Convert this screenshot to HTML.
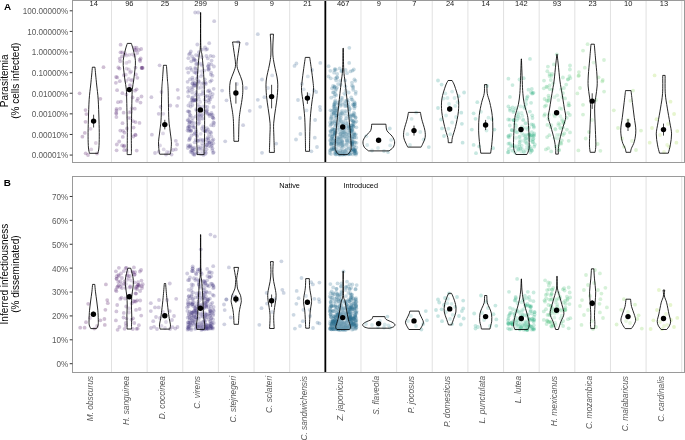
<!DOCTYPE html><html><head><meta charset="utf-8"><style>html,body{margin:0;padding:0;background:#fff;width:685px;height:440px;overflow:hidden}svg{display:block}text{font-family:"Liberation Sans",sans-serif}</style></head><body>
<svg width="685" height="440" viewBox="0 0 685 440">
<rect width="685" height="440" fill="#fff"/>
<line x1="111.50" y1="0.50" x2="111.50" y2="162.50" stroke="#dedede" stroke-width="0.9"/>
<line x1="147.14" y1="0.50" x2="147.14" y2="162.50" stroke="#dedede" stroke-width="0.9"/>
<line x1="182.78" y1="0.50" x2="182.78" y2="162.50" stroke="#dedede" stroke-width="0.9"/>
<line x1="218.42" y1="0.50" x2="218.42" y2="162.50" stroke="#dedede" stroke-width="0.9"/>
<line x1="254.06" y1="0.50" x2="254.06" y2="162.50" stroke="#dedede" stroke-width="0.9"/>
<line x1="289.70" y1="0.50" x2="289.70" y2="162.50" stroke="#dedede" stroke-width="0.9"/>
<line x1="360.98" y1="0.50" x2="360.98" y2="162.50" stroke="#dedede" stroke-width="0.9"/>
<line x1="396.62" y1="0.50" x2="396.62" y2="162.50" stroke="#dedede" stroke-width="0.9"/>
<line x1="432.26" y1="0.50" x2="432.26" y2="162.50" stroke="#dedede" stroke-width="0.9"/>
<line x1="467.90" y1="0.50" x2="467.90" y2="162.50" stroke="#dedede" stroke-width="0.9"/>
<line x1="503.54" y1="0.50" x2="503.54" y2="162.50" stroke="#dedede" stroke-width="0.9"/>
<line x1="539.18" y1="0.50" x2="539.18" y2="162.50" stroke="#dedede" stroke-width="0.9"/>
<line x1="574.82" y1="0.50" x2="574.82" y2="162.50" stroke="#dedede" stroke-width="0.9"/>
<line x1="610.46" y1="0.50" x2="610.46" y2="162.50" stroke="#dedede" stroke-width="0.9"/>
<line x1="646.10" y1="0.50" x2="646.10" y2="162.50" stroke="#dedede" stroke-width="0.9"/>
<line x1="681.74" y1="0.50" x2="681.74" y2="162.50" stroke="#dedede" stroke-width="0.9"/>
<circle cx="103.5" cy="67.2" r="1.9" fill="#440154" fill-opacity="0.25"/>
<circle cx="79.6" cy="93.3" r="1.9" fill="#440154" fill-opacity="0.25"/>
<circle cx="100.4" cy="98.8" r="1.9" fill="#440154" fill-opacity="0.25"/>
<circle cx="85.5" cy="110.1" r="1.9" fill="#440154" fill-opacity="0.25"/>
<circle cx="86.4" cy="114.1" r="1.9" fill="#440154" fill-opacity="0.25"/>
<circle cx="85.5" cy="121.8" r="1.9" fill="#440154" fill-opacity="0.25"/>
<circle cx="90.6" cy="128.8" r="1.9" fill="#440154" fill-opacity="0.25"/>
<circle cx="84.8" cy="132.9" r="1.9" fill="#440154" fill-opacity="0.25"/>
<circle cx="82.4" cy="136.7" r="1.9" fill="#440154" fill-opacity="0.25"/>
<circle cx="95.8" cy="143.0" r="1.9" fill="#440154" fill-opacity="0.25"/>
<circle cx="91.2" cy="149.4" r="1.9" fill="#440154" fill-opacity="0.25"/>
<circle cx="85.7" cy="153.3" r="1.9" fill="#440154" fill-opacity="0.25"/>
<circle cx="97.0" cy="153.5" r="1.9" fill="#440154" fill-opacity="0.25"/>
<circle cx="88.0" cy="155.0" r="1.9" fill="#440154" fill-opacity="0.25"/>
<circle cx="123.9" cy="75.2" r="1.9" fill="#481467" fill-opacity="0.25"/>
<circle cx="120.2" cy="61.3" r="1.9" fill="#481467" fill-opacity="0.25"/>
<circle cx="120.5" cy="52.3" r="1.9" fill="#481467" fill-opacity="0.25"/>
<circle cx="119.8" cy="81.2" r="1.9" fill="#481467" fill-opacity="0.25"/>
<circle cx="116.5" cy="110.4" r="1.9" fill="#481467" fill-opacity="0.25"/>
<circle cx="135.9" cy="74.4" r="1.9" fill="#481467" fill-opacity="0.25"/>
<circle cx="136.6" cy="47.7" r="1.9" fill="#481467" fill-opacity="0.25"/>
<circle cx="139.7" cy="59.7" r="1.9" fill="#481467" fill-opacity="0.25"/>
<circle cx="130.0" cy="86.0" r="1.9" fill="#481467" fill-opacity="0.25"/>
<circle cx="122.1" cy="145.4" r="1.9" fill="#481467" fill-opacity="0.25"/>
<circle cx="130.8" cy="111.9" r="1.9" fill="#481467" fill-opacity="0.25"/>
<circle cx="141.7" cy="68.0" r="1.9" fill="#481467" fill-opacity="0.25"/>
<circle cx="122.0" cy="56.3" r="1.9" fill="#481467" fill-opacity="0.25"/>
<circle cx="117.2" cy="77.4" r="1.9" fill="#481467" fill-opacity="0.25"/>
<circle cx="136.7" cy="150.6" r="1.9" fill="#481467" fill-opacity="0.25"/>
<circle cx="128.8" cy="69.5" r="1.9" fill="#481467" fill-opacity="0.25"/>
<circle cx="132.3" cy="54.3" r="1.9" fill="#481467" fill-opacity="0.25"/>
<circle cx="136.6" cy="89.3" r="1.9" fill="#481467" fill-opacity="0.25"/>
<circle cx="120.3" cy="130.6" r="1.9" fill="#481467" fill-opacity="0.25"/>
<circle cx="123.6" cy="112.7" r="1.9" fill="#481467" fill-opacity="0.25"/>
<circle cx="115.9" cy="82.8" r="1.9" fill="#481467" fill-opacity="0.25"/>
<circle cx="137.4" cy="77.8" r="1.9" fill="#481467" fill-opacity="0.25"/>
<circle cx="137.2" cy="53.1" r="1.9" fill="#481467" fill-opacity="0.25"/>
<circle cx="139.5" cy="122.9" r="1.9" fill="#481467" fill-opacity="0.25"/>
<circle cx="120.6" cy="44.7" r="1.9" fill="#481467" fill-opacity="0.25"/>
<circle cx="127.0" cy="128.5" r="1.9" fill="#481467" fill-opacity="0.25"/>
<circle cx="128.3" cy="117.9" r="1.9" fill="#481467" fill-opacity="0.25"/>
<circle cx="119.5" cy="68.6" r="1.9" fill="#481467" fill-opacity="0.25"/>
<circle cx="130.4" cy="118.2" r="1.9" fill="#481467" fill-opacity="0.25"/>
<circle cx="122.8" cy="136.9" r="1.9" fill="#481467" fill-opacity="0.25"/>
<circle cx="131.3" cy="80.5" r="1.9" fill="#481467" fill-opacity="0.25"/>
<circle cx="135.0" cy="90.7" r="1.9" fill="#481467" fill-opacity="0.25"/>
<circle cx="126.7" cy="55.5" r="1.9" fill="#481467" fill-opacity="0.25"/>
<circle cx="128.8" cy="79.0" r="1.9" fill="#481467" fill-opacity="0.25"/>
<circle cx="140.7" cy="58.5" r="1.9" fill="#481467" fill-opacity="0.25"/>
<circle cx="120.9" cy="101.7" r="1.9" fill="#481467" fill-opacity="0.25"/>
<circle cx="140.2" cy="61.1" r="1.9" fill="#481467" fill-opacity="0.25"/>
<circle cx="123.9" cy="146.5" r="1.9" fill="#481467" fill-opacity="0.25"/>
<circle cx="118.0" cy="102.2" r="1.9" fill="#481467" fill-opacity="0.25"/>
<circle cx="116.2" cy="112.8" r="1.9" fill="#481467" fill-opacity="0.25"/>
<circle cx="125.0" cy="53.1" r="1.9" fill="#481467" fill-opacity="0.25"/>
<circle cx="119.8" cy="58.7" r="1.9" fill="#481467" fill-opacity="0.25"/>
<circle cx="142.2" cy="67.7" r="1.9" fill="#481467" fill-opacity="0.25"/>
<circle cx="130.1" cy="72.6" r="1.9" fill="#481467" fill-opacity="0.25"/>
<circle cx="130.0" cy="84.9" r="1.9" fill="#481467" fill-opacity="0.25"/>
<circle cx="131.7" cy="108.3" r="1.9" fill="#481467" fill-opacity="0.25"/>
<circle cx="116.5" cy="109.0" r="1.9" fill="#481467" fill-opacity="0.25"/>
<circle cx="137.9" cy="98.7" r="1.9" fill="#481467" fill-opacity="0.25"/>
<circle cx="117.1" cy="90.2" r="1.9" fill="#481467" fill-opacity="0.25"/>
<circle cx="131.1" cy="71.6" r="1.9" fill="#481467" fill-opacity="0.25"/>
<circle cx="141.2" cy="49.0" r="1.9" fill="#481467" fill-opacity="0.25"/>
<circle cx="129.3" cy="61.7" r="1.9" fill="#481467" fill-opacity="0.25"/>
<circle cx="135.9" cy="50.2" r="1.9" fill="#481467" fill-opacity="0.25"/>
<circle cx="142.7" cy="68.0" r="1.9" fill="#481467" fill-opacity="0.25"/>
<circle cx="135.6" cy="135.2" r="1.9" fill="#481467" fill-opacity="0.25"/>
<circle cx="137.0" cy="100.8" r="1.9" fill="#481467" fill-opacity="0.25"/>
<circle cx="123.0" cy="130.8" r="1.9" fill="#481467" fill-opacity="0.25"/>
<circle cx="125.8" cy="74.7" r="1.9" fill="#481467" fill-opacity="0.25"/>
<circle cx="133.4" cy="136.5" r="1.9" fill="#481467" fill-opacity="0.25"/>
<circle cx="116.6" cy="150.3" r="1.9" fill="#481467" fill-opacity="0.25"/>
<circle cx="126.6" cy="150.1" r="1.9" fill="#481467" fill-opacity="0.25"/>
<circle cx="122.5" cy="123.2" r="1.9" fill="#481467" fill-opacity="0.25"/>
<circle cx="135.5" cy="67.6" r="1.9" fill="#481467" fill-opacity="0.25"/>
<circle cx="133.0" cy="121.2" r="1.9" fill="#481467" fill-opacity="0.25"/>
<circle cx="135.3" cy="134.6" r="1.9" fill="#481467" fill-opacity="0.25"/>
<circle cx="134.6" cy="47.7" r="1.9" fill="#481467" fill-opacity="0.25"/>
<circle cx="126.6" cy="68.6" r="1.9" fill="#481467" fill-opacity="0.25"/>
<circle cx="118.3" cy="67.5" r="1.9" fill="#481467" fill-opacity="0.25"/>
<circle cx="116.3" cy="113.8" r="1.9" fill="#481467" fill-opacity="0.25"/>
<circle cx="132.3" cy="79.9" r="1.9" fill="#481467" fill-opacity="0.25"/>
<circle cx="126.4" cy="62.9" r="1.9" fill="#481467" fill-opacity="0.25"/>
<circle cx="135.5" cy="122.1" r="1.9" fill="#481467" fill-opacity="0.25"/>
<circle cx="133.6" cy="127.6" r="1.9" fill="#481467" fill-opacity="0.25"/>
<circle cx="134.8" cy="108.7" r="1.9" fill="#481467" fill-opacity="0.25"/>
<circle cx="124.3" cy="145.7" r="1.9" fill="#481467" fill-opacity="0.25"/>
<circle cx="126.3" cy="80.9" r="1.9" fill="#481467" fill-opacity="0.25"/>
<circle cx="132.6" cy="97.4" r="1.9" fill="#481467" fill-opacity="0.25"/>
<circle cx="120.1" cy="108.6" r="1.9" fill="#481467" fill-opacity="0.25"/>
<circle cx="124.2" cy="150.2" r="1.9" fill="#481467" fill-opacity="0.25"/>
<circle cx="122.4" cy="93.2" r="1.9" fill="#481467" fill-opacity="0.25"/>
<circle cx="126.4" cy="94.6" r="1.9" fill="#481467" fill-opacity="0.25"/>
<circle cx="134.4" cy="55.7" r="1.9" fill="#481467" fill-opacity="0.25"/>
<circle cx="116.1" cy="77.0" r="1.9" fill="#481467" fill-opacity="0.25"/>
<circle cx="129.1" cy="112.4" r="1.9" fill="#481467" fill-opacity="0.25"/>
<circle cx="124.5" cy="132.7" r="1.9" fill="#481467" fill-opacity="0.25"/>
<circle cx="134.9" cy="49.9" r="1.9" fill="#481467" fill-opacity="0.25"/>
<circle cx="119.2" cy="141.5" r="1.9" fill="#481467" fill-opacity="0.25"/>
<circle cx="124.9" cy="54.6" r="1.9" fill="#481467" fill-opacity="0.25"/>
<circle cx="141.5" cy="96.5" r="1.9" fill="#481467" fill-opacity="0.25"/>
<circle cx="116.4" cy="117.1" r="1.9" fill="#481467" fill-opacity="0.25"/>
<circle cx="122.2" cy="52.4" r="1.9" fill="#481467" fill-opacity="0.25"/>
<circle cx="129.3" cy="54.8" r="1.9" fill="#481467" fill-opacity="0.25"/>
<circle cx="138.8" cy="50.0" r="1.9" fill="#481467" fill-opacity="0.25"/>
<circle cx="140.5" cy="102.6" r="1.9" fill="#481467" fill-opacity="0.25"/>
<circle cx="116.8" cy="144.5" r="1.9" fill="#481467" fill-opacity="0.25"/>
<circle cx="141.6" cy="67.9" r="1.9" fill="#481467" fill-opacity="0.25"/>
<circle cx="159.6" cy="65.3" r="1.9" fill="#482677" fill-opacity="0.25"/>
<circle cx="151.4" cy="97.2" r="1.9" fill="#482677" fill-opacity="0.25"/>
<circle cx="161.5" cy="92.0" r="1.9" fill="#482677" fill-opacity="0.25"/>
<circle cx="177.7" cy="89.8" r="1.9" fill="#482677" fill-opacity="0.25"/>
<circle cx="178.4" cy="97.9" r="1.9" fill="#482677" fill-opacity="0.25"/>
<circle cx="177.1" cy="105.8" r="1.9" fill="#482677" fill-opacity="0.25"/>
<circle cx="170.3" cy="105.5" r="1.9" fill="#482677" fill-opacity="0.25"/>
<circle cx="160.6" cy="106.8" r="1.9" fill="#482677" fill-opacity="0.25"/>
<circle cx="158.7" cy="113.8" r="1.9" fill="#482677" fill-opacity="0.25"/>
<circle cx="163.3" cy="113.8" r="1.9" fill="#482677" fill-opacity="0.25"/>
<circle cx="151.9" cy="134.7" r="1.9" fill="#482677" fill-opacity="0.25"/>
<circle cx="163.0" cy="133.4" r="1.9" fill="#482677" fill-opacity="0.25"/>
<circle cx="175.8" cy="140.8" r="1.9" fill="#482677" fill-opacity="0.25"/>
<circle cx="177.1" cy="144.5" r="1.9" fill="#482677" fill-opacity="0.25"/>
<circle cx="160.0" cy="145.4" r="1.9" fill="#482677" fill-opacity="0.25"/>
<circle cx="163.7" cy="149.4" r="1.9" fill="#482677" fill-opacity="0.25"/>
<circle cx="167.0" cy="151.8" r="1.9" fill="#482677" fill-opacity="0.25"/>
<circle cx="171.6" cy="154.6" r="1.9" fill="#482677" fill-opacity="0.25"/>
<circle cx="175.8" cy="149.4" r="1.9" fill="#482677" fill-opacity="0.25"/>
<circle cx="158.7" cy="151.8" r="1.9" fill="#482677" fill-opacity="0.25"/>
<circle cx="166.0" cy="154.5" r="1.9" fill="#482677" fill-opacity="0.25"/>
<circle cx="155.0" cy="153.0" r="1.9" fill="#482677" fill-opacity="0.25"/>
<circle cx="169.0" cy="152.5" r="1.9" fill="#482677" fill-opacity="0.25"/>
<circle cx="173.0" cy="150.0" r="1.9" fill="#482677" fill-opacity="0.25"/>
<circle cx="195.2" cy="12.5" r="1.9" fill="#453781" fill-opacity="0.25"/>
<circle cx="198.2" cy="12.5" r="1.9" fill="#453781" fill-opacity="0.25"/>
<circle cx="214.2" cy="21.2" r="1.9" fill="#453781" fill-opacity="0.25"/>
<circle cx="197.3" cy="44.5" r="1.9" fill="#453781" fill-opacity="0.25"/>
<circle cx="209.2" cy="43.2" r="1.9" fill="#453781" fill-opacity="0.25"/>
<circle cx="205.0" cy="47.5" r="1.9" fill="#453781" fill-opacity="0.25"/>
<circle cx="205.9" cy="49.7" r="1.9" fill="#453781" fill-opacity="0.25"/>
<circle cx="190.8" cy="51.5" r="1.9" fill="#453781" fill-opacity="0.25"/>
<circle cx="189.0" cy="54.3" r="1.9" fill="#453781" fill-opacity="0.25"/>
<circle cx="189.9" cy="138.1" r="1.9" fill="#453781" fill-opacity="0.25"/>
<circle cx="208.9" cy="146.0" r="1.9" fill="#453781" fill-opacity="0.25"/>
<circle cx="192.8" cy="118.0" r="1.9" fill="#453781" fill-opacity="0.25"/>
<circle cx="191.5" cy="69.9" r="1.9" fill="#453781" fill-opacity="0.25"/>
<circle cx="190.7" cy="106.6" r="1.9" fill="#453781" fill-opacity="0.25"/>
<circle cx="202.1" cy="49.6" r="1.9" fill="#453781" fill-opacity="0.25"/>
<circle cx="206.1" cy="152.8" r="1.9" fill="#453781" fill-opacity="0.25"/>
<circle cx="192.6" cy="101.1" r="1.9" fill="#453781" fill-opacity="0.25"/>
<circle cx="191.7" cy="87.6" r="1.9" fill="#453781" fill-opacity="0.25"/>
<circle cx="202.9" cy="126.5" r="1.9" fill="#453781" fill-opacity="0.25"/>
<circle cx="190.4" cy="145.2" r="1.9" fill="#453781" fill-opacity="0.25"/>
<circle cx="208.9" cy="64.0" r="1.9" fill="#453781" fill-opacity="0.25"/>
<circle cx="194.6" cy="142.3" r="1.9" fill="#453781" fill-opacity="0.25"/>
<circle cx="202.2" cy="143.5" r="1.9" fill="#453781" fill-opacity="0.25"/>
<circle cx="197.2" cy="140.6" r="1.9" fill="#453781" fill-opacity="0.25"/>
<circle cx="199.3" cy="111.3" r="1.9" fill="#453781" fill-opacity="0.25"/>
<circle cx="203.0" cy="93.2" r="1.9" fill="#453781" fill-opacity="0.25"/>
<circle cx="212.6" cy="117.4" r="1.9" fill="#453781" fill-opacity="0.25"/>
<circle cx="192.7" cy="148.4" r="1.9" fill="#453781" fill-opacity="0.25"/>
<circle cx="189.9" cy="79.3" r="1.9" fill="#453781" fill-opacity="0.25"/>
<circle cx="194.2" cy="59.4" r="1.9" fill="#453781" fill-opacity="0.25"/>
<circle cx="187.5" cy="130.5" r="1.9" fill="#453781" fill-opacity="0.25"/>
<circle cx="187.8" cy="127.9" r="1.9" fill="#453781" fill-opacity="0.25"/>
<circle cx="189.0" cy="123.5" r="1.9" fill="#453781" fill-opacity="0.25"/>
<circle cx="199.8" cy="94.7" r="1.9" fill="#453781" fill-opacity="0.25"/>
<circle cx="210.1" cy="142.2" r="1.9" fill="#453781" fill-opacity="0.25"/>
<circle cx="196.7" cy="94.3" r="1.9" fill="#453781" fill-opacity="0.25"/>
<circle cx="196.4" cy="133.7" r="1.9" fill="#453781" fill-opacity="0.25"/>
<circle cx="197.0" cy="136.7" r="1.9" fill="#453781" fill-opacity="0.25"/>
<circle cx="189.9" cy="122.7" r="1.9" fill="#453781" fill-opacity="0.25"/>
<circle cx="204.6" cy="99.7" r="1.9" fill="#453781" fill-opacity="0.25"/>
<circle cx="190.4" cy="68.0" r="1.9" fill="#453781" fill-opacity="0.25"/>
<circle cx="198.1" cy="117.0" r="1.9" fill="#453781" fill-opacity="0.25"/>
<circle cx="196.0" cy="55.1" r="1.9" fill="#453781" fill-opacity="0.25"/>
<circle cx="192.1" cy="98.2" r="1.9" fill="#453781" fill-opacity="0.25"/>
<circle cx="197.0" cy="152.7" r="1.9" fill="#453781" fill-opacity="0.25"/>
<circle cx="201.8" cy="57.2" r="1.9" fill="#453781" fill-opacity="0.25"/>
<circle cx="198.8" cy="148.4" r="1.9" fill="#453781" fill-opacity="0.25"/>
<circle cx="191.3" cy="61.3" r="1.9" fill="#453781" fill-opacity="0.25"/>
<circle cx="195.7" cy="139.8" r="1.9" fill="#453781" fill-opacity="0.25"/>
<circle cx="201.9" cy="115.0" r="1.9" fill="#453781" fill-opacity="0.25"/>
<circle cx="208.2" cy="69.7" r="1.9" fill="#453781" fill-opacity="0.25"/>
<circle cx="189.5" cy="111.9" r="1.9" fill="#453781" fill-opacity="0.25"/>
<circle cx="201.5" cy="83.9" r="1.9" fill="#453781" fill-opacity="0.25"/>
<circle cx="210.3" cy="131.9" r="1.9" fill="#453781" fill-opacity="0.25"/>
<circle cx="202.6" cy="118.7" r="1.9" fill="#453781" fill-opacity="0.25"/>
<circle cx="196.6" cy="110.6" r="1.9" fill="#453781" fill-opacity="0.25"/>
<circle cx="189.7" cy="114.6" r="1.9" fill="#453781" fill-opacity="0.25"/>
<circle cx="198.9" cy="52.2" r="1.9" fill="#453781" fill-opacity="0.25"/>
<circle cx="205.1" cy="153.9" r="1.9" fill="#453781" fill-opacity="0.25"/>
<circle cx="192.4" cy="77.6" r="1.9" fill="#453781" fill-opacity="0.25"/>
<circle cx="210.6" cy="55.8" r="1.9" fill="#453781" fill-opacity="0.25"/>
<circle cx="208.5" cy="100.2" r="1.9" fill="#453781" fill-opacity="0.25"/>
<circle cx="193.3" cy="151.0" r="1.9" fill="#453781" fill-opacity="0.25"/>
<circle cx="207.0" cy="128.1" r="1.9" fill="#453781" fill-opacity="0.25"/>
<circle cx="213.1" cy="153.0" r="1.9" fill="#453781" fill-opacity="0.25"/>
<circle cx="212.7" cy="94.1" r="1.9" fill="#453781" fill-opacity="0.25"/>
<circle cx="190.7" cy="131.3" r="1.9" fill="#453781" fill-opacity="0.25"/>
<circle cx="198.8" cy="81.3" r="1.9" fill="#453781" fill-opacity="0.25"/>
<circle cx="196.5" cy="131.6" r="1.9" fill="#453781" fill-opacity="0.25"/>
<circle cx="190.3" cy="102.8" r="1.9" fill="#453781" fill-opacity="0.25"/>
<circle cx="213.4" cy="139.5" r="1.9" fill="#453781" fill-opacity="0.25"/>
<circle cx="208.2" cy="129.6" r="1.9" fill="#453781" fill-opacity="0.25"/>
<circle cx="207.4" cy="107.0" r="1.9" fill="#453781" fill-opacity="0.25"/>
<circle cx="210.9" cy="74.6" r="1.9" fill="#453781" fill-opacity="0.25"/>
<circle cx="187.8" cy="148.0" r="1.9" fill="#453781" fill-opacity="0.25"/>
<circle cx="188.8" cy="111.3" r="1.9" fill="#453781" fill-opacity="0.25"/>
<circle cx="188.0" cy="145.5" r="1.9" fill="#453781" fill-opacity="0.25"/>
<circle cx="202.3" cy="151.2" r="1.9" fill="#453781" fill-opacity="0.25"/>
<circle cx="208.8" cy="69.6" r="1.9" fill="#453781" fill-opacity="0.25"/>
<circle cx="202.1" cy="115.0" r="1.9" fill="#453781" fill-opacity="0.25"/>
<circle cx="198.5" cy="80.9" r="1.9" fill="#453781" fill-opacity="0.25"/>
<circle cx="192.3" cy="150.4" r="1.9" fill="#453781" fill-opacity="0.25"/>
<circle cx="211.3" cy="136.4" r="1.9" fill="#453781" fill-opacity="0.25"/>
<circle cx="193.2" cy="154.1" r="1.9" fill="#453781" fill-opacity="0.25"/>
<circle cx="206.8" cy="144.9" r="1.9" fill="#453781" fill-opacity="0.25"/>
<circle cx="212.0" cy="145.6" r="1.9" fill="#453781" fill-opacity="0.25"/>
<circle cx="213.0" cy="117.6" r="1.9" fill="#453781" fill-opacity="0.25"/>
<circle cx="196.3" cy="109.2" r="1.9" fill="#453781" fill-opacity="0.25"/>
<circle cx="194.0" cy="60.4" r="1.9" fill="#453781" fill-opacity="0.25"/>
<circle cx="213.9" cy="66.5" r="1.9" fill="#453781" fill-opacity="0.25"/>
<circle cx="192.1" cy="56.5" r="1.9" fill="#453781" fill-opacity="0.25"/>
<circle cx="189.6" cy="117.5" r="1.9" fill="#453781" fill-opacity="0.25"/>
<circle cx="214.1" cy="123.0" r="1.9" fill="#453781" fill-opacity="0.25"/>
<circle cx="198.5" cy="123.8" r="1.9" fill="#453781" fill-opacity="0.25"/>
<circle cx="212.3" cy="150.1" r="1.9" fill="#453781" fill-opacity="0.25"/>
<circle cx="192.4" cy="125.7" r="1.9" fill="#453781" fill-opacity="0.25"/>
<circle cx="206.8" cy="110.8" r="1.9" fill="#453781" fill-opacity="0.25"/>
<circle cx="197.9" cy="141.0" r="1.9" fill="#453781" fill-opacity="0.25"/>
<circle cx="206.5" cy="149.3" r="1.9" fill="#453781" fill-opacity="0.25"/>
<circle cx="199.4" cy="122.5" r="1.9" fill="#453781" fill-opacity="0.25"/>
<circle cx="209.6" cy="95.9" r="1.9" fill="#453781" fill-opacity="0.25"/>
<circle cx="198.5" cy="88.1" r="1.9" fill="#453781" fill-opacity="0.25"/>
<circle cx="190.2" cy="146.4" r="1.9" fill="#453781" fill-opacity="0.25"/>
<circle cx="197.8" cy="77.0" r="1.9" fill="#453781" fill-opacity="0.25"/>
<circle cx="198.9" cy="63.1" r="1.9" fill="#453781" fill-opacity="0.25"/>
<circle cx="196.0" cy="100.4" r="1.9" fill="#453781" fill-opacity="0.25"/>
<circle cx="187.6" cy="120.1" r="1.9" fill="#453781" fill-opacity="0.25"/>
<circle cx="189.6" cy="126.9" r="1.9" fill="#453781" fill-opacity="0.25"/>
<circle cx="208.4" cy="113.8" r="1.9" fill="#453781" fill-opacity="0.25"/>
<circle cx="188.4" cy="120.3" r="1.9" fill="#453781" fill-opacity="0.25"/>
<circle cx="203.5" cy="154.9" r="1.9" fill="#453781" fill-opacity="0.25"/>
<circle cx="194.4" cy="123.1" r="1.9" fill="#453781" fill-opacity="0.25"/>
<circle cx="200.7" cy="133.8" r="1.9" fill="#453781" fill-opacity="0.25"/>
<circle cx="194.7" cy="149.4" r="1.9" fill="#453781" fill-opacity="0.25"/>
<circle cx="207.2" cy="49.1" r="1.9" fill="#453781" fill-opacity="0.25"/>
<circle cx="205.6" cy="82.7" r="1.9" fill="#453781" fill-opacity="0.25"/>
<circle cx="204.8" cy="79.3" r="1.9" fill="#453781" fill-opacity="0.25"/>
<circle cx="211.6" cy="60.6" r="1.9" fill="#453781" fill-opacity="0.25"/>
<circle cx="209.3" cy="97.9" r="1.9" fill="#453781" fill-opacity="0.25"/>
<circle cx="195.5" cy="72.7" r="1.9" fill="#453781" fill-opacity="0.25"/>
<circle cx="194.0" cy="85.9" r="1.9" fill="#453781" fill-opacity="0.25"/>
<circle cx="213.6" cy="152.2" r="1.9" fill="#453781" fill-opacity="0.25"/>
<circle cx="193.9" cy="85.1" r="1.9" fill="#453781" fill-opacity="0.25"/>
<circle cx="209.0" cy="68.2" r="1.9" fill="#453781" fill-opacity="0.25"/>
<circle cx="194.2" cy="147.6" r="1.9" fill="#453781" fill-opacity="0.25"/>
<circle cx="195.8" cy="60.6" r="1.9" fill="#453781" fill-opacity="0.25"/>
<circle cx="191.7" cy="100.0" r="1.9" fill="#453781" fill-opacity="0.25"/>
<circle cx="196.8" cy="85.5" r="1.9" fill="#453781" fill-opacity="0.25"/>
<circle cx="204.2" cy="83.6" r="1.9" fill="#453781" fill-opacity="0.25"/>
<circle cx="187.8" cy="111.3" r="1.9" fill="#453781" fill-opacity="0.25"/>
<circle cx="191.4" cy="150.5" r="1.9" fill="#453781" fill-opacity="0.25"/>
<circle cx="207.0" cy="95.8" r="1.9" fill="#453781" fill-opacity="0.25"/>
<circle cx="199.0" cy="99.1" r="1.9" fill="#453781" fill-opacity="0.25"/>
<circle cx="189.1" cy="146.5" r="1.9" fill="#453781" fill-opacity="0.25"/>
<circle cx="190.6" cy="151.9" r="1.9" fill="#453781" fill-opacity="0.25"/>
<circle cx="201.0" cy="154.2" r="1.9" fill="#453781" fill-opacity="0.25"/>
<circle cx="195.8" cy="116.4" r="1.9" fill="#453781" fill-opacity="0.25"/>
<circle cx="195.4" cy="68.9" r="1.9" fill="#453781" fill-opacity="0.25"/>
<circle cx="190.6" cy="115.4" r="1.9" fill="#453781" fill-opacity="0.25"/>
<circle cx="211.4" cy="143.6" r="1.9" fill="#453781" fill-opacity="0.25"/>
<circle cx="205.9" cy="101.6" r="1.9" fill="#453781" fill-opacity="0.25"/>
<circle cx="198.2" cy="153.2" r="1.9" fill="#453781" fill-opacity="0.25"/>
<circle cx="209.1" cy="102.5" r="1.9" fill="#453781" fill-opacity="0.25"/>
<circle cx="198.6" cy="55.7" r="1.9" fill="#453781" fill-opacity="0.25"/>
<circle cx="194.3" cy="127.1" r="1.9" fill="#453781" fill-opacity="0.25"/>
<circle cx="189.7" cy="139.0" r="1.9" fill="#453781" fill-opacity="0.25"/>
<circle cx="213.3" cy="143.2" r="1.9" fill="#453781" fill-opacity="0.25"/>
<circle cx="200.6" cy="147.8" r="1.9" fill="#453781" fill-opacity="0.25"/>
<circle cx="213.5" cy="125.4" r="1.9" fill="#453781" fill-opacity="0.25"/>
<circle cx="211.3" cy="64.3" r="1.9" fill="#453781" fill-opacity="0.25"/>
<circle cx="208.5" cy="66.3" r="1.9" fill="#453781" fill-opacity="0.25"/>
<circle cx="209.3" cy="142.8" r="1.9" fill="#453781" fill-opacity="0.25"/>
<circle cx="213.5" cy="106.9" r="1.9" fill="#453781" fill-opacity="0.25"/>
<circle cx="202.1" cy="94.3" r="1.9" fill="#453781" fill-opacity="0.25"/>
<circle cx="188.4" cy="126.7" r="1.9" fill="#453781" fill-opacity="0.25"/>
<circle cx="191.8" cy="120.8" r="1.9" fill="#453781" fill-opacity="0.25"/>
<circle cx="194.2" cy="72.1" r="1.9" fill="#453781" fill-opacity="0.25"/>
<circle cx="188.3" cy="96.3" r="1.9" fill="#453781" fill-opacity="0.25"/>
<circle cx="191.1" cy="147.4" r="1.9" fill="#453781" fill-opacity="0.25"/>
<circle cx="206.9" cy="110.1" r="1.9" fill="#453781" fill-opacity="0.25"/>
<circle cx="203.6" cy="87.1" r="1.9" fill="#453781" fill-opacity="0.25"/>
<circle cx="191.5" cy="135.5" r="1.9" fill="#453781" fill-opacity="0.25"/>
<circle cx="192.2" cy="92.5" r="1.9" fill="#453781" fill-opacity="0.25"/>
<circle cx="194.2" cy="134.2" r="1.9" fill="#453781" fill-opacity="0.25"/>
<circle cx="192.8" cy="79.9" r="1.9" fill="#453781" fill-opacity="0.25"/>
<circle cx="207.8" cy="58.4" r="1.9" fill="#453781" fill-opacity="0.25"/>
<circle cx="212.5" cy="148.3" r="1.9" fill="#453781" fill-opacity="0.25"/>
<circle cx="203.0" cy="139.8" r="1.9" fill="#453781" fill-opacity="0.25"/>
<circle cx="209.2" cy="90.5" r="1.9" fill="#453781" fill-opacity="0.25"/>
<circle cx="192.1" cy="152.6" r="1.9" fill="#453781" fill-opacity="0.25"/>
<circle cx="189.8" cy="121.7" r="1.9" fill="#453781" fill-opacity="0.25"/>
<circle cx="202.3" cy="148.6" r="1.9" fill="#453781" fill-opacity="0.25"/>
<circle cx="197.7" cy="70.9" r="1.9" fill="#453781" fill-opacity="0.25"/>
<circle cx="196.7" cy="79.0" r="1.9" fill="#453781" fill-opacity="0.25"/>
<circle cx="213.5" cy="118.6" r="1.9" fill="#453781" fill-opacity="0.25"/>
<circle cx="210.3" cy="92.5" r="1.9" fill="#453781" fill-opacity="0.25"/>
<circle cx="198.3" cy="96.7" r="1.9" fill="#453781" fill-opacity="0.25"/>
<circle cx="201.8" cy="71.2" r="1.9" fill="#453781" fill-opacity="0.25"/>
<circle cx="198.8" cy="120.6" r="1.9" fill="#453781" fill-opacity="0.25"/>
<circle cx="209.1" cy="134.4" r="1.9" fill="#453781" fill-opacity="0.25"/>
<circle cx="207.1" cy="142.7" r="1.9" fill="#453781" fill-opacity="0.25"/>
<circle cx="202.3" cy="145.7" r="1.9" fill="#453781" fill-opacity="0.25"/>
<circle cx="212.8" cy="115.1" r="1.9" fill="#453781" fill-opacity="0.25"/>
<circle cx="205.5" cy="96.3" r="1.9" fill="#453781" fill-opacity="0.25"/>
<circle cx="201.8" cy="128.4" r="1.9" fill="#453781" fill-opacity="0.25"/>
<circle cx="202.9" cy="106.5" r="1.9" fill="#453781" fill-opacity="0.25"/>
<circle cx="198.5" cy="146.7" r="1.9" fill="#453781" fill-opacity="0.25"/>
<circle cx="207.9" cy="66.1" r="1.9" fill="#453781" fill-opacity="0.25"/>
<circle cx="211.1" cy="72.6" r="1.9" fill="#453781" fill-opacity="0.25"/>
<circle cx="213.4" cy="122.4" r="1.9" fill="#453781" fill-opacity="0.25"/>
<circle cx="193.0" cy="100.7" r="1.9" fill="#453781" fill-opacity="0.25"/>
<circle cx="196.9" cy="135.5" r="1.9" fill="#453781" fill-opacity="0.25"/>
<circle cx="194.3" cy="154.9" r="1.9" fill="#453781" fill-opacity="0.25"/>
<circle cx="192.3" cy="83.5" r="1.9" fill="#453781" fill-opacity="0.25"/>
<circle cx="188.3" cy="72.6" r="1.9" fill="#453781" fill-opacity="0.25"/>
<circle cx="194.7" cy="133.1" r="1.9" fill="#453781" fill-opacity="0.25"/>
<circle cx="200.7" cy="87.5" r="1.9" fill="#453781" fill-opacity="0.25"/>
<circle cx="212.5" cy="75.7" r="1.9" fill="#453781" fill-opacity="0.25"/>
<circle cx="206.8" cy="145.2" r="1.9" fill="#453781" fill-opacity="0.25"/>
<circle cx="197.5" cy="83.7" r="1.9" fill="#453781" fill-opacity="0.25"/>
<circle cx="201.8" cy="65.4" r="1.9" fill="#453781" fill-opacity="0.25"/>
<circle cx="187.2" cy="68.4" r="1.9" fill="#453781" fill-opacity="0.25"/>
<circle cx="198.8" cy="115.2" r="1.9" fill="#453781" fill-opacity="0.25"/>
<circle cx="188.4" cy="105.5" r="1.9" fill="#453781" fill-opacity="0.25"/>
<circle cx="199.3" cy="119.4" r="1.9" fill="#453781" fill-opacity="0.25"/>
<circle cx="203.7" cy="111.5" r="1.9" fill="#453781" fill-opacity="0.25"/>
<circle cx="196.2" cy="92.1" r="1.9" fill="#453781" fill-opacity="0.25"/>
<circle cx="190.0" cy="53.4" r="1.9" fill="#453781" fill-opacity="0.25"/>
<circle cx="206.1" cy="139.4" r="1.9" fill="#453781" fill-opacity="0.25"/>
<circle cx="211.2" cy="132.8" r="1.9" fill="#453781" fill-opacity="0.25"/>
<circle cx="196.8" cy="73.5" r="1.9" fill="#453781" fill-opacity="0.25"/>
<circle cx="198.2" cy="113.6" r="1.9" fill="#453781" fill-opacity="0.25"/>
<circle cx="194.5" cy="83.0" r="1.9" fill="#453781" fill-opacity="0.25"/>
<circle cx="192.7" cy="97.4" r="1.9" fill="#453781" fill-opacity="0.25"/>
<circle cx="195.2" cy="67.9" r="1.9" fill="#453781" fill-opacity="0.25"/>
<circle cx="211.5" cy="112.9" r="1.9" fill="#453781" fill-opacity="0.25"/>
<circle cx="189.4" cy="90.5" r="1.9" fill="#453781" fill-opacity="0.25"/>
<circle cx="213.7" cy="88.8" r="1.9" fill="#453781" fill-opacity="0.25"/>
<circle cx="193.8" cy="100.0" r="1.9" fill="#453781" fill-opacity="0.25"/>
<circle cx="200.0" cy="140.7" r="1.9" fill="#453781" fill-opacity="0.25"/>
<circle cx="205.1" cy="151.5" r="1.9" fill="#453781" fill-opacity="0.25"/>
<circle cx="204.2" cy="70.6" r="1.9" fill="#453781" fill-opacity="0.25"/>
<circle cx="211.6" cy="80.3" r="1.9" fill="#453781" fill-opacity="0.25"/>
<circle cx="199.5" cy="149.0" r="1.9" fill="#453781" fill-opacity="0.25"/>
<circle cx="200.1" cy="101.9" r="1.9" fill="#453781" fill-opacity="0.25"/>
<circle cx="207.9" cy="91.2" r="1.9" fill="#453781" fill-opacity="0.25"/>
<circle cx="193.4" cy="127.3" r="1.9" fill="#453781" fill-opacity="0.25"/>
<circle cx="207.8" cy="137.4" r="1.9" fill="#453781" fill-opacity="0.25"/>
<circle cx="198.6" cy="82.3" r="1.9" fill="#453781" fill-opacity="0.25"/>
<circle cx="192.6" cy="83.7" r="1.9" fill="#453781" fill-opacity="0.25"/>
<circle cx="211.5" cy="114.6" r="1.9" fill="#453781" fill-opacity="0.25"/>
<circle cx="210.2" cy="81.6" r="1.9" fill="#453781" fill-opacity="0.25"/>
<circle cx="205.1" cy="106.5" r="1.9" fill="#453781" fill-opacity="0.25"/>
<circle cx="191.2" cy="130.6" r="1.9" fill="#453781" fill-opacity="0.25"/>
<circle cx="206.4" cy="56.0" r="1.9" fill="#453781" fill-opacity="0.25"/>
<circle cx="201.1" cy="64.0" r="1.9" fill="#453781" fill-opacity="0.25"/>
<circle cx="197.0" cy="63.8" r="1.9" fill="#453781" fill-opacity="0.25"/>
<circle cx="201.1" cy="76.3" r="1.9" fill="#453781" fill-opacity="0.25"/>
<circle cx="202.8" cy="91.2" r="1.9" fill="#453781" fill-opacity="0.25"/>
<circle cx="189.4" cy="126.3" r="1.9" fill="#453781" fill-opacity="0.25"/>
<circle cx="199.6" cy="114.5" r="1.9" fill="#453781" fill-opacity="0.25"/>
<circle cx="189.2" cy="129.4" r="1.9" fill="#453781" fill-opacity="0.25"/>
<circle cx="195.0" cy="83.3" r="1.9" fill="#453781" fill-opacity="0.25"/>
<circle cx="196.0" cy="99.9" r="1.9" fill="#453781" fill-opacity="0.25"/>
<circle cx="202.5" cy="140.1" r="1.9" fill="#453781" fill-opacity="0.25"/>
<circle cx="200.3" cy="139.4" r="1.9" fill="#453781" fill-opacity="0.25"/>
<circle cx="211.9" cy="96.9" r="1.9" fill="#453781" fill-opacity="0.25"/>
<circle cx="194.5" cy="153.9" r="1.9" fill="#453781" fill-opacity="0.25"/>
<circle cx="201.1" cy="115.9" r="1.9" fill="#453781" fill-opacity="0.25"/>
<circle cx="206.4" cy="112.1" r="1.9" fill="#453781" fill-opacity="0.25"/>
<circle cx="203.5" cy="141.1" r="1.9" fill="#453781" fill-opacity="0.25"/>
<circle cx="209.9" cy="114.6" r="1.9" fill="#453781" fill-opacity="0.25"/>
<circle cx="192.4" cy="89.2" r="1.9" fill="#453781" fill-opacity="0.25"/>
<circle cx="190.7" cy="130.1" r="1.9" fill="#453781" fill-opacity="0.25"/>
<circle cx="201.8" cy="118.4" r="1.9" fill="#453781" fill-opacity="0.25"/>
<circle cx="195.3" cy="95.1" r="1.9" fill="#453781" fill-opacity="0.25"/>
<circle cx="188.4" cy="58.2" r="1.9" fill="#453781" fill-opacity="0.25"/>
<circle cx="195.6" cy="99.6" r="1.9" fill="#453781" fill-opacity="0.25"/>
<circle cx="209.2" cy="142.6" r="1.9" fill="#453781" fill-opacity="0.25"/>
<circle cx="204.3" cy="131.0" r="1.9" fill="#453781" fill-opacity="0.25"/>
<circle cx="209.5" cy="116.0" r="1.9" fill="#453781" fill-opacity="0.25"/>
<circle cx="203.7" cy="127.2" r="1.9" fill="#453781" fill-opacity="0.25"/>
<circle cx="197.7" cy="104.6" r="1.9" fill="#453781" fill-opacity="0.25"/>
<circle cx="205.8" cy="84.0" r="1.9" fill="#453781" fill-opacity="0.25"/>
<circle cx="197.9" cy="140.6" r="1.9" fill="#453781" fill-opacity="0.25"/>
<circle cx="211.2" cy="125.2" r="1.9" fill="#453781" fill-opacity="0.25"/>
<circle cx="188.8" cy="130.8" r="1.9" fill="#453781" fill-opacity="0.25"/>
<circle cx="196.0" cy="64.1" r="1.9" fill="#453781" fill-opacity="0.25"/>
<circle cx="191.7" cy="122.6" r="1.9" fill="#453781" fill-opacity="0.25"/>
<circle cx="194.8" cy="100.6" r="1.9" fill="#453781" fill-opacity="0.25"/>
<circle cx="187.6" cy="81.8" r="1.9" fill="#453781" fill-opacity="0.25"/>
<circle cx="198.5" cy="123.7" r="1.9" fill="#453781" fill-opacity="0.25"/>
<circle cx="213.3" cy="56.3" r="1.9" fill="#453781" fill-opacity="0.25"/>
<circle cx="204.9" cy="130.5" r="1.9" fill="#453781" fill-opacity="0.25"/>
<circle cx="203.1" cy="82.8" r="1.9" fill="#453781" fill-opacity="0.25"/>
<circle cx="196.0" cy="129.8" r="1.9" fill="#453781" fill-opacity="0.25"/>
<circle cx="199.7" cy="106.9" r="1.9" fill="#453781" fill-opacity="0.25"/>
<circle cx="211.0" cy="146.4" r="1.9" fill="#453781" fill-opacity="0.25"/>
<circle cx="210.2" cy="99.4" r="1.9" fill="#453781" fill-opacity="0.25"/>
<circle cx="205.4" cy="131.2" r="1.9" fill="#453781" fill-opacity="0.25"/>
<circle cx="199.0" cy="106.2" r="1.9" fill="#453781" fill-opacity="0.25"/>
<circle cx="197.9" cy="118.8" r="1.9" fill="#453781" fill-opacity="0.25"/>
<circle cx="205.5" cy="146.8" r="1.9" fill="#453781" fill-opacity="0.25"/>
<circle cx="212.3" cy="140.3" r="1.9" fill="#453781" fill-opacity="0.25"/>
<circle cx="202.1" cy="74.7" r="1.9" fill="#453781" fill-opacity="0.25"/>
<circle cx="199.7" cy="116.4" r="1.9" fill="#453781" fill-opacity="0.25"/>
<circle cx="201.5" cy="109.5" r="1.9" fill="#453781" fill-opacity="0.25"/>
<circle cx="188.0" cy="91.8" r="1.9" fill="#453781" fill-opacity="0.25"/>
<circle cx="195.1" cy="85.5" r="1.9" fill="#453781" fill-opacity="0.25"/>
<circle cx="193.7" cy="58.6" r="1.9" fill="#453781" fill-opacity="0.25"/>
<circle cx="208.2" cy="140.1" r="1.9" fill="#453781" fill-opacity="0.25"/>
<circle cx="189.0" cy="140.2" r="1.9" fill="#453781" fill-opacity="0.25"/>
<circle cx="199.9" cy="110.6" r="1.9" fill="#453781" fill-opacity="0.25"/>
<circle cx="202.7" cy="130.1" r="1.9" fill="#453781" fill-opacity="0.25"/>
<circle cx="208.5" cy="138.5" r="1.9" fill="#453781" fill-opacity="0.25"/>
<circle cx="192.5" cy="104.9" r="1.9" fill="#453781" fill-opacity="0.25"/>
<circle cx="188.0" cy="87.8" r="1.9" fill="#453781" fill-opacity="0.25"/>
<circle cx="207.2" cy="131.5" r="1.9" fill="#453781" fill-opacity="0.25"/>
<circle cx="207.2" cy="113.6" r="1.9" fill="#453781" fill-opacity="0.25"/>
<circle cx="238.1" cy="42.0" r="1.9" fill="#3f4788" fill-opacity="0.25"/>
<circle cx="246.8" cy="43.8" r="1.9" fill="#3f4788" fill-opacity="0.25"/>
<circle cx="222.1" cy="90.6" r="1.9" fill="#3f4788" fill-opacity="0.25"/>
<circle cx="226.5" cy="100.3" r="1.9" fill="#3f4788" fill-opacity="0.25"/>
<circle cx="246.0" cy="88.0" r="1.9" fill="#3f4788" fill-opacity="0.25"/>
<circle cx="249.7" cy="110.8" r="1.9" fill="#3f4788" fill-opacity="0.25"/>
<circle cx="243.1" cy="125.2" r="1.9" fill="#3f4788" fill-opacity="0.25"/>
<circle cx="225.2" cy="141.3" r="1.9" fill="#3f4788" fill-opacity="0.25"/>
<circle cx="237.0" cy="84.0" r="1.9" fill="#3f4788" fill-opacity="0.25"/>
<circle cx="257.8" cy="34.2" r="1.9" fill="#39568c" fill-opacity="0.25"/>
<circle cx="272.2" cy="75.4" r="1.9" fill="#39568c" fill-opacity="0.25"/>
<circle cx="262.0" cy="79.5" r="1.9" fill="#39568c" fill-opacity="0.25"/>
<circle cx="257.8" cy="99.8" r="1.9" fill="#39568c" fill-opacity="0.25"/>
<circle cx="260.2" cy="106.8" r="1.9" fill="#39568c" fill-opacity="0.25"/>
<circle cx="264.4" cy="97.2" r="1.9" fill="#39568c" fill-opacity="0.25"/>
<circle cx="276.2" cy="143.6" r="1.9" fill="#39568c" fill-opacity="0.25"/>
<circle cx="262.0" cy="152.8" r="1.9" fill="#39568c" fill-opacity="0.25"/>
<circle cx="268.0" cy="88.0" r="1.9" fill="#39568c" fill-opacity="0.25"/>
<circle cx="294.5" cy="65.9" r="1.9" fill="#32648e" fill-opacity="0.25"/>
<circle cx="296.4" cy="63.5" r="1.9" fill="#32648e" fill-opacity="0.25"/>
<circle cx="320.3" cy="62.9" r="1.9" fill="#32648e" fill-opacity="0.25"/>
<circle cx="307.8" cy="76.4" r="1.9" fill="#32648e" fill-opacity="0.25"/>
<circle cx="303.7" cy="89.3" r="1.9" fill="#32648e" fill-opacity="0.25"/>
<circle cx="313.8" cy="90.2" r="1.9" fill="#32648e" fill-opacity="0.25"/>
<circle cx="316.2" cy="92.0" r="1.9" fill="#32648e" fill-opacity="0.25"/>
<circle cx="319.9" cy="106.8" r="1.9" fill="#32648e" fill-opacity="0.25"/>
<circle cx="320.3" cy="110.0" r="1.9" fill="#32648e" fill-opacity="0.25"/>
<circle cx="306.5" cy="110.4" r="1.9" fill="#32648e" fill-opacity="0.25"/>
<circle cx="315.1" cy="120.0" r="1.9" fill="#32648e" fill-opacity="0.25"/>
<circle cx="300.4" cy="134.0" r="1.9" fill="#32648e" fill-opacity="0.25"/>
<circle cx="296.0" cy="139.5" r="1.9" fill="#32648e" fill-opacity="0.25"/>
<circle cx="314.8" cy="137.7" r="1.9" fill="#32648e" fill-opacity="0.25"/>
<circle cx="311.4" cy="151.3" r="1.9" fill="#32648e" fill-opacity="0.25"/>
<circle cx="302.0" cy="84.0" r="1.9" fill="#32648e" fill-opacity="0.25"/>
<circle cx="309.0" cy="95.0" r="1.9" fill="#32648e" fill-opacity="0.25"/>
<circle cx="298.0" cy="100.0" r="1.9" fill="#32648e" fill-opacity="0.25"/>
<circle cx="312.0" cy="70.0" r="1.9" fill="#32648e" fill-opacity="0.25"/>
<circle cx="300.0" cy="118.0" r="1.9" fill="#32648e" fill-opacity="0.25"/>
<circle cx="317.0" cy="147.0" r="1.9" fill="#32648e" fill-opacity="0.25"/>
<circle cx="349.3" cy="47.8" r="1.9" fill="#2c718e" fill-opacity="0.25"/>
<circle cx="349.2" cy="62.9" r="1.9" fill="#2c718e" fill-opacity="0.25"/>
<circle cx="328.6" cy="66.2" r="1.9" fill="#2c718e" fill-opacity="0.25"/>
<circle cx="335.0" cy="69.0" r="1.9" fill="#2c718e" fill-opacity="0.25"/>
<circle cx="339.6" cy="68.4" r="1.9" fill="#2c718e" fill-opacity="0.25"/>
<circle cx="337.2" cy="74.0" r="1.9" fill="#2c718e" fill-opacity="0.25"/>
<circle cx="353.8" cy="69.5" r="1.9" fill="#2c718e" fill-opacity="0.25"/>
<circle cx="347.0" cy="73.2" r="1.9" fill="#2c718e" fill-opacity="0.25"/>
<circle cx="330.4" cy="70.8" r="1.9" fill="#2c718e" fill-opacity="0.25"/>
<circle cx="328.6" cy="76.4" r="1.9" fill="#2c718e" fill-opacity="0.25"/>
<circle cx="337.5" cy="151.3" r="1.9" fill="#2c718e" fill-opacity="0.25"/>
<circle cx="349.0" cy="154.1" r="1.9" fill="#2c718e" fill-opacity="0.25"/>
<circle cx="349.4" cy="109.3" r="1.9" fill="#2c718e" fill-opacity="0.25"/>
<circle cx="352.4" cy="129.7" r="1.9" fill="#2c718e" fill-opacity="0.25"/>
<circle cx="350.2" cy="119.0" r="1.9" fill="#2c718e" fill-opacity="0.25"/>
<circle cx="343.3" cy="134.3" r="1.9" fill="#2c718e" fill-opacity="0.25"/>
<circle cx="346.2" cy="126.0" r="1.9" fill="#2c718e" fill-opacity="0.25"/>
<circle cx="340.2" cy="119.7" r="1.9" fill="#2c718e" fill-opacity="0.25"/>
<circle cx="332.1" cy="122.7" r="1.9" fill="#2c718e" fill-opacity="0.25"/>
<circle cx="337.2" cy="151.8" r="1.9" fill="#2c718e" fill-opacity="0.25"/>
<circle cx="334.8" cy="121.2" r="1.9" fill="#2c718e" fill-opacity="0.25"/>
<circle cx="334.1" cy="143.7" r="1.9" fill="#2c718e" fill-opacity="0.25"/>
<circle cx="334.4" cy="133.5" r="1.9" fill="#2c718e" fill-opacity="0.25"/>
<circle cx="338.6" cy="125.1" r="1.9" fill="#2c718e" fill-opacity="0.25"/>
<circle cx="350.8" cy="142.8" r="1.9" fill="#2c718e" fill-opacity="0.25"/>
<circle cx="341.9" cy="99.9" r="1.9" fill="#2c718e" fill-opacity="0.25"/>
<circle cx="340.4" cy="150.4" r="1.9" fill="#2c718e" fill-opacity="0.25"/>
<circle cx="342.2" cy="154.6" r="1.9" fill="#2c718e" fill-opacity="0.25"/>
<circle cx="348.5" cy="134.5" r="1.9" fill="#2c718e" fill-opacity="0.25"/>
<circle cx="336.2" cy="146.5" r="1.9" fill="#2c718e" fill-opacity="0.25"/>
<circle cx="334.9" cy="133.0" r="1.9" fill="#2c718e" fill-opacity="0.25"/>
<circle cx="345.3" cy="100.8" r="1.9" fill="#2c718e" fill-opacity="0.25"/>
<circle cx="342.4" cy="113.4" r="1.9" fill="#2c718e" fill-opacity="0.25"/>
<circle cx="335.6" cy="110.6" r="1.9" fill="#2c718e" fill-opacity="0.25"/>
<circle cx="335.8" cy="132.7" r="1.9" fill="#2c718e" fill-opacity="0.25"/>
<circle cx="332.9" cy="134.0" r="1.9" fill="#2c718e" fill-opacity="0.25"/>
<circle cx="342.8" cy="145.1" r="1.9" fill="#2c718e" fill-opacity="0.25"/>
<circle cx="348.5" cy="126.3" r="1.9" fill="#2c718e" fill-opacity="0.25"/>
<circle cx="352.6" cy="138.7" r="1.9" fill="#2c718e" fill-opacity="0.25"/>
<circle cx="337.8" cy="139.8" r="1.9" fill="#2c718e" fill-opacity="0.25"/>
<circle cx="353.6" cy="146.3" r="1.9" fill="#2c718e" fill-opacity="0.25"/>
<circle cx="346.4" cy="101.3" r="1.9" fill="#2c718e" fill-opacity="0.25"/>
<circle cx="341.2" cy="143.6" r="1.9" fill="#2c718e" fill-opacity="0.25"/>
<circle cx="345.4" cy="136.5" r="1.9" fill="#2c718e" fill-opacity="0.25"/>
<circle cx="337.8" cy="138.1" r="1.9" fill="#2c718e" fill-opacity="0.25"/>
<circle cx="349.8" cy="133.2" r="1.9" fill="#2c718e" fill-opacity="0.25"/>
<circle cx="353.6" cy="121.2" r="1.9" fill="#2c718e" fill-opacity="0.25"/>
<circle cx="355.9" cy="154.7" r="1.9" fill="#2c718e" fill-opacity="0.25"/>
<circle cx="347.8" cy="153.4" r="1.9" fill="#2c718e" fill-opacity="0.25"/>
<circle cx="331.2" cy="118.0" r="1.9" fill="#2c718e" fill-opacity="0.25"/>
<circle cx="340.8" cy="133.8" r="1.9" fill="#2c718e" fill-opacity="0.25"/>
<circle cx="345.3" cy="94.5" r="1.9" fill="#2c718e" fill-opacity="0.25"/>
<circle cx="336.3" cy="89.1" r="1.9" fill="#2c718e" fill-opacity="0.25"/>
<circle cx="340.3" cy="143.8" r="1.9" fill="#2c718e" fill-opacity="0.25"/>
<circle cx="332.2" cy="129.0" r="1.9" fill="#2c718e" fill-opacity="0.25"/>
<circle cx="340.6" cy="121.0" r="1.9" fill="#2c718e" fill-opacity="0.25"/>
<circle cx="353.5" cy="105.0" r="1.9" fill="#2c718e" fill-opacity="0.25"/>
<circle cx="346.7" cy="144.6" r="1.9" fill="#2c718e" fill-opacity="0.25"/>
<circle cx="333.5" cy="149.4" r="1.9" fill="#2c718e" fill-opacity="0.25"/>
<circle cx="331.1" cy="143.9" r="1.9" fill="#2c718e" fill-opacity="0.25"/>
<circle cx="330.1" cy="125.8" r="1.9" fill="#2c718e" fill-opacity="0.25"/>
<circle cx="330.5" cy="110.3" r="1.9" fill="#2c718e" fill-opacity="0.25"/>
<circle cx="348.6" cy="126.7" r="1.9" fill="#2c718e" fill-opacity="0.25"/>
<circle cx="344.2" cy="93.3" r="1.9" fill="#2c718e" fill-opacity="0.25"/>
<circle cx="344.0" cy="103.1" r="1.9" fill="#2c718e" fill-opacity="0.25"/>
<circle cx="356.3" cy="137.7" r="1.9" fill="#2c718e" fill-opacity="0.25"/>
<circle cx="341.8" cy="113.0" r="1.9" fill="#2c718e" fill-opacity="0.25"/>
<circle cx="330.3" cy="134.8" r="1.9" fill="#2c718e" fill-opacity="0.25"/>
<circle cx="355.2" cy="106.3" r="1.9" fill="#2c718e" fill-opacity="0.25"/>
<circle cx="338.6" cy="104.5" r="1.9" fill="#2c718e" fill-opacity="0.25"/>
<circle cx="350.1" cy="130.5" r="1.9" fill="#2c718e" fill-opacity="0.25"/>
<circle cx="334.4" cy="135.1" r="1.9" fill="#2c718e" fill-opacity="0.25"/>
<circle cx="349.2" cy="153.1" r="1.9" fill="#2c718e" fill-opacity="0.25"/>
<circle cx="340.1" cy="80.8" r="1.9" fill="#2c718e" fill-opacity="0.25"/>
<circle cx="346.9" cy="140.4" r="1.9" fill="#2c718e" fill-opacity="0.25"/>
<circle cx="337.2" cy="77.5" r="1.9" fill="#2c718e" fill-opacity="0.25"/>
<circle cx="340.8" cy="117.7" r="1.9" fill="#2c718e" fill-opacity="0.25"/>
<circle cx="341.8" cy="141.1" r="1.9" fill="#2c718e" fill-opacity="0.25"/>
<circle cx="353.1" cy="125.7" r="1.9" fill="#2c718e" fill-opacity="0.25"/>
<circle cx="334.4" cy="117.9" r="1.9" fill="#2c718e" fill-opacity="0.25"/>
<circle cx="342.4" cy="110.8" r="1.9" fill="#2c718e" fill-opacity="0.25"/>
<circle cx="333.0" cy="86.0" r="1.9" fill="#2c718e" fill-opacity="0.25"/>
<circle cx="330.3" cy="131.1" r="1.9" fill="#2c718e" fill-opacity="0.25"/>
<circle cx="340.6" cy="141.5" r="1.9" fill="#2c718e" fill-opacity="0.25"/>
<circle cx="330.8" cy="141.5" r="1.9" fill="#2c718e" fill-opacity="0.25"/>
<circle cx="334.0" cy="149.2" r="1.9" fill="#2c718e" fill-opacity="0.25"/>
<circle cx="342.3" cy="145.3" r="1.9" fill="#2c718e" fill-opacity="0.25"/>
<circle cx="350.4" cy="116.4" r="1.9" fill="#2c718e" fill-opacity="0.25"/>
<circle cx="349.3" cy="140.9" r="1.9" fill="#2c718e" fill-opacity="0.25"/>
<circle cx="347.1" cy="153.0" r="1.9" fill="#2c718e" fill-opacity="0.25"/>
<circle cx="344.3" cy="128.8" r="1.9" fill="#2c718e" fill-opacity="0.25"/>
<circle cx="353.6" cy="126.9" r="1.9" fill="#2c718e" fill-opacity="0.25"/>
<circle cx="349.6" cy="127.6" r="1.9" fill="#2c718e" fill-opacity="0.25"/>
<circle cx="348.6" cy="116.5" r="1.9" fill="#2c718e" fill-opacity="0.25"/>
<circle cx="353.1" cy="121.3" r="1.9" fill="#2c718e" fill-opacity="0.25"/>
<circle cx="341.9" cy="136.8" r="1.9" fill="#2c718e" fill-opacity="0.25"/>
<circle cx="335.2" cy="154.2" r="1.9" fill="#2c718e" fill-opacity="0.25"/>
<circle cx="340.7" cy="105.1" r="1.9" fill="#2c718e" fill-opacity="0.25"/>
<circle cx="354.1" cy="150.1" r="1.9" fill="#2c718e" fill-opacity="0.25"/>
<circle cx="347.2" cy="140.4" r="1.9" fill="#2c718e" fill-opacity="0.25"/>
<circle cx="343.0" cy="153.6" r="1.9" fill="#2c718e" fill-opacity="0.25"/>
<circle cx="341.1" cy="142.8" r="1.9" fill="#2c718e" fill-opacity="0.25"/>
<circle cx="346.8" cy="100.7" r="1.9" fill="#2c718e" fill-opacity="0.25"/>
<circle cx="337.1" cy="137.1" r="1.9" fill="#2c718e" fill-opacity="0.25"/>
<circle cx="333.3" cy="140.8" r="1.9" fill="#2c718e" fill-opacity="0.25"/>
<circle cx="337.5" cy="141.7" r="1.9" fill="#2c718e" fill-opacity="0.25"/>
<circle cx="335.1" cy="149.5" r="1.9" fill="#2c718e" fill-opacity="0.25"/>
<circle cx="344.6" cy="133.1" r="1.9" fill="#2c718e" fill-opacity="0.25"/>
<circle cx="332.4" cy="136.4" r="1.9" fill="#2c718e" fill-opacity="0.25"/>
<circle cx="333.3" cy="139.5" r="1.9" fill="#2c718e" fill-opacity="0.25"/>
<circle cx="335.1" cy="101.8" r="1.9" fill="#2c718e" fill-opacity="0.25"/>
<circle cx="344.0" cy="153.4" r="1.9" fill="#2c718e" fill-opacity="0.25"/>
<circle cx="344.9" cy="133.3" r="1.9" fill="#2c718e" fill-opacity="0.25"/>
<circle cx="335.5" cy="91.0" r="1.9" fill="#2c718e" fill-opacity="0.25"/>
<circle cx="338.5" cy="119.9" r="1.9" fill="#2c718e" fill-opacity="0.25"/>
<circle cx="345.8" cy="118.5" r="1.9" fill="#2c718e" fill-opacity="0.25"/>
<circle cx="345.2" cy="150.6" r="1.9" fill="#2c718e" fill-opacity="0.25"/>
<circle cx="338.3" cy="152.9" r="1.9" fill="#2c718e" fill-opacity="0.25"/>
<circle cx="334.1" cy="72.7" r="1.9" fill="#2c718e" fill-opacity="0.25"/>
<circle cx="348.9" cy="106.6" r="1.9" fill="#2c718e" fill-opacity="0.25"/>
<circle cx="339.1" cy="144.6" r="1.9" fill="#2c718e" fill-opacity="0.25"/>
<circle cx="350.4" cy="150.5" r="1.9" fill="#2c718e" fill-opacity="0.25"/>
<circle cx="338.9" cy="143.3" r="1.9" fill="#2c718e" fill-opacity="0.25"/>
<circle cx="347.6" cy="99.8" r="1.9" fill="#2c718e" fill-opacity="0.25"/>
<circle cx="355.6" cy="93.8" r="1.9" fill="#2c718e" fill-opacity="0.25"/>
<circle cx="340.6" cy="136.3" r="1.9" fill="#2c718e" fill-opacity="0.25"/>
<circle cx="353.5" cy="126.2" r="1.9" fill="#2c718e" fill-opacity="0.25"/>
<circle cx="336.7" cy="137.8" r="1.9" fill="#2c718e" fill-opacity="0.25"/>
<circle cx="345.4" cy="86.3" r="1.9" fill="#2c718e" fill-opacity="0.25"/>
<circle cx="340.0" cy="113.7" r="1.9" fill="#2c718e" fill-opacity="0.25"/>
<circle cx="335.1" cy="94.2" r="1.9" fill="#2c718e" fill-opacity="0.25"/>
<circle cx="331.2" cy="145.0" r="1.9" fill="#2c718e" fill-opacity="0.25"/>
<circle cx="342.2" cy="132.9" r="1.9" fill="#2c718e" fill-opacity="0.25"/>
<circle cx="347.6" cy="105.9" r="1.9" fill="#2c718e" fill-opacity="0.25"/>
<circle cx="334.1" cy="113.0" r="1.9" fill="#2c718e" fill-opacity="0.25"/>
<circle cx="341.3" cy="121.2" r="1.9" fill="#2c718e" fill-opacity="0.25"/>
<circle cx="339.0" cy="116.1" r="1.9" fill="#2c718e" fill-opacity="0.25"/>
<circle cx="345.2" cy="131.4" r="1.9" fill="#2c718e" fill-opacity="0.25"/>
<circle cx="331.7" cy="143.4" r="1.9" fill="#2c718e" fill-opacity="0.25"/>
<circle cx="336.9" cy="141.7" r="1.9" fill="#2c718e" fill-opacity="0.25"/>
<circle cx="333.2" cy="138.6" r="1.9" fill="#2c718e" fill-opacity="0.25"/>
<circle cx="348.9" cy="125.4" r="1.9" fill="#2c718e" fill-opacity="0.25"/>
<circle cx="331.4" cy="116.8" r="1.9" fill="#2c718e" fill-opacity="0.25"/>
<circle cx="349.0" cy="111.5" r="1.9" fill="#2c718e" fill-opacity="0.25"/>
<circle cx="333.8" cy="112.7" r="1.9" fill="#2c718e" fill-opacity="0.25"/>
<circle cx="342.6" cy="142.6" r="1.9" fill="#2c718e" fill-opacity="0.25"/>
<circle cx="334.6" cy="132.7" r="1.9" fill="#2c718e" fill-opacity="0.25"/>
<circle cx="336.8" cy="129.5" r="1.9" fill="#2c718e" fill-opacity="0.25"/>
<circle cx="339.2" cy="139.6" r="1.9" fill="#2c718e" fill-opacity="0.25"/>
<circle cx="336.5" cy="152.0" r="1.9" fill="#2c718e" fill-opacity="0.25"/>
<circle cx="336.0" cy="148.9" r="1.9" fill="#2c718e" fill-opacity="0.25"/>
<circle cx="354.7" cy="142.2" r="1.9" fill="#2c718e" fill-opacity="0.25"/>
<circle cx="335.6" cy="152.0" r="1.9" fill="#2c718e" fill-opacity="0.25"/>
<circle cx="334.5" cy="104.8" r="1.9" fill="#2c718e" fill-opacity="0.25"/>
<circle cx="336.6" cy="152.5" r="1.9" fill="#2c718e" fill-opacity="0.25"/>
<circle cx="338.1" cy="84.1" r="1.9" fill="#2c718e" fill-opacity="0.25"/>
<circle cx="351.5" cy="140.9" r="1.9" fill="#2c718e" fill-opacity="0.25"/>
<circle cx="353.8" cy="112.6" r="1.9" fill="#2c718e" fill-opacity="0.25"/>
<circle cx="334.7" cy="130.3" r="1.9" fill="#2c718e" fill-opacity="0.25"/>
<circle cx="353.1" cy="86.3" r="1.9" fill="#2c718e" fill-opacity="0.25"/>
<circle cx="339.2" cy="152.6" r="1.9" fill="#2c718e" fill-opacity="0.25"/>
<circle cx="338.0" cy="102.7" r="1.9" fill="#2c718e" fill-opacity="0.25"/>
<circle cx="343.1" cy="123.8" r="1.9" fill="#2c718e" fill-opacity="0.25"/>
<circle cx="336.3" cy="95.1" r="1.9" fill="#2c718e" fill-opacity="0.25"/>
<circle cx="337.2" cy="143.6" r="1.9" fill="#2c718e" fill-opacity="0.25"/>
<circle cx="337.2" cy="115.6" r="1.9" fill="#2c718e" fill-opacity="0.25"/>
<circle cx="354.4" cy="145.7" r="1.9" fill="#2c718e" fill-opacity="0.25"/>
<circle cx="339.9" cy="154.9" r="1.9" fill="#2c718e" fill-opacity="0.25"/>
<circle cx="350.7" cy="135.7" r="1.9" fill="#2c718e" fill-opacity="0.25"/>
<circle cx="333.5" cy="135.9" r="1.9" fill="#2c718e" fill-opacity="0.25"/>
<circle cx="338.3" cy="139.1" r="1.9" fill="#2c718e" fill-opacity="0.25"/>
<circle cx="345.4" cy="120.6" r="1.9" fill="#2c718e" fill-opacity="0.25"/>
<circle cx="336.1" cy="125.4" r="1.9" fill="#2c718e" fill-opacity="0.25"/>
<circle cx="348.4" cy="128.5" r="1.9" fill="#2c718e" fill-opacity="0.25"/>
<circle cx="334.4" cy="70.1" r="1.9" fill="#2c718e" fill-opacity="0.25"/>
<circle cx="338.7" cy="154.3" r="1.9" fill="#2c718e" fill-opacity="0.25"/>
<circle cx="354.6" cy="151.4" r="1.9" fill="#2c718e" fill-opacity="0.25"/>
<circle cx="355.8" cy="91.8" r="1.9" fill="#2c718e" fill-opacity="0.25"/>
<circle cx="331.2" cy="97.7" r="1.9" fill="#2c718e" fill-opacity="0.25"/>
<circle cx="342.3" cy="147.6" r="1.9" fill="#2c718e" fill-opacity="0.25"/>
<circle cx="346.7" cy="144.7" r="1.9" fill="#2c718e" fill-opacity="0.25"/>
<circle cx="336.8" cy="143.8" r="1.9" fill="#2c718e" fill-opacity="0.25"/>
<circle cx="343.0" cy="132.3" r="1.9" fill="#2c718e" fill-opacity="0.25"/>
<circle cx="346.3" cy="149.8" r="1.9" fill="#2c718e" fill-opacity="0.25"/>
<circle cx="340.7" cy="84.8" r="1.9" fill="#2c718e" fill-opacity="0.25"/>
<circle cx="344.6" cy="128.2" r="1.9" fill="#2c718e" fill-opacity="0.25"/>
<circle cx="344.0" cy="132.3" r="1.9" fill="#2c718e" fill-opacity="0.25"/>
<circle cx="335.8" cy="69.8" r="1.9" fill="#2c718e" fill-opacity="0.25"/>
<circle cx="334.0" cy="113.8" r="1.9" fill="#2c718e" fill-opacity="0.25"/>
<circle cx="335.1" cy="123.5" r="1.9" fill="#2c718e" fill-opacity="0.25"/>
<circle cx="348.7" cy="130.1" r="1.9" fill="#2c718e" fill-opacity="0.25"/>
<circle cx="345.8" cy="105.2" r="1.9" fill="#2c718e" fill-opacity="0.25"/>
<circle cx="351.3" cy="128.0" r="1.9" fill="#2c718e" fill-opacity="0.25"/>
<circle cx="342.4" cy="129.3" r="1.9" fill="#2c718e" fill-opacity="0.25"/>
<circle cx="331.2" cy="131.0" r="1.9" fill="#2c718e" fill-opacity="0.25"/>
<circle cx="348.4" cy="126.8" r="1.9" fill="#2c718e" fill-opacity="0.25"/>
<circle cx="331.6" cy="114.7" r="1.9" fill="#2c718e" fill-opacity="0.25"/>
<circle cx="353.8" cy="149.4" r="1.9" fill="#2c718e" fill-opacity="0.25"/>
<circle cx="352.5" cy="99.8" r="1.9" fill="#2c718e" fill-opacity="0.25"/>
<circle cx="342.8" cy="136.9" r="1.9" fill="#2c718e" fill-opacity="0.25"/>
<circle cx="346.5" cy="123.6" r="1.9" fill="#2c718e" fill-opacity="0.25"/>
<circle cx="331.7" cy="138.4" r="1.9" fill="#2c718e" fill-opacity="0.25"/>
<circle cx="342.9" cy="134.9" r="1.9" fill="#2c718e" fill-opacity="0.25"/>
<circle cx="348.7" cy="137.1" r="1.9" fill="#2c718e" fill-opacity="0.25"/>
<circle cx="352.8" cy="141.6" r="1.9" fill="#2c718e" fill-opacity="0.25"/>
<circle cx="350.1" cy="154.2" r="1.9" fill="#2c718e" fill-opacity="0.25"/>
<circle cx="342.7" cy="151.2" r="1.9" fill="#2c718e" fill-opacity="0.25"/>
<circle cx="334.2" cy="143.3" r="1.9" fill="#2c718e" fill-opacity="0.25"/>
<circle cx="340.5" cy="152.5" r="1.9" fill="#2c718e" fill-opacity="0.25"/>
<circle cx="355.3" cy="149.6" r="1.9" fill="#2c718e" fill-opacity="0.25"/>
<circle cx="339.2" cy="121.9" r="1.9" fill="#2c718e" fill-opacity="0.25"/>
<circle cx="348.7" cy="92.5" r="1.9" fill="#2c718e" fill-opacity="0.25"/>
<circle cx="346.9" cy="143.2" r="1.9" fill="#2c718e" fill-opacity="0.25"/>
<circle cx="351.0" cy="150.3" r="1.9" fill="#2c718e" fill-opacity="0.25"/>
<circle cx="354.3" cy="104.3" r="1.9" fill="#2c718e" fill-opacity="0.25"/>
<circle cx="348.1" cy="154.4" r="1.9" fill="#2c718e" fill-opacity="0.25"/>
<circle cx="351.3" cy="125.5" r="1.9" fill="#2c718e" fill-opacity="0.25"/>
<circle cx="346.0" cy="138.6" r="1.9" fill="#2c718e" fill-opacity="0.25"/>
<circle cx="352.0" cy="82.6" r="1.9" fill="#2c718e" fill-opacity="0.25"/>
<circle cx="354.1" cy="150.8" r="1.9" fill="#2c718e" fill-opacity="0.25"/>
<circle cx="355.0" cy="122.6" r="1.9" fill="#2c718e" fill-opacity="0.25"/>
<circle cx="346.0" cy="111.5" r="1.9" fill="#2c718e" fill-opacity="0.25"/>
<circle cx="345.1" cy="111.0" r="1.9" fill="#2c718e" fill-opacity="0.25"/>
<circle cx="342.5" cy="141.2" r="1.9" fill="#2c718e" fill-opacity="0.25"/>
<circle cx="352.6" cy="104.5" r="1.9" fill="#2c718e" fill-opacity="0.25"/>
<circle cx="352.1" cy="143.3" r="1.9" fill="#2c718e" fill-opacity="0.25"/>
<circle cx="331.8" cy="142.7" r="1.9" fill="#2c718e" fill-opacity="0.25"/>
<circle cx="352.4" cy="130.6" r="1.9" fill="#2c718e" fill-opacity="0.25"/>
<circle cx="333.8" cy="145.1" r="1.9" fill="#2c718e" fill-opacity="0.25"/>
<circle cx="337.9" cy="127.8" r="1.9" fill="#2c718e" fill-opacity="0.25"/>
<circle cx="336.0" cy="113.0" r="1.9" fill="#2c718e" fill-opacity="0.25"/>
<circle cx="340.7" cy="133.3" r="1.9" fill="#2c718e" fill-opacity="0.25"/>
<circle cx="348.2" cy="128.1" r="1.9" fill="#2c718e" fill-opacity="0.25"/>
<circle cx="352.0" cy="143.7" r="1.9" fill="#2c718e" fill-opacity="0.25"/>
<circle cx="335.6" cy="140.1" r="1.9" fill="#2c718e" fill-opacity="0.25"/>
<circle cx="330.0" cy="150.5" r="1.9" fill="#2c718e" fill-opacity="0.25"/>
<circle cx="342.2" cy="142.1" r="1.9" fill="#2c718e" fill-opacity="0.25"/>
<circle cx="339.6" cy="122.9" r="1.9" fill="#2c718e" fill-opacity="0.25"/>
<circle cx="330.1" cy="122.5" r="1.9" fill="#2c718e" fill-opacity="0.25"/>
<circle cx="334.8" cy="153.0" r="1.9" fill="#2c718e" fill-opacity="0.25"/>
<circle cx="336.8" cy="108.6" r="1.9" fill="#2c718e" fill-opacity="0.25"/>
<circle cx="355.0" cy="151.0" r="1.9" fill="#2c718e" fill-opacity="0.25"/>
<circle cx="340.1" cy="154.1" r="1.9" fill="#2c718e" fill-opacity="0.25"/>
<circle cx="341.4" cy="71.4" r="1.9" fill="#2c718e" fill-opacity="0.25"/>
<circle cx="346.4" cy="140.1" r="1.9" fill="#2c718e" fill-opacity="0.25"/>
<circle cx="340.1" cy="130.2" r="1.9" fill="#2c718e" fill-opacity="0.25"/>
<circle cx="352.3" cy="125.7" r="1.9" fill="#2c718e" fill-opacity="0.25"/>
<circle cx="343.1" cy="154.6" r="1.9" fill="#2c718e" fill-opacity="0.25"/>
<circle cx="353.6" cy="149.2" r="1.9" fill="#2c718e" fill-opacity="0.25"/>
<circle cx="353.5" cy="124.2" r="1.9" fill="#2c718e" fill-opacity="0.25"/>
<circle cx="350.5" cy="127.9" r="1.9" fill="#2c718e" fill-opacity="0.25"/>
<circle cx="335.4" cy="78.4" r="1.9" fill="#2c718e" fill-opacity="0.25"/>
<circle cx="349.9" cy="108.5" r="1.9" fill="#2c718e" fill-opacity="0.25"/>
<circle cx="346.3" cy="133.5" r="1.9" fill="#2c718e" fill-opacity="0.25"/>
<circle cx="335.3" cy="131.9" r="1.9" fill="#2c718e" fill-opacity="0.25"/>
<circle cx="332.0" cy="137.0" r="1.9" fill="#2c718e" fill-opacity="0.25"/>
<circle cx="346.6" cy="118.4" r="1.9" fill="#2c718e" fill-opacity="0.25"/>
<circle cx="330.7" cy="150.2" r="1.9" fill="#2c718e" fill-opacity="0.25"/>
<circle cx="347.6" cy="104.7" r="1.9" fill="#2c718e" fill-opacity="0.25"/>
<circle cx="340.8" cy="100.3" r="1.9" fill="#2c718e" fill-opacity="0.25"/>
<circle cx="351.3" cy="131.1" r="1.9" fill="#2c718e" fill-opacity="0.25"/>
<circle cx="339.9" cy="153.5" r="1.9" fill="#2c718e" fill-opacity="0.25"/>
<circle cx="353.9" cy="137.5" r="1.9" fill="#2c718e" fill-opacity="0.25"/>
<circle cx="343.9" cy="144.6" r="1.9" fill="#2c718e" fill-opacity="0.25"/>
<circle cx="340.6" cy="103.7" r="1.9" fill="#2c718e" fill-opacity="0.25"/>
<circle cx="350.7" cy="150.4" r="1.9" fill="#2c718e" fill-opacity="0.25"/>
<circle cx="343.8" cy="127.0" r="1.9" fill="#2c718e" fill-opacity="0.25"/>
<circle cx="334.8" cy="127.2" r="1.9" fill="#2c718e" fill-opacity="0.25"/>
<circle cx="341.8" cy="131.6" r="1.9" fill="#2c718e" fill-opacity="0.25"/>
<circle cx="334.7" cy="87.0" r="1.9" fill="#2c718e" fill-opacity="0.25"/>
<circle cx="355.1" cy="150.5" r="1.9" fill="#2c718e" fill-opacity="0.25"/>
<circle cx="340.7" cy="106.1" r="1.9" fill="#2c718e" fill-opacity="0.25"/>
<circle cx="339.9" cy="137.2" r="1.9" fill="#2c718e" fill-opacity="0.25"/>
<circle cx="349.3" cy="130.8" r="1.9" fill="#2c718e" fill-opacity="0.25"/>
<circle cx="338.7" cy="114.3" r="1.9" fill="#2c718e" fill-opacity="0.25"/>
<circle cx="346.4" cy="123.2" r="1.9" fill="#2c718e" fill-opacity="0.25"/>
<circle cx="334.9" cy="106.6" r="1.9" fill="#2c718e" fill-opacity="0.25"/>
<circle cx="351.3" cy="130.9" r="1.9" fill="#2c718e" fill-opacity="0.25"/>
<circle cx="341.6" cy="148.7" r="1.9" fill="#2c718e" fill-opacity="0.25"/>
<circle cx="353.5" cy="151.7" r="1.9" fill="#2c718e" fill-opacity="0.25"/>
<circle cx="345.3" cy="154.6" r="1.9" fill="#2c718e" fill-opacity="0.25"/>
<circle cx="342.3" cy="152.1" r="1.9" fill="#2c718e" fill-opacity="0.25"/>
<circle cx="343.0" cy="146.6" r="1.9" fill="#2c718e" fill-opacity="0.25"/>
<circle cx="352.5" cy="120.6" r="1.9" fill="#2c718e" fill-opacity="0.25"/>
<circle cx="342.3" cy="97.8" r="1.9" fill="#2c718e" fill-opacity="0.25"/>
<circle cx="350.6" cy="153.6" r="1.9" fill="#2c718e" fill-opacity="0.25"/>
<circle cx="338.0" cy="107.9" r="1.9" fill="#2c718e" fill-opacity="0.25"/>
<circle cx="332.2" cy="149.6" r="1.9" fill="#2c718e" fill-opacity="0.25"/>
<circle cx="331.0" cy="154.0" r="1.9" fill="#2c718e" fill-opacity="0.25"/>
<circle cx="342.9" cy="144.6" r="1.9" fill="#2c718e" fill-opacity="0.25"/>
<circle cx="339.5" cy="118.6" r="1.9" fill="#2c718e" fill-opacity="0.25"/>
<circle cx="342.8" cy="114.4" r="1.9" fill="#2c718e" fill-opacity="0.25"/>
<circle cx="352.9" cy="148.9" r="1.9" fill="#2c718e" fill-opacity="0.25"/>
<circle cx="349.2" cy="138.0" r="1.9" fill="#2c718e" fill-opacity="0.25"/>
<circle cx="353.3" cy="122.3" r="1.9" fill="#2c718e" fill-opacity="0.25"/>
<circle cx="352.9" cy="154.4" r="1.9" fill="#2c718e" fill-opacity="0.25"/>
<circle cx="335.3" cy="100.3" r="1.9" fill="#2c718e" fill-opacity="0.25"/>
<circle cx="353.3" cy="115.7" r="1.9" fill="#2c718e" fill-opacity="0.25"/>
<circle cx="334.8" cy="103.0" r="1.9" fill="#2c718e" fill-opacity="0.25"/>
<circle cx="344.6" cy="154.1" r="1.9" fill="#2c718e" fill-opacity="0.25"/>
<circle cx="351.9" cy="134.0" r="1.9" fill="#2c718e" fill-opacity="0.25"/>
<circle cx="334.1" cy="130.0" r="1.9" fill="#2c718e" fill-opacity="0.25"/>
<circle cx="334.3" cy="96.4" r="1.9" fill="#2c718e" fill-opacity="0.25"/>
<circle cx="345.1" cy="80.5" r="1.9" fill="#2c718e" fill-opacity="0.25"/>
<circle cx="345.5" cy="151.4" r="1.9" fill="#2c718e" fill-opacity="0.25"/>
<circle cx="345.6" cy="69.9" r="1.9" fill="#2c718e" fill-opacity="0.25"/>
<circle cx="340.3" cy="138.4" r="1.9" fill="#2c718e" fill-opacity="0.25"/>
<circle cx="351.9" cy="85.6" r="1.9" fill="#2c718e" fill-opacity="0.25"/>
<circle cx="342.5" cy="135.8" r="1.9" fill="#2c718e" fill-opacity="0.25"/>
<circle cx="330.8" cy="124.4" r="1.9" fill="#2c718e" fill-opacity="0.25"/>
<circle cx="330.8" cy="132.0" r="1.9" fill="#2c718e" fill-opacity="0.25"/>
<circle cx="356.3" cy="127.3" r="1.9" fill="#2c718e" fill-opacity="0.25"/>
<circle cx="353.7" cy="134.1" r="1.9" fill="#2c718e" fill-opacity="0.25"/>
<circle cx="334.3" cy="109.7" r="1.9" fill="#2c718e" fill-opacity="0.25"/>
<circle cx="353.2" cy="89.8" r="1.9" fill="#2c718e" fill-opacity="0.25"/>
<circle cx="352.2" cy="124.7" r="1.9" fill="#2c718e" fill-opacity="0.25"/>
<circle cx="345.9" cy="106.2" r="1.9" fill="#2c718e" fill-opacity="0.25"/>
<circle cx="352.9" cy="142.3" r="1.9" fill="#2c718e" fill-opacity="0.25"/>
<circle cx="343.9" cy="137.2" r="1.9" fill="#2c718e" fill-opacity="0.25"/>
<circle cx="354.1" cy="106.3" r="1.9" fill="#2c718e" fill-opacity="0.25"/>
<circle cx="336.1" cy="115.7" r="1.9" fill="#2c718e" fill-opacity="0.25"/>
<circle cx="332.0" cy="88.3" r="1.9" fill="#2c718e" fill-opacity="0.25"/>
<circle cx="337.2" cy="110.5" r="1.9" fill="#2c718e" fill-opacity="0.25"/>
<circle cx="346.8" cy="141.5" r="1.9" fill="#2c718e" fill-opacity="0.25"/>
<circle cx="345.0" cy="103.6" r="1.9" fill="#2c718e" fill-opacity="0.25"/>
<circle cx="354.7" cy="116.1" r="1.9" fill="#2c718e" fill-opacity="0.25"/>
<circle cx="345.9" cy="115.6" r="1.9" fill="#2c718e" fill-opacity="0.25"/>
<circle cx="329.7" cy="153.0" r="1.9" fill="#2c718e" fill-opacity="0.25"/>
<circle cx="356.0" cy="153.4" r="1.9" fill="#2c718e" fill-opacity="0.25"/>
<circle cx="334.1" cy="106.1" r="1.9" fill="#2c718e" fill-opacity="0.25"/>
<circle cx="340.7" cy="117.2" r="1.9" fill="#2c718e" fill-opacity="0.25"/>
<circle cx="340.5" cy="134.0" r="1.9" fill="#2c718e" fill-opacity="0.25"/>
<circle cx="334.5" cy="86.5" r="1.9" fill="#2c718e" fill-opacity="0.25"/>
<circle cx="331.1" cy="139.1" r="1.9" fill="#2c718e" fill-opacity="0.25"/>
<circle cx="336.9" cy="87.6" r="1.9" fill="#2c718e" fill-opacity="0.25"/>
<circle cx="348.8" cy="138.2" r="1.9" fill="#2c718e" fill-opacity="0.25"/>
<circle cx="330.8" cy="78.3" r="1.9" fill="#2c718e" fill-opacity="0.25"/>
<circle cx="351.4" cy="114.8" r="1.9" fill="#2c718e" fill-opacity="0.25"/>
<circle cx="354.2" cy="132.9" r="1.9" fill="#2c718e" fill-opacity="0.25"/>
<circle cx="340.7" cy="115.0" r="1.9" fill="#2c718e" fill-opacity="0.25"/>
<circle cx="355.0" cy="142.5" r="1.9" fill="#2c718e" fill-opacity="0.25"/>
<circle cx="341.9" cy="70.5" r="1.9" fill="#2c718e" fill-opacity="0.25"/>
<circle cx="343.2" cy="124.4" r="1.9" fill="#2c718e" fill-opacity="0.25"/>
<circle cx="336.8" cy="111.4" r="1.9" fill="#2c718e" fill-opacity="0.25"/>
<circle cx="330.7" cy="144.0" r="1.9" fill="#2c718e" fill-opacity="0.25"/>
<circle cx="356.5" cy="142.8" r="1.9" fill="#2c718e" fill-opacity="0.25"/>
<circle cx="354.5" cy="113.9" r="1.9" fill="#2c718e" fill-opacity="0.25"/>
<circle cx="340.0" cy="134.2" r="1.9" fill="#2c718e" fill-opacity="0.25"/>
<circle cx="345.0" cy="125.1" r="1.9" fill="#2c718e" fill-opacity="0.25"/>
<circle cx="336.4" cy="117.3" r="1.9" fill="#2c718e" fill-opacity="0.25"/>
<circle cx="341.3" cy="113.4" r="1.9" fill="#2c718e" fill-opacity="0.25"/>
<circle cx="332.3" cy="121.2" r="1.9" fill="#2c718e" fill-opacity="0.25"/>
<circle cx="346.6" cy="134.4" r="1.9" fill="#2c718e" fill-opacity="0.25"/>
<circle cx="333.5" cy="110.1" r="1.9" fill="#2c718e" fill-opacity="0.25"/>
<circle cx="349.7" cy="142.0" r="1.9" fill="#2c718e" fill-opacity="0.25"/>
<circle cx="336.2" cy="141.5" r="1.9" fill="#2c718e" fill-opacity="0.25"/>
<circle cx="352.1" cy="144.2" r="1.9" fill="#2c718e" fill-opacity="0.25"/>
<circle cx="354.9" cy="103.2" r="1.9" fill="#2c718e" fill-opacity="0.25"/>
<circle cx="332.6" cy="129.7" r="1.9" fill="#2c718e" fill-opacity="0.25"/>
<circle cx="334.7" cy="134.2" r="1.9" fill="#2c718e" fill-opacity="0.25"/>
<circle cx="346.2" cy="147.4" r="1.9" fill="#2c718e" fill-opacity="0.25"/>
<circle cx="339.4" cy="126.9" r="1.9" fill="#2c718e" fill-opacity="0.25"/>
<circle cx="341.8" cy="145.4" r="1.9" fill="#2c718e" fill-opacity="0.25"/>
<circle cx="354.8" cy="153.5" r="1.9" fill="#2c718e" fill-opacity="0.25"/>
<circle cx="347.9" cy="122.9" r="1.9" fill="#2c718e" fill-opacity="0.25"/>
<circle cx="342.8" cy="151.7" r="1.9" fill="#2c718e" fill-opacity="0.25"/>
<circle cx="331.3" cy="148.9" r="1.9" fill="#2c718e" fill-opacity="0.25"/>
<circle cx="348.4" cy="102.7" r="1.9" fill="#2c718e" fill-opacity="0.25"/>
<circle cx="334.1" cy="129.6" r="1.9" fill="#2c718e" fill-opacity="0.25"/>
<circle cx="335.1" cy="103.8" r="1.9" fill="#2c718e" fill-opacity="0.25"/>
<circle cx="351.5" cy="99.6" r="1.9" fill="#2c718e" fill-opacity="0.25"/>
<circle cx="356.3" cy="121.4" r="1.9" fill="#2c718e" fill-opacity="0.25"/>
<circle cx="354.3" cy="134.3" r="1.9" fill="#2c718e" fill-opacity="0.25"/>
<circle cx="338.4" cy="143.6" r="1.9" fill="#2c718e" fill-opacity="0.25"/>
<circle cx="342.0" cy="125.0" r="1.9" fill="#2c718e" fill-opacity="0.25"/>
<circle cx="355.4" cy="117.8" r="1.9" fill="#2c718e" fill-opacity="0.25"/>
<circle cx="337.5" cy="123.8" r="1.9" fill="#2c718e" fill-opacity="0.25"/>
<circle cx="354.5" cy="137.4" r="1.9" fill="#2c718e" fill-opacity="0.25"/>
<circle cx="333.8" cy="147.7" r="1.9" fill="#2c718e" fill-opacity="0.25"/>
<circle cx="336.9" cy="77.3" r="1.9" fill="#2c718e" fill-opacity="0.25"/>
<circle cx="336.2" cy="80.4" r="1.9" fill="#2c718e" fill-opacity="0.25"/>
<circle cx="342.2" cy="141.0" r="1.9" fill="#2c718e" fill-opacity="0.25"/>
<circle cx="336.3" cy="124.0" r="1.9" fill="#2c718e" fill-opacity="0.25"/>
<circle cx="342.7" cy="130.3" r="1.9" fill="#2c718e" fill-opacity="0.25"/>
<circle cx="347.7" cy="141.6" r="1.9" fill="#2c718e" fill-opacity="0.25"/>
<circle cx="340.8" cy="151.1" r="1.9" fill="#2c718e" fill-opacity="0.25"/>
<circle cx="346.3" cy="150.5" r="1.9" fill="#2c718e" fill-opacity="0.25"/>
<circle cx="352.7" cy="136.7" r="1.9" fill="#2c718e" fill-opacity="0.25"/>
<circle cx="349.0" cy="147.2" r="1.9" fill="#2c718e" fill-opacity="0.25"/>
<circle cx="350.5" cy="71.4" r="1.9" fill="#2c718e" fill-opacity="0.25"/>
<circle cx="335.8" cy="121.1" r="1.9" fill="#2c718e" fill-opacity="0.25"/>
<circle cx="350.7" cy="127.8" r="1.9" fill="#2c718e" fill-opacity="0.25"/>
<circle cx="338.0" cy="132.6" r="1.9" fill="#2c718e" fill-opacity="0.25"/>
<circle cx="350.7" cy="132.1" r="1.9" fill="#2c718e" fill-opacity="0.25"/>
<circle cx="342.5" cy="104.7" r="1.9" fill="#2c718e" fill-opacity="0.25"/>
<circle cx="355.7" cy="151.1" r="1.9" fill="#2c718e" fill-opacity="0.25"/>
<circle cx="353.2" cy="149.6" r="1.9" fill="#2c718e" fill-opacity="0.25"/>
<circle cx="343.8" cy="132.2" r="1.9" fill="#2c718e" fill-opacity="0.25"/>
<circle cx="351.3" cy="145.6" r="1.9" fill="#2c718e" fill-opacity="0.25"/>
<circle cx="332.1" cy="123.9" r="1.9" fill="#2c718e" fill-opacity="0.25"/>
<circle cx="332.9" cy="92.4" r="1.9" fill="#2c718e" fill-opacity="0.25"/>
<circle cx="339.3" cy="137.0" r="1.9" fill="#2c718e" fill-opacity="0.25"/>
<circle cx="344.7" cy="113.0" r="1.9" fill="#2c718e" fill-opacity="0.25"/>
<circle cx="349.4" cy="148.6" r="1.9" fill="#2c718e" fill-opacity="0.25"/>
<circle cx="345.0" cy="106.3" r="1.9" fill="#2c718e" fill-opacity="0.25"/>
<circle cx="345.6" cy="90.5" r="1.9" fill="#2c718e" fill-opacity="0.25"/>
<circle cx="330.1" cy="140.3" r="1.9" fill="#2c718e" fill-opacity="0.25"/>
<circle cx="333.6" cy="106.8" r="1.9" fill="#2c718e" fill-opacity="0.25"/>
<circle cx="339.3" cy="129.7" r="1.9" fill="#2c718e" fill-opacity="0.25"/>
<circle cx="337.7" cy="149.6" r="1.9" fill="#2c718e" fill-opacity="0.25"/>
<circle cx="343.2" cy="121.5" r="1.9" fill="#2c718e" fill-opacity="0.25"/>
<circle cx="337.3" cy="153.9" r="1.9" fill="#2c718e" fill-opacity="0.25"/>
<circle cx="354.9" cy="135.0" r="1.9" fill="#2c718e" fill-opacity="0.25"/>
<circle cx="343.2" cy="126.7" r="1.9" fill="#2c718e" fill-opacity="0.25"/>
<circle cx="340.2" cy="146.6" r="1.9" fill="#2c718e" fill-opacity="0.25"/>
<circle cx="355.9" cy="134.3" r="1.9" fill="#2c718e" fill-opacity="0.25"/>
<circle cx="334.1" cy="87.9" r="1.9" fill="#2c718e" fill-opacity="0.25"/>
<circle cx="344.7" cy="153.7" r="1.9" fill="#2c718e" fill-opacity="0.25"/>
<circle cx="355.4" cy="80.8" r="1.9" fill="#2c718e" fill-opacity="0.25"/>
<circle cx="330.8" cy="118.9" r="1.9" fill="#2c718e" fill-opacity="0.25"/>
<circle cx="344.5" cy="150.9" r="1.9" fill="#2c718e" fill-opacity="0.25"/>
<circle cx="340.3" cy="142.6" r="1.9" fill="#2c718e" fill-opacity="0.25"/>
<circle cx="333.8" cy="92.5" r="1.9" fill="#2c718e" fill-opacity="0.25"/>
<circle cx="335.0" cy="141.2" r="1.9" fill="#2c718e" fill-opacity="0.25"/>
<circle cx="351.7" cy="142.8" r="1.9" fill="#2c718e" fill-opacity="0.25"/>
<circle cx="353.2" cy="114.9" r="1.9" fill="#2c718e" fill-opacity="0.25"/>
<circle cx="351.8" cy="116.0" r="1.9" fill="#2c718e" fill-opacity="0.25"/>
<circle cx="354.4" cy="102.2" r="1.9" fill="#2c718e" fill-opacity="0.25"/>
<circle cx="331.9" cy="111.2" r="1.9" fill="#2c718e" fill-opacity="0.25"/>
<circle cx="330.0" cy="135.7" r="1.9" fill="#2c718e" fill-opacity="0.25"/>
<circle cx="334.5" cy="108.3" r="1.9" fill="#2c718e" fill-opacity="0.25"/>
<circle cx="341.3" cy="97.8" r="1.9" fill="#2c718e" fill-opacity="0.25"/>
<circle cx="352.3" cy="141.3" r="1.9" fill="#2c718e" fill-opacity="0.25"/>
<circle cx="343.1" cy="123.1" r="1.9" fill="#2c718e" fill-opacity="0.25"/>
<circle cx="347.8" cy="132.8" r="1.9" fill="#2c718e" fill-opacity="0.25"/>
<circle cx="336.5" cy="115.2" r="1.9" fill="#2c718e" fill-opacity="0.25"/>
<circle cx="355.7" cy="117.5" r="1.9" fill="#2c718e" fill-opacity="0.25"/>
<circle cx="331.9" cy="148.1" r="1.9" fill="#2c718e" fill-opacity="0.25"/>
<circle cx="354.4" cy="79.4" r="1.9" fill="#2c718e" fill-opacity="0.25"/>
<circle cx="333.3" cy="113.9" r="1.9" fill="#2c718e" fill-opacity="0.25"/>
<circle cx="348.6" cy="114.3" r="1.9" fill="#2c718e" fill-opacity="0.25"/>
<circle cx="345.2" cy="136.5" r="1.9" fill="#2c718e" fill-opacity="0.25"/>
<circle cx="356.5" cy="152.8" r="1.9" fill="#2c718e" fill-opacity="0.25"/>
<circle cx="351.7" cy="137.4" r="1.9" fill="#2c718e" fill-opacity="0.25"/>
<circle cx="354.3" cy="108.4" r="1.9" fill="#2c718e" fill-opacity="0.25"/>
<circle cx="354.4" cy="153.2" r="1.9" fill="#2c718e" fill-opacity="0.25"/>
<circle cx="338.4" cy="142.3" r="1.9" fill="#2c718e" fill-opacity="0.25"/>
<circle cx="346.7" cy="136.6" r="1.9" fill="#2c718e" fill-opacity="0.25"/>
<circle cx="353.1" cy="87.8" r="1.9" fill="#2c718e" fill-opacity="0.25"/>
<circle cx="351.2" cy="97.3" r="1.9" fill="#2c718e" fill-opacity="0.25"/>
<circle cx="341.5" cy="139.9" r="1.9" fill="#2c718e" fill-opacity="0.25"/>
<circle cx="348.6" cy="148.5" r="1.9" fill="#2c718e" fill-opacity="0.25"/>
<circle cx="352.5" cy="70.6" r="1.9" fill="#2c718e" fill-opacity="0.25"/>
<circle cx="348.8" cy="134.9" r="1.9" fill="#2c718e" fill-opacity="0.25"/>
<circle cx="339.9" cy="139.1" r="1.9" fill="#2c718e" fill-opacity="0.25"/>
<circle cx="333.9" cy="104.1" r="1.9" fill="#2c718e" fill-opacity="0.25"/>
<circle cx="354.6" cy="104.3" r="1.9" fill="#2c718e" fill-opacity="0.25"/>
<circle cx="338.2" cy="145.7" r="1.9" fill="#2c718e" fill-opacity="0.25"/>
<circle cx="340.1" cy="101.5" r="1.9" fill="#2c718e" fill-opacity="0.25"/>
<circle cx="336.0" cy="154.5" r="1.9" fill="#2c718e" fill-opacity="0.25"/>
<circle cx="341.1" cy="111.3" r="1.9" fill="#2c718e" fill-opacity="0.25"/>
<circle cx="352.4" cy="129.7" r="1.9" fill="#2c718e" fill-opacity="0.25"/>
<circle cx="356.3" cy="147.5" r="1.9" fill="#2c718e" fill-opacity="0.25"/>
<circle cx="333.6" cy="147.8" r="1.9" fill="#2c718e" fill-opacity="0.25"/>
<circle cx="345.2" cy="129.5" r="1.9" fill="#2c718e" fill-opacity="0.25"/>
<circle cx="352.1" cy="145.0" r="1.9" fill="#2c718e" fill-opacity="0.25"/>
<circle cx="351.3" cy="120.0" r="1.9" fill="#2c718e" fill-opacity="0.25"/>
<circle cx="389.8" cy="128.5" r="1.9" fill="#277e8e" fill-opacity="0.25"/>
<circle cx="367.2" cy="145.0" r="1.9" fill="#277e8e" fill-opacity="0.25"/>
<circle cx="391.1" cy="139.9" r="1.9" fill="#277e8e" fill-opacity="0.25"/>
<circle cx="390.2" cy="145.4" r="1.9" fill="#277e8e" fill-opacity="0.25"/>
<circle cx="366.3" cy="136.2" r="1.9" fill="#277e8e" fill-opacity="0.25"/>
<circle cx="372.0" cy="150.5" r="1.9" fill="#277e8e" fill-opacity="0.25"/>
<circle cx="384.0" cy="151.0" r="1.9" fill="#277e8e" fill-opacity="0.25"/>
<circle cx="388.0" cy="152.0" r="1.9" fill="#277e8e" fill-opacity="0.25"/>
<circle cx="378.0" cy="148.0" r="1.9" fill="#277e8e" fill-opacity="0.25"/>
<circle cx="411.6" cy="118.8" r="1.9" fill="#228b8d" fill-opacity="0.25"/>
<circle cx="416.2" cy="112.7" r="1.9" fill="#228b8d" fill-opacity="0.25"/>
<circle cx="407.4" cy="134.2" r="1.9" fill="#228b8d" fill-opacity="0.25"/>
<circle cx="420.3" cy="132.0" r="1.9" fill="#228b8d" fill-opacity="0.25"/>
<circle cx="423.6" cy="139.4" r="1.9" fill="#228b8d" fill-opacity="0.25"/>
<circle cx="428.8" cy="147.1" r="1.9" fill="#228b8d" fill-opacity="0.25"/>
<circle cx="410.0" cy="145.0" r="1.9" fill="#228b8d" fill-opacity="0.25"/>
<circle cx="438.0" cy="80.5" r="1.9" fill="#1f988b" fill-opacity="0.25"/>
<circle cx="441.6" cy="84.6" r="1.9" fill="#1f988b" fill-opacity="0.25"/>
<circle cx="464.1" cy="92.5" r="1.9" fill="#1f988b" fill-opacity="0.25"/>
<circle cx="445.3" cy="93.4" r="1.9" fill="#1f988b" fill-opacity="0.25"/>
<circle cx="452.1" cy="91.6" r="1.9" fill="#1f988b" fill-opacity="0.25"/>
<circle cx="458.6" cy="96.2" r="1.9" fill="#1f988b" fill-opacity="0.25"/>
<circle cx="443.8" cy="98.6" r="1.9" fill="#1f988b" fill-opacity="0.25"/>
<circle cx="447.5" cy="98.0" r="1.9" fill="#1f988b" fill-opacity="0.25"/>
<circle cx="454.5" cy="98.0" r="1.9" fill="#1f988b" fill-opacity="0.25"/>
<circle cx="457.6" cy="102.2" r="1.9" fill="#1f988b" fill-opacity="0.25"/>
<circle cx="455.2" cy="105.9" r="1.9" fill="#1f988b" fill-opacity="0.25"/>
<circle cx="461.3" cy="112.7" r="1.9" fill="#1f988b" fill-opacity="0.25"/>
<circle cx="446.0" cy="115.5" r="1.9" fill="#1f988b" fill-opacity="0.25"/>
<circle cx="441.1" cy="119.5" r="1.9" fill="#1f988b" fill-opacity="0.25"/>
<circle cx="452.1" cy="122.5" r="1.9" fill="#1f988b" fill-opacity="0.25"/>
<circle cx="461.9" cy="123.8" r="1.9" fill="#1f988b" fill-opacity="0.25"/>
<circle cx="442.0" cy="128.4" r="1.9" fill="#1f988b" fill-opacity="0.25"/>
<circle cx="448.4" cy="128.7" r="1.9" fill="#1f988b" fill-opacity="0.25"/>
<circle cx="450.3" cy="134.2" r="1.9" fill="#1f988b" fill-opacity="0.25"/>
<circle cx="462.6" cy="142.7" r="1.9" fill="#1f988b" fill-opacity="0.25"/>
<circle cx="449.0" cy="104.0" r="1.9" fill="#1f988b" fill-opacity="0.25"/>
<circle cx="438.0" cy="108.0" r="1.9" fill="#1f988b" fill-opacity="0.25"/>
<circle cx="456.0" cy="117.0" r="1.9" fill="#1f988b" fill-opacity="0.25"/>
<circle cx="444.0" cy="136.0" r="1.9" fill="#1f988b" fill-opacity="0.25"/>
<circle cx="477.3" cy="102.2" r="1.9" fill="#20a486" fill-opacity="0.25"/>
<circle cx="473.6" cy="113.3" r="1.9" fill="#20a486" fill-opacity="0.25"/>
<circle cx="481.0" cy="111.8" r="1.9" fill="#20a486" fill-opacity="0.25"/>
<circle cx="475.5" cy="118.8" r="1.9" fill="#20a486" fill-opacity="0.25"/>
<circle cx="488.4" cy="117.7" r="1.9" fill="#20a486" fill-opacity="0.25"/>
<circle cx="492.0" cy="119.2" r="1.9" fill="#20a486" fill-opacity="0.25"/>
<circle cx="471.8" cy="129.6" r="1.9" fill="#20a486" fill-opacity="0.25"/>
<circle cx="494.4" cy="129.6" r="1.9" fill="#20a486" fill-opacity="0.25"/>
<circle cx="486.5" cy="130.6" r="1.9" fill="#20a486" fill-opacity="0.25"/>
<circle cx="473.6" cy="144.9" r="1.9" fill="#20a486" fill-opacity="0.25"/>
<circle cx="479.2" cy="146.4" r="1.9" fill="#20a486" fill-opacity="0.25"/>
<circle cx="493.1" cy="148.2" r="1.9" fill="#20a486" fill-opacity="0.25"/>
<circle cx="476.0" cy="153.2" r="1.9" fill="#20a486" fill-opacity="0.25"/>
<circle cx="487.0" cy="86.0" r="1.9" fill="#20a486" fill-opacity="0.25"/>
<circle cx="530.0" cy="58.9" r="1.9" fill="#2cb17e" fill-opacity="0.25"/>
<circle cx="508.4" cy="78.7" r="1.9" fill="#2cb17e" fill-opacity="0.25"/>
<circle cx="523.7" cy="78.2" r="1.9" fill="#2cb17e" fill-opacity="0.25"/>
<circle cx="519.5" cy="79.5" r="1.9" fill="#2cb17e" fill-opacity="0.25"/>
<circle cx="526.3" cy="138.6" r="1.9" fill="#2cb17e" fill-opacity="0.25"/>
<circle cx="522.1" cy="133.3" r="1.9" fill="#2cb17e" fill-opacity="0.25"/>
<circle cx="508.8" cy="149.2" r="1.9" fill="#2cb17e" fill-opacity="0.25"/>
<circle cx="525.8" cy="138.2" r="1.9" fill="#2cb17e" fill-opacity="0.25"/>
<circle cx="519.2" cy="137.0" r="1.9" fill="#2cb17e" fill-opacity="0.25"/>
<circle cx="513.6" cy="120.1" r="1.9" fill="#2cb17e" fill-opacity="0.25"/>
<circle cx="517.4" cy="118.5" r="1.9" fill="#2cb17e" fill-opacity="0.25"/>
<circle cx="523.5" cy="135.2" r="1.9" fill="#2cb17e" fill-opacity="0.25"/>
<circle cx="522.1" cy="148.9" r="1.9" fill="#2cb17e" fill-opacity="0.25"/>
<circle cx="519.9" cy="130.8" r="1.9" fill="#2cb17e" fill-opacity="0.25"/>
<circle cx="520.7" cy="106.4" r="1.9" fill="#2cb17e" fill-opacity="0.25"/>
<circle cx="516.3" cy="132.0" r="1.9" fill="#2cb17e" fill-opacity="0.25"/>
<circle cx="515.8" cy="128.1" r="1.9" fill="#2cb17e" fill-opacity="0.25"/>
<circle cx="515.0" cy="147.3" r="1.9" fill="#2cb17e" fill-opacity="0.25"/>
<circle cx="532.6" cy="142.0" r="1.9" fill="#2cb17e" fill-opacity="0.25"/>
<circle cx="526.4" cy="127.8" r="1.9" fill="#2cb17e" fill-opacity="0.25"/>
<circle cx="523.1" cy="119.7" r="1.9" fill="#2cb17e" fill-opacity="0.25"/>
<circle cx="510.0" cy="110.6" r="1.9" fill="#2cb17e" fill-opacity="0.25"/>
<circle cx="507.9" cy="152.4" r="1.9" fill="#2cb17e" fill-opacity="0.25"/>
<circle cx="528.7" cy="134.1" r="1.9" fill="#2cb17e" fill-opacity="0.25"/>
<circle cx="508.5" cy="152.0" r="1.9" fill="#2cb17e" fill-opacity="0.25"/>
<circle cx="528.9" cy="149.6" r="1.9" fill="#2cb17e" fill-opacity="0.25"/>
<circle cx="526.4" cy="143.2" r="1.9" fill="#2cb17e" fill-opacity="0.25"/>
<circle cx="525.3" cy="123.5" r="1.9" fill="#2cb17e" fill-opacity="0.25"/>
<circle cx="517.3" cy="132.4" r="1.9" fill="#2cb17e" fill-opacity="0.25"/>
<circle cx="527.3" cy="135.1" r="1.9" fill="#2cb17e" fill-opacity="0.25"/>
<circle cx="532.2" cy="115.3" r="1.9" fill="#2cb17e" fill-opacity="0.25"/>
<circle cx="525.6" cy="141.7" r="1.9" fill="#2cb17e" fill-opacity="0.25"/>
<circle cx="518.4" cy="114.3" r="1.9" fill="#2cb17e" fill-opacity="0.25"/>
<circle cx="527.4" cy="129.5" r="1.9" fill="#2cb17e" fill-opacity="0.25"/>
<circle cx="526.0" cy="103.9" r="1.9" fill="#2cb17e" fill-opacity="0.25"/>
<circle cx="529.9" cy="137.0" r="1.9" fill="#2cb17e" fill-opacity="0.25"/>
<circle cx="528.5" cy="89.7" r="1.9" fill="#2cb17e" fill-opacity="0.25"/>
<circle cx="532.0" cy="150.5" r="1.9" fill="#2cb17e" fill-opacity="0.25"/>
<circle cx="509.8" cy="143.4" r="1.9" fill="#2cb17e" fill-opacity="0.25"/>
<circle cx="533.7" cy="126.2" r="1.9" fill="#2cb17e" fill-opacity="0.25"/>
<circle cx="519.3" cy="146.2" r="1.9" fill="#2cb17e" fill-opacity="0.25"/>
<circle cx="508.2" cy="136.5" r="1.9" fill="#2cb17e" fill-opacity="0.25"/>
<circle cx="518.0" cy="112.5" r="1.9" fill="#2cb17e" fill-opacity="0.25"/>
<circle cx="533.5" cy="138.7" r="1.9" fill="#2cb17e" fill-opacity="0.25"/>
<circle cx="515.2" cy="152.5" r="1.9" fill="#2cb17e" fill-opacity="0.25"/>
<circle cx="520.5" cy="148.5" r="1.9" fill="#2cb17e" fill-opacity="0.25"/>
<circle cx="532.8" cy="135.3" r="1.9" fill="#2cb17e" fill-opacity="0.25"/>
<circle cx="519.5" cy="144.4" r="1.9" fill="#2cb17e" fill-opacity="0.25"/>
<circle cx="529.3" cy="134.4" r="1.9" fill="#2cb17e" fill-opacity="0.25"/>
<circle cx="512.5" cy="150.7" r="1.9" fill="#2cb17e" fill-opacity="0.25"/>
<circle cx="526.8" cy="142.9" r="1.9" fill="#2cb17e" fill-opacity="0.25"/>
<circle cx="525.0" cy="136.2" r="1.9" fill="#2cb17e" fill-opacity="0.25"/>
<circle cx="525.3" cy="138.8" r="1.9" fill="#2cb17e" fill-opacity="0.25"/>
<circle cx="529.9" cy="146.8" r="1.9" fill="#2cb17e" fill-opacity="0.25"/>
<circle cx="533.9" cy="127.6" r="1.9" fill="#2cb17e" fill-opacity="0.25"/>
<circle cx="508.7" cy="135.6" r="1.9" fill="#2cb17e" fill-opacity="0.25"/>
<circle cx="509.0" cy="137.3" r="1.9" fill="#2cb17e" fill-opacity="0.25"/>
<circle cx="523.6" cy="140.8" r="1.9" fill="#2cb17e" fill-opacity="0.25"/>
<circle cx="521.3" cy="151.6" r="1.9" fill="#2cb17e" fill-opacity="0.25"/>
<circle cx="510.1" cy="108.8" r="1.9" fill="#2cb17e" fill-opacity="0.25"/>
<circle cx="522.4" cy="115.9" r="1.9" fill="#2cb17e" fill-opacity="0.25"/>
<circle cx="516.0" cy="137.9" r="1.9" fill="#2cb17e" fill-opacity="0.25"/>
<circle cx="509.9" cy="119.7" r="1.9" fill="#2cb17e" fill-opacity="0.25"/>
<circle cx="524.2" cy="152.3" r="1.9" fill="#2cb17e" fill-opacity="0.25"/>
<circle cx="508.4" cy="143.7" r="1.9" fill="#2cb17e" fill-opacity="0.25"/>
<circle cx="523.5" cy="128.1" r="1.9" fill="#2cb17e" fill-opacity="0.25"/>
<circle cx="526.2" cy="100.1" r="1.9" fill="#2cb17e" fill-opacity="0.25"/>
<circle cx="532.2" cy="93.7" r="1.9" fill="#2cb17e" fill-opacity="0.25"/>
<circle cx="530.4" cy="135.5" r="1.9" fill="#2cb17e" fill-opacity="0.25"/>
<circle cx="523.3" cy="120.2" r="1.9" fill="#2cb17e" fill-opacity="0.25"/>
<circle cx="519.3" cy="117.9" r="1.9" fill="#2cb17e" fill-opacity="0.25"/>
<circle cx="518.5" cy="149.4" r="1.9" fill="#2cb17e" fill-opacity="0.25"/>
<circle cx="521.6" cy="113.0" r="1.9" fill="#2cb17e" fill-opacity="0.25"/>
<circle cx="528.8" cy="145.2" r="1.9" fill="#2cb17e" fill-opacity="0.25"/>
<circle cx="531.1" cy="92.5" r="1.9" fill="#2cb17e" fill-opacity="0.25"/>
<circle cx="511.0" cy="146.3" r="1.9" fill="#2cb17e" fill-opacity="0.25"/>
<circle cx="529.0" cy="127.6" r="1.9" fill="#2cb17e" fill-opacity="0.25"/>
<circle cx="532.5" cy="118.0" r="1.9" fill="#2cb17e" fill-opacity="0.25"/>
<circle cx="534.8" cy="144.5" r="1.9" fill="#2cb17e" fill-opacity="0.25"/>
<circle cx="514.5" cy="120.2" r="1.9" fill="#2cb17e" fill-opacity="0.25"/>
<circle cx="531.8" cy="89.0" r="1.9" fill="#2cb17e" fill-opacity="0.25"/>
<circle cx="534.1" cy="135.2" r="1.9" fill="#2cb17e" fill-opacity="0.25"/>
<circle cx="512.5" cy="85.1" r="1.9" fill="#2cb17e" fill-opacity="0.25"/>
<circle cx="525.4" cy="134.9" r="1.9" fill="#2cb17e" fill-opacity="0.25"/>
<circle cx="521.7" cy="145.6" r="1.9" fill="#2cb17e" fill-opacity="0.25"/>
<circle cx="512.4" cy="145.4" r="1.9" fill="#2cb17e" fill-opacity="0.25"/>
<circle cx="514.7" cy="145.9" r="1.9" fill="#2cb17e" fill-opacity="0.25"/>
<circle cx="509.8" cy="125.5" r="1.9" fill="#2cb17e" fill-opacity="0.25"/>
<circle cx="528.3" cy="139.0" r="1.9" fill="#2cb17e" fill-opacity="0.25"/>
<circle cx="534.2" cy="133.5" r="1.9" fill="#2cb17e" fill-opacity="0.25"/>
<circle cx="533.2" cy="124.6" r="1.9" fill="#2cb17e" fill-opacity="0.25"/>
<circle cx="513.6" cy="110.5" r="1.9" fill="#2cb17e" fill-opacity="0.25"/>
<circle cx="524.7" cy="108.2" r="1.9" fill="#2cb17e" fill-opacity="0.25"/>
<circle cx="531.1" cy="149.0" r="1.9" fill="#2cb17e" fill-opacity="0.25"/>
<circle cx="527.6" cy="96.3" r="1.9" fill="#2cb17e" fill-opacity="0.25"/>
<circle cx="533.5" cy="92.8" r="1.9" fill="#2cb17e" fill-opacity="0.25"/>
<circle cx="515.8" cy="108.2" r="1.9" fill="#2cb17e" fill-opacity="0.25"/>
<circle cx="522.0" cy="126.4" r="1.9" fill="#2cb17e" fill-opacity="0.25"/>
<circle cx="520.0" cy="140.0" r="1.9" fill="#2cb17e" fill-opacity="0.25"/>
<circle cx="518.2" cy="148.8" r="1.9" fill="#2cb17e" fill-opacity="0.25"/>
<circle cx="508.2" cy="119.5" r="1.9" fill="#2cb17e" fill-opacity="0.25"/>
<circle cx="531.5" cy="135.6" r="1.9" fill="#2cb17e" fill-opacity="0.25"/>
<circle cx="512.6" cy="107.3" r="1.9" fill="#2cb17e" fill-opacity="0.25"/>
<circle cx="531.1" cy="102.8" r="1.9" fill="#2cb17e" fill-opacity="0.25"/>
<circle cx="517.0" cy="146.4" r="1.9" fill="#2cb17e" fill-opacity="0.25"/>
<circle cx="516.9" cy="120.3" r="1.9" fill="#2cb17e" fill-opacity="0.25"/>
<circle cx="519.5" cy="142.4" r="1.9" fill="#2cb17e" fill-opacity="0.25"/>
<circle cx="516.1" cy="125.4" r="1.9" fill="#2cb17e" fill-opacity="0.25"/>
<circle cx="529.9" cy="111.6" r="1.9" fill="#2cb17e" fill-opacity="0.25"/>
<circle cx="527.0" cy="146.8" r="1.9" fill="#2cb17e" fill-opacity="0.25"/>
<circle cx="534.2" cy="146.7" r="1.9" fill="#2cb17e" fill-opacity="0.25"/>
<circle cx="512.1" cy="130.3" r="1.9" fill="#2cb17e" fill-opacity="0.25"/>
<circle cx="529.1" cy="134.9" r="1.9" fill="#2cb17e" fill-opacity="0.25"/>
<circle cx="533.7" cy="136.1" r="1.9" fill="#2cb17e" fill-opacity="0.25"/>
<circle cx="530.2" cy="140.3" r="1.9" fill="#2cb17e" fill-opacity="0.25"/>
<circle cx="533.1" cy="141.9" r="1.9" fill="#2cb17e" fill-opacity="0.25"/>
<circle cx="508.4" cy="106.4" r="1.9" fill="#2cb17e" fill-opacity="0.25"/>
<circle cx="523.7" cy="151.5" r="1.9" fill="#2cb17e" fill-opacity="0.25"/>
<circle cx="525.8" cy="149.9" r="1.9" fill="#2cb17e" fill-opacity="0.25"/>
<circle cx="531.8" cy="132.2" r="1.9" fill="#2cb17e" fill-opacity="0.25"/>
<circle cx="519.9" cy="136.4" r="1.9" fill="#2cb17e" fill-opacity="0.25"/>
<circle cx="518.2" cy="116.2" r="1.9" fill="#2cb17e" fill-opacity="0.25"/>
<circle cx="509.9" cy="96.9" r="1.9" fill="#2cb17e" fill-opacity="0.25"/>
<circle cx="531.6" cy="150.7" r="1.9" fill="#2cb17e" fill-opacity="0.25"/>
<circle cx="510.5" cy="134.9" r="1.9" fill="#2cb17e" fill-opacity="0.25"/>
<circle cx="532.9" cy="139.3" r="1.9" fill="#2cb17e" fill-opacity="0.25"/>
<circle cx="531.4" cy="124.3" r="1.9" fill="#2cb17e" fill-opacity="0.25"/>
<circle cx="530.4" cy="152.6" r="1.9" fill="#2cb17e" fill-opacity="0.25"/>
<circle cx="511.7" cy="130.0" r="1.9" fill="#2cb17e" fill-opacity="0.25"/>
<circle cx="528.8" cy="148.1" r="1.9" fill="#2cb17e" fill-opacity="0.25"/>
<circle cx="520.6" cy="148.4" r="1.9" fill="#2cb17e" fill-opacity="0.25"/>
<circle cx="520.1" cy="141.6" r="1.9" fill="#2cb17e" fill-opacity="0.25"/>
<circle cx="513.7" cy="120.1" r="1.9" fill="#2cb17e" fill-opacity="0.25"/>
<circle cx="514.8" cy="131.0" r="1.9" fill="#2cb17e" fill-opacity="0.25"/>
<circle cx="532.7" cy="92.9" r="1.9" fill="#2cb17e" fill-opacity="0.25"/>
<circle cx="514.9" cy="123.9" r="1.9" fill="#2cb17e" fill-opacity="0.25"/>
<circle cx="527.0" cy="98.0" r="1.9" fill="#2cb17e" fill-opacity="0.25"/>
<circle cx="518.1" cy="150.1" r="1.9" fill="#2cb17e" fill-opacity="0.25"/>
<circle cx="525.8" cy="123.1" r="1.9" fill="#2cb17e" fill-opacity="0.25"/>
<circle cx="516.3" cy="116.1" r="1.9" fill="#2cb17e" fill-opacity="0.25"/>
<circle cx="513.3" cy="112.1" r="1.9" fill="#2cb17e" fill-opacity="0.25"/>
<circle cx="524.2" cy="106.7" r="1.9" fill="#2cb17e" fill-opacity="0.25"/>
<circle cx="556.8" cy="54.3" r="1.9" fill="#3fbc73" fill-opacity="0.25"/>
<circle cx="553.9" cy="64.4" r="1.9" fill="#3fbc73" fill-opacity="0.25"/>
<circle cx="549.5" cy="74.0" r="1.9" fill="#3fbc73" fill-opacity="0.25"/>
<circle cx="544.0" cy="80.6" r="1.9" fill="#3fbc73" fill-opacity="0.25"/>
<circle cx="550.8" cy="80.0" r="1.9" fill="#3fbc73" fill-opacity="0.25"/>
<circle cx="560.6" cy="142.9" r="1.9" fill="#3fbc73" fill-opacity="0.25"/>
<circle cx="552.3" cy="89.6" r="1.9" fill="#3fbc73" fill-opacity="0.25"/>
<circle cx="551.4" cy="125.1" r="1.9" fill="#3fbc73" fill-opacity="0.25"/>
<circle cx="563.4" cy="121.6" r="1.9" fill="#3fbc73" fill-opacity="0.25"/>
<circle cx="570.4" cy="78.1" r="1.9" fill="#3fbc73" fill-opacity="0.25"/>
<circle cx="559.6" cy="124.3" r="1.9" fill="#3fbc73" fill-opacity="0.25"/>
<circle cx="557.5" cy="138.6" r="1.9" fill="#3fbc73" fill-opacity="0.25"/>
<circle cx="544.7" cy="106.5" r="1.9" fill="#3fbc73" fill-opacity="0.25"/>
<circle cx="563.0" cy="93.1" r="1.9" fill="#3fbc73" fill-opacity="0.25"/>
<circle cx="548.4" cy="118.9" r="1.9" fill="#3fbc73" fill-opacity="0.25"/>
<circle cx="569.9" cy="115.0" r="1.9" fill="#3fbc73" fill-opacity="0.25"/>
<circle cx="555.8" cy="146.8" r="1.9" fill="#3fbc73" fill-opacity="0.25"/>
<circle cx="558.2" cy="125.1" r="1.9" fill="#3fbc73" fill-opacity="0.25"/>
<circle cx="569.5" cy="76.1" r="1.9" fill="#3fbc73" fill-opacity="0.25"/>
<circle cx="564.3" cy="133.4" r="1.9" fill="#3fbc73" fill-opacity="0.25"/>
<circle cx="546.1" cy="105.3" r="1.9" fill="#3fbc73" fill-opacity="0.25"/>
<circle cx="547.9" cy="66.6" r="1.9" fill="#3fbc73" fill-opacity="0.25"/>
<circle cx="549.7" cy="89.1" r="1.9" fill="#3fbc73" fill-opacity="0.25"/>
<circle cx="550.6" cy="127.1" r="1.9" fill="#3fbc73" fill-opacity="0.25"/>
<circle cx="554.6" cy="137.9" r="1.9" fill="#3fbc73" fill-opacity="0.25"/>
<circle cx="555.2" cy="128.8" r="1.9" fill="#3fbc73" fill-opacity="0.25"/>
<circle cx="555.5" cy="129.5" r="1.9" fill="#3fbc73" fill-opacity="0.25"/>
<circle cx="547.4" cy="124.9" r="1.9" fill="#3fbc73" fill-opacity="0.25"/>
<circle cx="549.6" cy="85.3" r="1.9" fill="#3fbc73" fill-opacity="0.25"/>
<circle cx="545.9" cy="149.4" r="1.9" fill="#3fbc73" fill-opacity="0.25"/>
<circle cx="557.2" cy="95.3" r="1.9" fill="#3fbc73" fill-opacity="0.25"/>
<circle cx="547.1" cy="137.1" r="1.9" fill="#3fbc73" fill-opacity="0.25"/>
<circle cx="568.1" cy="79.1" r="1.9" fill="#3fbc73" fill-opacity="0.25"/>
<circle cx="563.7" cy="122.4" r="1.9" fill="#3fbc73" fill-opacity="0.25"/>
<circle cx="560.6" cy="128.2" r="1.9" fill="#3fbc73" fill-opacity="0.25"/>
<circle cx="544.9" cy="114.2" r="1.9" fill="#3fbc73" fill-opacity="0.25"/>
<circle cx="568.0" cy="112.9" r="1.9" fill="#3fbc73" fill-opacity="0.25"/>
<circle cx="568.6" cy="103.1" r="1.9" fill="#3fbc73" fill-opacity="0.25"/>
<circle cx="558.5" cy="100.1" r="1.9" fill="#3fbc73" fill-opacity="0.25"/>
<circle cx="560.3" cy="116.1" r="1.9" fill="#3fbc73" fill-opacity="0.25"/>
<circle cx="558.9" cy="149.7" r="1.9" fill="#3fbc73" fill-opacity="0.25"/>
<circle cx="562.0" cy="119.1" r="1.9" fill="#3fbc73" fill-opacity="0.25"/>
<circle cx="548.8" cy="100.1" r="1.9" fill="#3fbc73" fill-opacity="0.25"/>
<circle cx="558.5" cy="123.2" r="1.9" fill="#3fbc73" fill-opacity="0.25"/>
<circle cx="565.1" cy="98.4" r="1.9" fill="#3fbc73" fill-opacity="0.25"/>
<circle cx="547.3" cy="71.2" r="1.9" fill="#3fbc73" fill-opacity="0.25"/>
<circle cx="554.4" cy="97.2" r="1.9" fill="#3fbc73" fill-opacity="0.25"/>
<circle cx="551.5" cy="75.9" r="1.9" fill="#3fbc73" fill-opacity="0.25"/>
<circle cx="566.2" cy="84.6" r="1.9" fill="#3fbc73" fill-opacity="0.25"/>
<circle cx="569.9" cy="69.5" r="1.9" fill="#3fbc73" fill-opacity="0.25"/>
<circle cx="543.8" cy="88.3" r="1.9" fill="#3fbc73" fill-opacity="0.25"/>
<circle cx="552.1" cy="74.0" r="1.9" fill="#3fbc73" fill-opacity="0.25"/>
<circle cx="562.2" cy="97.1" r="1.9" fill="#3fbc73" fill-opacity="0.25"/>
<circle cx="548.9" cy="97.9" r="1.9" fill="#3fbc73" fill-opacity="0.25"/>
<circle cx="549.0" cy="114.6" r="1.9" fill="#3fbc73" fill-opacity="0.25"/>
<circle cx="562.2" cy="120.8" r="1.9" fill="#3fbc73" fill-opacity="0.25"/>
<circle cx="562.9" cy="77.5" r="1.9" fill="#3fbc73" fill-opacity="0.25"/>
<circle cx="557.0" cy="134.9" r="1.9" fill="#3fbc73" fill-opacity="0.25"/>
<circle cx="561.0" cy="89.5" r="1.9" fill="#3fbc73" fill-opacity="0.25"/>
<circle cx="547.1" cy="87.1" r="1.9" fill="#3fbc73" fill-opacity="0.25"/>
<circle cx="563.9" cy="88.0" r="1.9" fill="#3fbc73" fill-opacity="0.25"/>
<circle cx="548.2" cy="148.2" r="1.9" fill="#3fbc73" fill-opacity="0.25"/>
<circle cx="563.1" cy="127.6" r="1.9" fill="#3fbc73" fill-opacity="0.25"/>
<circle cx="569.4" cy="105.3" r="1.9" fill="#3fbc73" fill-opacity="0.25"/>
<circle cx="561.3" cy="143.7" r="1.9" fill="#3fbc73" fill-opacity="0.25"/>
<circle cx="548.1" cy="101.1" r="1.9" fill="#3fbc73" fill-opacity="0.25"/>
<circle cx="563.4" cy="123.2" r="1.9" fill="#3fbc73" fill-opacity="0.25"/>
<circle cx="567.9" cy="79.6" r="1.9" fill="#3fbc73" fill-opacity="0.25"/>
<circle cx="570.0" cy="65.5" r="1.9" fill="#3fbc73" fill-opacity="0.25"/>
<circle cx="558.9" cy="150.4" r="1.9" fill="#3fbc73" fill-opacity="0.25"/>
<circle cx="566.9" cy="129.6" r="1.9" fill="#3fbc73" fill-opacity="0.25"/>
<circle cx="554.8" cy="116.4" r="1.9" fill="#3fbc73" fill-opacity="0.25"/>
<circle cx="561.6" cy="108.9" r="1.9" fill="#3fbc73" fill-opacity="0.25"/>
<circle cx="562.9" cy="135.0" r="1.9" fill="#3fbc73" fill-opacity="0.25"/>
<circle cx="553.3" cy="83.3" r="1.9" fill="#3fbc73" fill-opacity="0.25"/>
<circle cx="558.4" cy="145.7" r="1.9" fill="#3fbc73" fill-opacity="0.25"/>
<circle cx="549.4" cy="135.2" r="1.9" fill="#3fbc73" fill-opacity="0.25"/>
<circle cx="551.2" cy="151.4" r="1.9" fill="#3fbc73" fill-opacity="0.25"/>
<circle cx="548.5" cy="95.7" r="1.9" fill="#3fbc73" fill-opacity="0.25"/>
<circle cx="566.7" cy="117.8" r="1.9" fill="#3fbc73" fill-opacity="0.25"/>
<circle cx="546.7" cy="100.7" r="1.9" fill="#3fbc73" fill-opacity="0.25"/>
<circle cx="568.3" cy="105.4" r="1.9" fill="#3fbc73" fill-opacity="0.25"/>
<circle cx="559.4" cy="135.0" r="1.9" fill="#3fbc73" fill-opacity="0.25"/>
<circle cx="560.1" cy="127.8" r="1.9" fill="#3fbc73" fill-opacity="0.25"/>
<circle cx="559.8" cy="108.2" r="1.9" fill="#3fbc73" fill-opacity="0.25"/>
<circle cx="544.6" cy="99.0" r="1.9" fill="#3fbc73" fill-opacity="0.25"/>
<circle cx="570.0" cy="132.4" r="1.9" fill="#3fbc73" fill-opacity="0.25"/>
<circle cx="544.2" cy="115.7" r="1.9" fill="#3fbc73" fill-opacity="0.25"/>
<circle cx="554.0" cy="114.8" r="1.9" fill="#3fbc73" fill-opacity="0.25"/>
<circle cx="549.5" cy="76.1" r="1.9" fill="#3fbc73" fill-opacity="0.25"/>
<circle cx="568.7" cy="140.8" r="1.9" fill="#3fbc73" fill-opacity="0.25"/>
<circle cx="561.8" cy="140.4" r="1.9" fill="#3fbc73" fill-opacity="0.25"/>
<circle cx="546.4" cy="86.7" r="1.9" fill="#3fbc73" fill-opacity="0.25"/>
<circle cx="587.6" cy="44.2" r="1.9" fill="#5ac864" fill-opacity="0.25"/>
<circle cx="583.0" cy="50.6" r="1.9" fill="#5ac864" fill-opacity="0.25"/>
<circle cx="593.6" cy="62.6" r="1.9" fill="#5ac864" fill-opacity="0.25"/>
<circle cx="584.8" cy="67.7" r="1.9" fill="#5ac864" fill-opacity="0.25"/>
<circle cx="578.9" cy="72.1" r="1.9" fill="#5ac864" fill-opacity="0.25"/>
<circle cx="578.9" cy="75.4" r="1.9" fill="#5ac864" fill-opacity="0.25"/>
<circle cx="598.6" cy="77.3" r="1.9" fill="#5ac864" fill-opacity="0.25"/>
<circle cx="602.8" cy="80.0" r="1.9" fill="#5ac864" fill-opacity="0.25"/>
<circle cx="578.4" cy="75.9" r="1.9" fill="#5ac864" fill-opacity="0.25"/>
<circle cx="602.3" cy="81.4" r="1.9" fill="#5ac864" fill-opacity="0.25"/>
<circle cx="604.1" cy="91.6" r="1.9" fill="#5ac864" fill-opacity="0.25"/>
<circle cx="577.4" cy="93.4" r="1.9" fill="#5ac864" fill-opacity="0.25"/>
<circle cx="583.0" cy="104.8" r="1.9" fill="#5ac864" fill-opacity="0.25"/>
<circle cx="583.0" cy="114.6" r="1.9" fill="#5ac864" fill-opacity="0.25"/>
<circle cx="585.7" cy="138.5" r="1.9" fill="#5ac864" fill-opacity="0.25"/>
<circle cx="597.7" cy="144.0" r="1.9" fill="#5ac864" fill-opacity="0.25"/>
<circle cx="578.4" cy="150.4" r="1.9" fill="#5ac864" fill-opacity="0.25"/>
<circle cx="600.4" cy="150.8" r="1.9" fill="#5ac864" fill-opacity="0.25"/>
<circle cx="592.0" cy="120.0" r="1.9" fill="#5ac864" fill-opacity="0.25"/>
<circle cx="596.0" cy="100.0" r="1.9" fill="#5ac864" fill-opacity="0.25"/>
<circle cx="589.0" cy="132.0" r="1.9" fill="#5ac864" fill-opacity="0.25"/>
<circle cx="604.0" cy="60.0" r="1.9" fill="#5ac864" fill-opacity="0.25"/>
<circle cx="580.0" cy="88.0" r="1.9" fill="#5ac864" fill-opacity="0.25"/>
<circle cx="633.1" cy="90.6" r="1.9" fill="#7ad151" fill-opacity="0.25"/>
<circle cx="613.8" cy="110.3" r="1.9" fill="#7ad151" fill-opacity="0.25"/>
<circle cx="630.4" cy="100.8" r="1.9" fill="#7ad151" fill-opacity="0.25"/>
<circle cx="641.0" cy="130.6" r="1.9" fill="#7ad151" fill-opacity="0.25"/>
<circle cx="622.1" cy="138.5" r="1.9" fill="#7ad151" fill-opacity="0.25"/>
<circle cx="624.0" cy="146.8" r="1.9" fill="#7ad151" fill-opacity="0.25"/>
<circle cx="618.0" cy="128.0" r="1.9" fill="#7ad151" fill-opacity="0.25"/>
<circle cx="636.0" cy="150.0" r="1.9" fill="#7ad151" fill-opacity="0.25"/>
<circle cx="628.0" cy="120.0" r="1.9" fill="#7ad151" fill-opacity="0.25"/>
<circle cx="632.0" cy="141.0" r="1.9" fill="#7ad151" fill-opacity="0.25"/>
<circle cx="654.6" cy="75.4" r="1.9" fill="#9bd93c" fill-opacity="0.25"/>
<circle cx="670.5" cy="101.7" r="1.9" fill="#9bd93c" fill-opacity="0.25"/>
<circle cx="674.1" cy="114.0" r="1.9" fill="#9bd93c" fill-opacity="0.25"/>
<circle cx="656.5" cy="119.2" r="1.9" fill="#9bd93c" fill-opacity="0.25"/>
<circle cx="677.3" cy="131.1" r="1.9" fill="#9bd93c" fill-opacity="0.25"/>
<circle cx="649.7" cy="142.7" r="1.9" fill="#9bd93c" fill-opacity="0.25"/>
<circle cx="676.4" cy="142.7" r="1.9" fill="#9bd93c" fill-opacity="0.25"/>
<circle cx="667.2" cy="144.9" r="1.9" fill="#9bd93c" fill-opacity="0.25"/>
<circle cx="669.0" cy="146.8" r="1.9" fill="#9bd93c" fill-opacity="0.25"/>
<circle cx="660.0" cy="135.0" r="1.9" fill="#9bd93c" fill-opacity="0.25"/>
<circle cx="664.0" cy="152.0" r="1.9" fill="#9bd93c" fill-opacity="0.25"/>
<circle cx="652.0" cy="128.0" r="1.9" fill="#9bd93c" fill-opacity="0.25"/>
<circle cx="668.0" cy="124.0" r="1.9" fill="#9bd93c" fill-opacity="0.25"/>
<path d="M92.38,67.20 C92.26,68.50 91.96,72.03 91.68,75.00 C91.40,77.97 91.10,80.93 90.68,85.00 C90.26,89.07 89.56,93.57 89.18,99.40 C88.80,105.23 88.56,113.87 88.38,120.00 C88.20,126.13 88.06,131.53 88.08,136.20 C88.10,140.87 88.25,145.15 88.48,148.00 C88.71,150.85 89.31,152.42 89.48,153.30 L97.88,153.30 C98.05,152.42 98.65,150.85 98.88,148.00 C99.11,145.15 99.26,140.87 99.28,136.20 C99.30,131.53 99.16,126.13 98.98,120.00 C98.80,113.87 98.56,105.23 98.18,99.40 C97.80,93.57 97.10,89.07 96.68,85.00 C96.26,80.93 95.96,77.97 95.68,75.00 C95.40,72.03 95.10,68.50 94.98,67.20 Z" fill="#fff" fill-opacity="0.25" stroke="#000" stroke-width="0.85" stroke-linejoin="round"/>
<path d="M127.32,43.40 C126.99,44.50 126.00,47.12 125.32,50.00 C124.64,52.88 123.49,57.37 123.22,60.70 C122.95,64.03 123.44,66.78 123.72,70.00 C124.00,73.22 124.49,76.78 124.92,80.00 C125.35,83.22 126.02,85.97 126.32,89.30 C126.62,92.63 126.60,95.72 126.72,100.00 C126.84,104.28 126.92,110.00 127.02,115.00 C127.12,120.00 127.29,124.17 127.32,130.00 C127.35,135.83 127.24,145.90 127.22,150.00 C127.20,154.10 127.22,153.83 127.22,154.60 L131.42,154.60 C131.42,153.83 131.44,154.10 131.42,150.00 C131.40,145.90 131.29,135.83 131.32,130.00 C131.35,124.17 131.52,120.00 131.62,115.00 C131.72,110.00 131.80,104.28 131.92,100.00 C132.04,95.72 132.02,92.63 132.32,89.30 C132.62,85.97 133.29,83.22 133.72,80.00 C134.15,76.78 134.64,73.22 134.92,70.00 C135.20,66.78 135.69,64.03 135.42,60.70 C135.15,57.37 134.00,52.88 133.32,50.00 C132.64,47.12 131.65,44.50 131.32,43.40 Z" fill="#fff" fill-opacity="0.25" stroke="#000" stroke-width="0.85" stroke-linejoin="round"/>
<path d="M163.46,65.30 C163.29,67.75 162.74,75.85 162.46,80.00 C162.18,84.15 161.98,83.90 161.76,90.20 C161.54,96.50 161.46,111.17 161.16,117.80 C160.86,124.43 160.39,126.02 159.96,130.00 C159.53,133.98 158.73,138.37 158.56,141.70 C158.39,145.03 158.78,147.92 158.96,150.00 C159.14,152.08 159.54,153.50 159.66,154.20 L170.26,154.20 C170.38,153.50 170.78,152.08 170.96,150.00 C171.14,147.92 171.53,145.03 171.36,141.70 C171.19,138.37 170.39,133.98 169.96,130.00 C169.53,126.02 169.06,124.43 168.76,117.80 C168.46,111.17 168.38,96.50 168.16,90.20 C167.94,83.90 167.74,84.15 167.46,80.00 C167.18,75.85 166.63,67.75 166.46,65.30 Z" fill="#fff" fill-opacity="0.25" stroke="#000" stroke-width="0.85" stroke-linejoin="round"/>
<path d="M200.48,12.50 C200.47,18.00 200.61,38.42 200.40,45.50 C200.19,52.58 199.58,51.52 199.20,55.00 C198.82,58.48 198.47,61.48 198.10,66.40 C197.73,71.32 197.25,77.57 197.00,84.50 C196.75,91.43 196.65,98.75 196.60,108.00 C196.55,117.25 196.62,133.00 196.70,140.00 C196.78,147.00 197.03,147.57 197.10,150.00 C197.17,152.43 197.10,153.83 197.10,154.60 L204.10,154.60 C204.10,153.83 204.03,152.43 204.10,150.00 C204.17,147.57 204.42,147.00 204.50,140.00 C204.58,133.00 204.65,117.25 204.60,108.00 C204.55,98.75 204.45,91.43 204.20,84.50 C203.95,77.57 203.47,71.32 203.10,66.40 C202.73,61.48 202.38,58.48 202.00,55.00 C201.62,51.52 201.01,52.58 200.80,45.50 C200.59,38.42 200.73,18.00 200.72,12.50 Z" fill="#fff" fill-opacity="0.25" stroke="#000" stroke-width="0.85" stroke-linejoin="round"/>
<path d="M232.54,42.00 C232.74,43.33 233.24,46.27 233.74,50.00 C234.24,53.73 235.54,60.73 235.54,64.40 C235.54,68.07 234.61,69.23 233.74,72.00 C232.87,74.77 231.02,77.97 230.34,81.00 C229.66,84.03 229.62,87.13 229.64,90.20 C229.66,93.27 229.96,95.72 230.44,99.40 C230.92,103.08 232.04,108.62 232.54,112.30 C233.04,115.98 233.21,116.67 233.44,121.50 C233.67,126.33 233.86,138.00 233.94,141.30 L238.54,141.30 C238.62,138.00 238.81,126.33 239.04,121.50 C239.27,116.67 239.44,115.98 239.94,112.30 C240.44,108.62 241.56,103.08 242.04,99.40 C242.52,95.72 242.82,93.27 242.84,90.20 C242.86,87.13 242.82,84.03 242.14,81.00 C241.46,77.97 239.61,74.77 238.74,72.00 C237.87,69.23 236.94,68.07 236.94,64.40 C236.94,60.73 238.24,53.73 238.74,50.00 C239.24,46.27 239.74,43.33 239.94,42.00 Z" fill="#fff" fill-opacity="0.25" stroke="#000" stroke-width="0.85" stroke-linejoin="round"/>
<path d="M270.28,34.20 C270.38,36.00 270.78,41.53 270.88,45.00 C270.98,48.47 271.13,51.67 270.88,55.00 C270.63,58.33 270.16,60.67 269.38,65.00 C268.60,69.33 266.66,75.88 266.18,81.00 C265.70,86.12 266.15,91.10 266.48,95.70 C266.81,100.30 267.58,104.00 268.18,108.60 C268.78,113.20 269.80,118.70 270.08,123.30 C270.36,127.90 270.00,131.35 269.88,136.20 C269.76,141.05 269.46,149.70 269.38,152.40 L274.38,152.40 C274.30,149.70 274.00,141.05 273.88,136.20 C273.76,131.35 273.40,127.90 273.68,123.30 C273.96,118.70 274.98,113.20 275.58,108.60 C276.18,104.00 276.95,100.30 277.28,95.70 C277.61,91.10 278.06,86.12 277.58,81.00 C277.10,75.88 275.16,69.33 274.38,65.00 C273.60,60.67 273.13,58.33 272.88,55.00 C272.63,51.67 272.78,48.47 272.88,45.00 C272.98,41.53 273.38,36.00 273.48,34.20 Z" fill="#fff" fill-opacity="0.25" stroke="#000" stroke-width="0.85" stroke-linejoin="round"/>
<path d="M305.32,57.40 C305.02,59.50 304.05,66.07 303.52,70.00 C302.99,73.93 302.45,77.63 302.12,81.00 C301.79,84.37 301.34,86.53 301.52,90.20 C301.70,93.87 302.69,98.40 303.22,103.00 C303.75,107.60 304.37,112.27 304.72,117.80 C305.07,123.33 305.19,130.62 305.32,136.20 C305.45,141.78 305.49,148.78 305.52,151.30 L309.52,151.30 C309.55,148.78 309.59,141.78 309.72,136.20 C309.85,130.62 309.97,123.33 310.32,117.80 C310.67,112.27 311.29,107.60 311.82,103.00 C312.35,98.40 313.34,93.87 313.52,90.20 C313.70,86.53 313.25,84.37 312.92,81.00 C312.59,77.63 312.05,73.93 311.52,70.00 C310.99,66.07 310.02,59.50 309.72,57.40 Z" fill="#fff" fill-opacity="0.25" stroke="#000" stroke-width="0.85" stroke-linejoin="round"/>
<path d="M343.06,48.20 C342.98,51.83 342.88,64.25 342.56,70.00 C342.24,75.75 341.81,76.78 341.16,82.70 C340.51,88.62 339.46,97.92 338.66,105.50 C337.86,113.08 336.94,121.38 336.36,128.20 C335.78,135.02 335.23,142.60 335.16,146.40 C335.09,150.20 335.54,149.82 335.96,151.00 C336.38,152.18 337.13,152.90 337.66,153.50 C338.19,154.10 338.91,154.42 339.16,154.60 L347.16,154.60 C347.41,154.42 348.13,154.10 348.66,153.50 C349.19,152.90 349.94,152.18 350.36,151.00 C350.78,149.82 351.23,150.20 351.16,146.40 C351.09,142.60 350.54,135.02 349.96,128.20 C349.38,121.38 348.46,113.08 347.66,105.50 C346.86,97.92 345.81,88.62 345.16,82.70 C344.51,76.78 344.08,75.75 343.76,70.00 C343.44,64.25 343.34,51.83 343.26,48.20 Z" fill="#fff" fill-opacity="0.25" stroke="#000" stroke-width="0.85" stroke-linejoin="round"/>
<path d="M371.70,124.20 C371.52,125.28 371.63,128.70 370.60,130.70 C369.57,132.70 366.77,134.37 365.50,136.20 C364.23,138.03 363.20,139.87 363.00,141.70 C362.80,143.53 363.37,145.67 364.30,147.20 C365.23,148.73 367.88,150.28 368.60,150.90 L389.00,150.90 C389.72,150.28 392.37,148.73 393.30,147.20 C394.23,145.67 394.80,143.53 394.60,141.70 C394.40,139.87 393.37,138.03 392.10,136.20 C390.83,134.37 388.03,132.70 387.00,130.70 C385.97,128.70 386.08,125.28 385.90,124.20 Z" fill="#fff" fill-opacity="0.25" stroke="#000" stroke-width="0.85" stroke-linejoin="round"/>
<path d="M408.44,112.40 C408.22,113.53 407.87,116.23 407.14,119.20 C406.41,122.17 404.61,127.13 404.04,130.20 C403.47,133.27 403.44,135.45 403.74,137.60 C404.04,139.75 405.17,141.52 405.84,143.10 C406.51,144.68 407.42,146.43 407.74,147.10 L421.14,147.10 C421.46,146.43 422.37,144.68 423.04,143.10 C423.71,141.52 424.84,139.75 425.14,137.60 C425.44,135.45 425.41,133.27 424.84,130.20 C424.27,127.13 422.47,122.17 421.74,119.20 C421.01,116.23 420.66,113.53 420.44,112.40 Z" fill="#fff" fill-opacity="0.25" stroke="#000" stroke-width="0.85" stroke-linejoin="round"/>
<path d="M448.08,80.50 C447.65,81.42 446.51,82.93 445.48,86.00 C444.45,89.07 442.50,94.60 441.88,98.90 C441.26,103.20 441.33,107.20 441.78,111.80 C442.23,116.40 443.58,122.20 444.58,126.50 C445.58,130.80 447.16,134.90 447.78,137.60 C448.40,140.30 448.20,141.85 448.28,142.70 L451.88,142.70 C451.96,141.85 451.76,140.30 452.38,137.60 C453.00,134.90 454.58,130.80 455.58,126.50 C456.58,122.20 457.93,116.40 458.38,111.80 C458.83,107.20 458.90,103.20 458.28,98.90 C457.66,94.60 455.71,89.07 454.68,86.00 C453.65,82.93 452.51,81.42 452.08,80.50 Z" fill="#fff" fill-opacity="0.25" stroke="#000" stroke-width="0.85" stroke-linejoin="round"/>
<path d="M484.47,84.60 C484.43,86.07 484.70,90.40 484.22,93.40 C483.75,96.40 482.45,98.92 481.62,102.60 C480.79,106.28 479.72,110.90 479.22,115.50 C478.72,120.10 478.54,125.30 478.62,130.20 C478.70,135.10 479.35,141.07 479.72,144.90 C480.09,148.73 480.64,151.82 480.82,153.20 L490.62,153.20 C490.80,151.82 491.35,148.73 491.72,144.90 C492.09,141.07 492.74,135.10 492.82,130.20 C492.90,125.30 492.72,120.10 492.22,115.50 C491.72,110.90 490.65,106.28 489.82,102.60 C488.99,98.92 487.70,96.40 487.22,93.40 C486.75,90.40 487.01,86.07 486.97,84.60 Z" fill="#fff" fill-opacity="0.25" stroke="#000" stroke-width="0.85" stroke-linejoin="round"/>
<path d="M521.26,58.90 C521.13,62.50 520.69,74.75 520.46,80.50 C520.23,86.25 520.21,89.42 519.86,93.40 C519.51,97.38 519.13,100.72 518.36,104.40 C517.59,108.08 515.91,112.43 515.26,115.50 C514.61,118.57 514.72,119.43 514.46,122.80 C514.20,126.17 513.84,131.40 513.71,135.70 C513.59,140.00 513.35,145.47 513.71,148.60 C514.07,151.73 515.50,153.52 515.86,154.50 L526.86,154.50 C527.22,153.52 528.65,151.73 529.01,148.60 C529.37,145.47 529.13,140.00 529.01,135.70 C528.88,131.40 528.52,126.17 528.26,122.80 C528.00,119.43 528.11,118.57 527.46,115.50 C526.81,112.43 525.13,108.08 524.36,104.40 C523.59,100.72 523.21,97.38 522.86,93.40 C522.51,89.42 522.49,86.25 522.26,80.50 C522.03,74.75 521.59,62.50 521.46,58.90 Z" fill="#fff" fill-opacity="0.25" stroke="#000" stroke-width="0.85" stroke-linejoin="round"/>
<path d="M556.90,54.30 C556.72,55.92 556.27,59.55 555.80,64.00 C555.32,68.45 554.68,76.10 554.05,81.00 C553.42,85.90 552.73,88.88 552.00,93.40 C551.27,97.92 550.32,104.12 549.70,108.10 C549.08,112.08 548.12,114.23 548.30,117.30 C548.48,120.37 549.82,122.82 550.80,126.50 C551.78,130.18 553.39,135.72 554.20,139.40 C555.01,143.08 555.41,146.15 555.65,148.60 C555.89,151.05 555.65,153.18 555.65,154.10 L558.35,154.10 C558.35,153.18 558.11,151.05 558.35,148.60 C558.59,146.15 558.99,143.08 559.80,139.40 C560.61,135.72 562.22,130.18 563.20,126.50 C564.18,122.82 565.52,120.37 565.70,117.30 C565.88,114.23 564.92,112.08 564.30,108.10 C563.68,104.12 562.73,97.92 562.00,93.40 C561.27,88.88 560.58,85.90 559.95,81.00 C559.32,76.10 558.68,68.45 558.20,64.00 C557.73,59.55 557.28,55.92 557.10,54.30 Z" fill="#fff" fill-opacity="0.25" stroke="#000" stroke-width="0.85" stroke-linejoin="round"/>
<path d="M590.99,44.20 C590.77,46.83 590.08,54.87 589.64,60.00 C589.20,65.13 588.59,70.67 588.34,75.00 C588.09,79.33 587.94,82.32 588.14,86.00 C588.34,89.68 589.12,93.42 589.54,97.10 C589.96,100.78 590.58,102.58 590.64,108.10 C590.70,113.62 590.09,124.07 589.89,130.20 C589.69,136.33 589.39,141.22 589.44,144.90 C589.49,148.58 590.07,151.07 590.19,152.30 L595.09,152.30 C595.22,151.07 595.79,148.58 595.84,144.90 C595.89,141.22 595.59,136.33 595.39,130.20 C595.19,124.07 594.58,113.62 594.64,108.10 C594.70,102.58 595.32,100.78 595.74,97.10 C596.16,93.42 596.94,89.68 597.14,86.00 C597.34,82.32 597.19,79.33 596.94,75.00 C596.69,70.67 596.08,65.13 595.64,60.00 C595.20,54.87 594.52,46.83 594.29,44.20 Z" fill="#fff" fill-opacity="0.25" stroke="#000" stroke-width="0.85" stroke-linejoin="round"/>
<path d="M625.53,90.60 C625.30,92.60 624.66,98.15 624.13,102.60 C623.60,107.05 622.90,112.70 622.33,117.30 C621.76,121.90 620.76,126.22 620.73,130.20 C620.70,134.18 621.38,138.13 622.13,141.20 C622.88,144.27 624.59,146.75 625.23,148.60 C625.87,150.45 625.86,151.68 625.98,152.30 L630.58,152.30 C630.70,151.68 630.69,150.45 631.33,148.60 C631.97,146.75 633.68,144.27 634.43,141.20 C635.18,138.13 635.86,134.18 635.83,130.20 C635.80,126.22 634.80,121.90 634.23,117.30 C633.66,112.70 632.96,107.05 632.43,102.60 C631.90,98.15 631.26,92.60 631.03,90.60 Z" fill="#fff" fill-opacity="0.25" stroke="#000" stroke-width="0.85" stroke-linejoin="round"/>
<path d="M662.72,75.40 C662.70,78.40 662.94,87.95 662.57,93.40 C662.20,98.85 661.29,103.20 660.52,108.10 C659.75,113.00 658.68,118.50 657.97,122.80 C657.26,127.10 656.35,130.22 656.27,133.90 C656.20,137.58 656.98,141.68 657.52,144.90 C658.06,148.12 659.19,151.82 659.52,153.20 L668.32,153.20 C668.65,151.82 669.78,148.12 670.32,144.90 C670.86,141.68 671.64,137.58 671.57,133.90 C671.50,130.22 670.58,127.10 669.87,122.80 C669.16,118.50 668.09,113.00 667.32,108.10 C666.55,103.20 665.64,98.85 665.27,93.40 C664.90,87.95 665.15,78.40 665.12,75.40 Z" fill="#fff" fill-opacity="0.25" stroke="#000" stroke-width="0.85" stroke-linejoin="round"/>
<line x1="93.60" y1="114.70" x2="93.60" y2="127.50" stroke="#222" stroke-width="0.85"/>
<circle cx="93.60" cy="121.10" r="2.7" fill="#000"/>
<line x1="129.30" y1="87.10" x2="129.30" y2="92.10" stroke="#222" stroke-width="0.85"/>
<circle cx="129.30" cy="89.60" r="2.7" fill="#000"/>
<line x1="164.80" y1="119.80" x2="164.80" y2="129.40" stroke="#222" stroke-width="0.85"/>
<circle cx="164.80" cy="124.60" r="2.7" fill="#000"/>
<line x1="200.40" y1="108.40" x2="200.40" y2="111.40" stroke="#222" stroke-width="0.85"/>
<circle cx="200.40" cy="109.90" r="2.7" fill="#000"/>
<line x1="235.90" y1="82.40" x2="235.90" y2="103.60" stroke="#222" stroke-width="0.85"/>
<circle cx="235.90" cy="93.00" r="2.7" fill="#000"/>
<line x1="271.60" y1="84.80" x2="271.60" y2="108.40" stroke="#222" stroke-width="0.85"/>
<circle cx="271.60" cy="96.60" r="2.7" fill="#000"/>
<line x1="307.40" y1="92.30" x2="307.40" y2="103.90" stroke="#222" stroke-width="0.85"/>
<circle cx="307.40" cy="98.10" r="2.7" fill="#000"/>
<line x1="342.70" y1="125.80" x2="342.70" y2="128.20" stroke="#222" stroke-width="0.85"/>
<circle cx="342.70" cy="127.00" r="2.7" fill="#000"/>
<line x1="378.60" y1="138.70" x2="378.60" y2="141.70" stroke="#222" stroke-width="0.85"/>
<circle cx="378.60" cy="140.20" r="2.7" fill="#000"/>
<line x1="414.00" y1="125.60" x2="414.00" y2="135.60" stroke="#222" stroke-width="0.85"/>
<circle cx="414.00" cy="130.60" r="2.7" fill="#000"/>
<line x1="449.70" y1="106.50" x2="449.70" y2="111.50" stroke="#222" stroke-width="0.85"/>
<circle cx="449.70" cy="109.00" r="2.7" fill="#000"/>
<line x1="485.60" y1="119.90" x2="485.60" y2="130.10" stroke="#222" stroke-width="0.85"/>
<circle cx="485.60" cy="125.00" r="2.7" fill="#000"/>
<line x1="521.00" y1="128.00" x2="521.00" y2="131.00" stroke="#222" stroke-width="0.85"/>
<circle cx="521.00" cy="129.50" r="2.7" fill="#000"/>
<line x1="556.60" y1="110.90" x2="556.60" y2="114.50" stroke="#222" stroke-width="0.85"/>
<circle cx="556.60" cy="112.70" r="2.7" fill="#000"/>
<line x1="592.20" y1="93.30" x2="592.20" y2="108.90" stroke="#222" stroke-width="0.85"/>
<circle cx="592.20" cy="101.10" r="2.7" fill="#000"/>
<line x1="628.00" y1="119.00" x2="628.00" y2="131.00" stroke="#222" stroke-width="0.85"/>
<circle cx="628.00" cy="125.00" r="2.7" fill="#000"/>
<line x1="663.50" y1="123.60" x2="663.50" y2="135.60" stroke="#222" stroke-width="0.85"/>
<circle cx="663.50" cy="129.60" r="2.7" fill="#000"/>
<line x1="325.34" y1="0.50" x2="325.34" y2="162.50" stroke="#000" stroke-width="1.8"/>
<rect x="72.50" y="0.50" width="612.00" height="162.00" fill="none" stroke="#9a9a9a" stroke-width="1"/>
<line x1="111.50" y1="176.50" x2="111.50" y2="372.50" stroke="#dedede" stroke-width="0.9"/>
<line x1="147.14" y1="176.50" x2="147.14" y2="372.50" stroke="#dedede" stroke-width="0.9"/>
<line x1="182.78" y1="176.50" x2="182.78" y2="372.50" stroke="#dedede" stroke-width="0.9"/>
<line x1="218.42" y1="176.50" x2="218.42" y2="372.50" stroke="#dedede" stroke-width="0.9"/>
<line x1="254.06" y1="176.50" x2="254.06" y2="372.50" stroke="#dedede" stroke-width="0.9"/>
<line x1="289.70" y1="176.50" x2="289.70" y2="372.50" stroke="#dedede" stroke-width="0.9"/>
<line x1="360.98" y1="176.50" x2="360.98" y2="372.50" stroke="#dedede" stroke-width="0.9"/>
<line x1="396.62" y1="176.50" x2="396.62" y2="372.50" stroke="#dedede" stroke-width="0.9"/>
<line x1="432.26" y1="176.50" x2="432.26" y2="372.50" stroke="#dedede" stroke-width="0.9"/>
<line x1="467.90" y1="176.50" x2="467.90" y2="372.50" stroke="#dedede" stroke-width="0.9"/>
<line x1="503.54" y1="176.50" x2="503.54" y2="372.50" stroke="#dedede" stroke-width="0.9"/>
<line x1="539.18" y1="176.50" x2="539.18" y2="372.50" stroke="#dedede" stroke-width="0.9"/>
<line x1="574.82" y1="176.50" x2="574.82" y2="372.50" stroke="#dedede" stroke-width="0.9"/>
<line x1="610.46" y1="176.50" x2="610.46" y2="372.50" stroke="#dedede" stroke-width="0.9"/>
<line x1="646.10" y1="176.50" x2="646.10" y2="372.50" stroke="#dedede" stroke-width="0.9"/>
<line x1="681.74" y1="176.50" x2="681.74" y2="372.50" stroke="#dedede" stroke-width="0.9"/>
<circle cx="105.9" cy="284.4" r="1.9" fill="#440154" fill-opacity="0.25"/>
<circle cx="107.2" cy="300.1" r="1.9" fill="#440154" fill-opacity="0.25"/>
<circle cx="107.8" cy="303.2" r="1.9" fill="#440154" fill-opacity="0.25"/>
<circle cx="88.2" cy="303.8" r="1.9" fill="#440154" fill-opacity="0.25"/>
<circle cx="105.4" cy="309.8" r="1.9" fill="#440154" fill-opacity="0.25"/>
<circle cx="86.0" cy="322.2" r="1.9" fill="#440154" fill-opacity="0.25"/>
<circle cx="80.2" cy="327.7" r="1.9" fill="#440154" fill-opacity="0.25"/>
<circle cx="84.6" cy="327.7" r="1.9" fill="#440154" fill-opacity="0.25"/>
<circle cx="104.4" cy="319.0" r="1.9" fill="#440154" fill-opacity="0.25"/>
<circle cx="104.8" cy="324.9" r="1.9" fill="#440154" fill-opacity="0.25"/>
<circle cx="100.4" cy="320.3" r="1.9" fill="#440154" fill-opacity="0.25"/>
<circle cx="94.3" cy="328.6" r="1.9" fill="#440154" fill-opacity="0.25"/>
<circle cx="90.0" cy="318.0" r="1.9" fill="#440154" fill-opacity="0.25"/>
<circle cx="97.0" cy="326.0" r="1.9" fill="#440154" fill-opacity="0.25"/>
<circle cx="122.0" cy="288.0" r="1.9" fill="#481467" fill-opacity="0.25"/>
<circle cx="123.8" cy="271.1" r="1.9" fill="#481467" fill-opacity="0.25"/>
<circle cx="127.0" cy="279.9" r="1.9" fill="#481467" fill-opacity="0.25"/>
<circle cx="137.1" cy="300.3" r="1.9" fill="#481467" fill-opacity="0.25"/>
<circle cx="117.9" cy="286.5" r="1.9" fill="#481467" fill-opacity="0.25"/>
<circle cx="126.2" cy="306.5" r="1.9" fill="#481467" fill-opacity="0.25"/>
<circle cx="125.7" cy="287.9" r="1.9" fill="#481467" fill-opacity="0.25"/>
<circle cx="124.4" cy="284.1" r="1.9" fill="#481467" fill-opacity="0.25"/>
<circle cx="137.2" cy="289.1" r="1.9" fill="#481467" fill-opacity="0.25"/>
<circle cx="125.7" cy="322.9" r="1.9" fill="#481467" fill-opacity="0.25"/>
<circle cx="125.0" cy="298.5" r="1.9" fill="#481467" fill-opacity="0.25"/>
<circle cx="118.9" cy="267.8" r="1.9" fill="#481467" fill-opacity="0.25"/>
<circle cx="133.2" cy="272.3" r="1.9" fill="#481467" fill-opacity="0.25"/>
<circle cx="128.9" cy="312.5" r="1.9" fill="#481467" fill-opacity="0.25"/>
<circle cx="123.8" cy="312.9" r="1.9" fill="#481467" fill-opacity="0.25"/>
<circle cx="140.1" cy="291.0" r="1.9" fill="#481467" fill-opacity="0.25"/>
<circle cx="125.7" cy="268.2" r="1.9" fill="#481467" fill-opacity="0.25"/>
<circle cx="132.8" cy="329.0" r="1.9" fill="#481467" fill-opacity="0.25"/>
<circle cx="132.2" cy="271.6" r="1.9" fill="#481467" fill-opacity="0.25"/>
<circle cx="135.9" cy="287.0" r="1.9" fill="#481467" fill-opacity="0.25"/>
<circle cx="138.0" cy="282.2" r="1.9" fill="#481467" fill-opacity="0.25"/>
<circle cx="118.9" cy="276.0" r="1.9" fill="#481467" fill-opacity="0.25"/>
<circle cx="120.2" cy="286.9" r="1.9" fill="#481467" fill-opacity="0.25"/>
<circle cx="135.8" cy="288.6" r="1.9" fill="#481467" fill-opacity="0.25"/>
<circle cx="141.8" cy="286.2" r="1.9" fill="#481467" fill-opacity="0.25"/>
<circle cx="118.6" cy="285.3" r="1.9" fill="#481467" fill-opacity="0.25"/>
<circle cx="118.4" cy="274.9" r="1.9" fill="#481467" fill-opacity="0.25"/>
<circle cx="116.4" cy="311.4" r="1.9" fill="#481467" fill-opacity="0.25"/>
<circle cx="116.4" cy="291.2" r="1.9" fill="#481467" fill-opacity="0.25"/>
<circle cx="138.2" cy="284.8" r="1.9" fill="#481467" fill-opacity="0.25"/>
<circle cx="126.6" cy="318.6" r="1.9" fill="#481467" fill-opacity="0.25"/>
<circle cx="115.9" cy="320.4" r="1.9" fill="#481467" fill-opacity="0.25"/>
<circle cx="129.8" cy="287.5" r="1.9" fill="#481467" fill-opacity="0.25"/>
<circle cx="139.2" cy="284.9" r="1.9" fill="#481467" fill-opacity="0.25"/>
<circle cx="116.6" cy="278.6" r="1.9" fill="#481467" fill-opacity="0.25"/>
<circle cx="116.6" cy="279.0" r="1.9" fill="#481467" fill-opacity="0.25"/>
<circle cx="134.4" cy="282.4" r="1.9" fill="#481467" fill-opacity="0.25"/>
<circle cx="117.0" cy="287.4" r="1.9" fill="#481467" fill-opacity="0.25"/>
<circle cx="130.3" cy="295.2" r="1.9" fill="#481467" fill-opacity="0.25"/>
<circle cx="127.1" cy="275.6" r="1.9" fill="#481467" fill-opacity="0.25"/>
<circle cx="121.4" cy="297.7" r="1.9" fill="#481467" fill-opacity="0.25"/>
<circle cx="142.0" cy="288.0" r="1.9" fill="#481467" fill-opacity="0.25"/>
<circle cx="134.3" cy="323.0" r="1.9" fill="#481467" fill-opacity="0.25"/>
<circle cx="134.5" cy="301.6" r="1.9" fill="#481467" fill-opacity="0.25"/>
<circle cx="136.1" cy="293.6" r="1.9" fill="#481467" fill-opacity="0.25"/>
<circle cx="133.9" cy="267.4" r="1.9" fill="#481467" fill-opacity="0.25"/>
<circle cx="121.9" cy="278.0" r="1.9" fill="#481467" fill-opacity="0.25"/>
<circle cx="131.8" cy="303.3" r="1.9" fill="#481467" fill-opacity="0.25"/>
<circle cx="135.8" cy="301.5" r="1.9" fill="#481467" fill-opacity="0.25"/>
<circle cx="118.3" cy="282.0" r="1.9" fill="#481467" fill-opacity="0.25"/>
<circle cx="117.6" cy="329.8" r="1.9" fill="#481467" fill-opacity="0.25"/>
<circle cx="134.5" cy="274.7" r="1.9" fill="#481467" fill-opacity="0.25"/>
<circle cx="141.4" cy="280.6" r="1.9" fill="#481467" fill-opacity="0.25"/>
<circle cx="120.3" cy="298.9" r="1.9" fill="#481467" fill-opacity="0.25"/>
<circle cx="136.5" cy="328.8" r="1.9" fill="#481467" fill-opacity="0.25"/>
<circle cx="128.9" cy="276.1" r="1.9" fill="#481467" fill-opacity="0.25"/>
<circle cx="119.4" cy="327.0" r="1.9" fill="#481467" fill-opacity="0.25"/>
<circle cx="125.9" cy="325.6" r="1.9" fill="#481467" fill-opacity="0.25"/>
<circle cx="137.7" cy="328.6" r="1.9" fill="#481467" fill-opacity="0.25"/>
<circle cx="131.5" cy="319.6" r="1.9" fill="#481467" fill-opacity="0.25"/>
<circle cx="141.2" cy="315.6" r="1.9" fill="#481467" fill-opacity="0.25"/>
<circle cx="126.4" cy="267.8" r="1.9" fill="#481467" fill-opacity="0.25"/>
<circle cx="137.7" cy="285.1" r="1.9" fill="#481467" fill-opacity="0.25"/>
<circle cx="121.0" cy="273.5" r="1.9" fill="#481467" fill-opacity="0.25"/>
<circle cx="138.9" cy="325.2" r="1.9" fill="#481467" fill-opacity="0.25"/>
<circle cx="139.6" cy="309.0" r="1.9" fill="#481467" fill-opacity="0.25"/>
<circle cx="131.2" cy="280.6" r="1.9" fill="#481467" fill-opacity="0.25"/>
<circle cx="128.8" cy="278.6" r="1.9" fill="#481467" fill-opacity="0.25"/>
<circle cx="115.9" cy="271.3" r="1.9" fill="#481467" fill-opacity="0.25"/>
<circle cx="117.2" cy="305.0" r="1.9" fill="#481467" fill-opacity="0.25"/>
<circle cx="130.3" cy="287.0" r="1.9" fill="#481467" fill-opacity="0.25"/>
<circle cx="127.5" cy="275.5" r="1.9" fill="#481467" fill-opacity="0.25"/>
<circle cx="124.6" cy="328.8" r="1.9" fill="#481467" fill-opacity="0.25"/>
<circle cx="120.2" cy="281.3" r="1.9" fill="#481467" fill-opacity="0.25"/>
<circle cx="115.8" cy="289.9" r="1.9" fill="#481467" fill-opacity="0.25"/>
<circle cx="141.1" cy="270.0" r="1.9" fill="#481467" fill-opacity="0.25"/>
<circle cx="138.8" cy="286.1" r="1.9" fill="#481467" fill-opacity="0.25"/>
<circle cx="124.5" cy="281.4" r="1.9" fill="#481467" fill-opacity="0.25"/>
<circle cx="123.5" cy="317.5" r="1.9" fill="#481467" fill-opacity="0.25"/>
<circle cx="121.6" cy="284.2" r="1.9" fill="#481467" fill-opacity="0.25"/>
<circle cx="130.2" cy="286.2" r="1.9" fill="#481467" fill-opacity="0.25"/>
<circle cx="135.5" cy="293.4" r="1.9" fill="#481467" fill-opacity="0.25"/>
<circle cx="127.7" cy="272.0" r="1.9" fill="#481467" fill-opacity="0.25"/>
<circle cx="116.7" cy="276.2" r="1.9" fill="#481467" fill-opacity="0.25"/>
<circle cx="129.1" cy="308.5" r="1.9" fill="#481467" fill-opacity="0.25"/>
<circle cx="140.2" cy="300.5" r="1.9" fill="#481467" fill-opacity="0.25"/>
<circle cx="125.9" cy="283.9" r="1.9" fill="#481467" fill-opacity="0.25"/>
<circle cx="133.5" cy="301.0" r="1.9" fill="#481467" fill-opacity="0.25"/>
<circle cx="135.1" cy="272.1" r="1.9" fill="#481467" fill-opacity="0.25"/>
<circle cx="130.1" cy="276.0" r="1.9" fill="#481467" fill-opacity="0.25"/>
<circle cx="133.1" cy="318.3" r="1.9" fill="#481467" fill-opacity="0.25"/>
<circle cx="134.6" cy="274.6" r="1.9" fill="#481467" fill-opacity="0.25"/>
<circle cx="139.9" cy="271.5" r="1.9" fill="#481467" fill-opacity="0.25"/>
<circle cx="136.0" cy="309.9" r="1.9" fill="#481467" fill-opacity="0.25"/>
<circle cx="137.1" cy="286.6" r="1.9" fill="#481467" fill-opacity="0.25"/>
<circle cx="142.7" cy="284.2" r="1.9" fill="#481467" fill-opacity="0.25"/>
<circle cx="169.8" cy="283.5" r="1.9" fill="#482677" fill-opacity="0.25"/>
<circle cx="176.2" cy="298.8" r="1.9" fill="#482677" fill-opacity="0.25"/>
<circle cx="150.8" cy="303.2" r="1.9" fill="#482677" fill-opacity="0.25"/>
<circle cx="155.0" cy="307.4" r="1.9" fill="#482677" fill-opacity="0.25"/>
<circle cx="158.7" cy="307.4" r="1.9" fill="#482677" fill-opacity="0.25"/>
<circle cx="150.8" cy="311.1" r="1.9" fill="#482677" fill-opacity="0.25"/>
<circle cx="153.2" cy="321.2" r="1.9" fill="#482677" fill-opacity="0.25"/>
<circle cx="169.8" cy="311.1" r="1.9" fill="#482677" fill-opacity="0.25"/>
<circle cx="154.1" cy="326.8" r="1.9" fill="#482677" fill-opacity="0.25"/>
<circle cx="161.5" cy="325.8" r="1.9" fill="#482677" fill-opacity="0.25"/>
<circle cx="172.5" cy="327.1" r="1.9" fill="#482677" fill-opacity="0.25"/>
<circle cx="175.3" cy="328.6" r="1.9" fill="#482677" fill-opacity="0.25"/>
<circle cx="177.5" cy="327.0" r="1.9" fill="#482677" fill-opacity="0.25"/>
<circle cx="160.0" cy="318.0" r="1.9" fill="#482677" fill-opacity="0.25"/>
<circle cx="166.0" cy="322.0" r="1.9" fill="#482677" fill-opacity="0.25"/>
<circle cx="157.0" cy="329.0" r="1.9" fill="#482677" fill-opacity="0.25"/>
<circle cx="170.0" cy="329.0" r="1.9" fill="#482677" fill-opacity="0.25"/>
<circle cx="163.0" cy="312.0" r="1.9" fill="#482677" fill-opacity="0.25"/>
<circle cx="151.0" cy="328.0" r="1.9" fill="#482677" fill-opacity="0.25"/>
<circle cx="167.0" cy="300.0" r="1.9" fill="#482677" fill-opacity="0.25"/>
<circle cx="174.0" cy="316.0" r="1.9" fill="#482677" fill-opacity="0.25"/>
<circle cx="159.0" cy="300.0" r="1.9" fill="#482677" fill-opacity="0.25"/>
<circle cx="156.0" cy="317.0" r="1.9" fill="#482677" fill-opacity="0.25"/>
<circle cx="165.0" cy="328.0" r="1.9" fill="#482677" fill-opacity="0.25"/>
<circle cx="172.0" cy="320.0" r="1.9" fill="#482677" fill-opacity="0.25"/>
<circle cx="210.5" cy="234.6" r="1.9" fill="#453781" fill-opacity="0.25"/>
<circle cx="214.8" cy="236.4" r="1.9" fill="#453781" fill-opacity="0.25"/>
<circle cx="200.8" cy="249.3" r="1.9" fill="#453781" fill-opacity="0.25"/>
<circle cx="192.7" cy="268.3" r="1.9" fill="#453781" fill-opacity="0.25"/>
<circle cx="197.6" cy="271.4" r="1.9" fill="#453781" fill-opacity="0.25"/>
<circle cx="211.8" cy="272.7" r="1.9" fill="#453781" fill-opacity="0.25"/>
<circle cx="191.4" cy="304.5" r="1.9" fill="#453781" fill-opacity="0.25"/>
<circle cx="199.0" cy="294.5" r="1.9" fill="#453781" fill-opacity="0.25"/>
<circle cx="205.1" cy="321.2" r="1.9" fill="#453781" fill-opacity="0.25"/>
<circle cx="213.2" cy="309.9" r="1.9" fill="#453781" fill-opacity="0.25"/>
<circle cx="188.5" cy="306.4" r="1.9" fill="#453781" fill-opacity="0.25"/>
<circle cx="202.4" cy="298.9" r="1.9" fill="#453781" fill-opacity="0.25"/>
<circle cx="206.0" cy="328.1" r="1.9" fill="#453781" fill-opacity="0.25"/>
<circle cx="194.5" cy="317.0" r="1.9" fill="#453781" fill-opacity="0.25"/>
<circle cx="206.6" cy="292.5" r="1.9" fill="#453781" fill-opacity="0.25"/>
<circle cx="196.4" cy="314.6" r="1.9" fill="#453781" fill-opacity="0.25"/>
<circle cx="191.7" cy="294.9" r="1.9" fill="#453781" fill-opacity="0.25"/>
<circle cx="189.3" cy="280.0" r="1.9" fill="#453781" fill-opacity="0.25"/>
<circle cx="209.7" cy="272.0" r="1.9" fill="#453781" fill-opacity="0.25"/>
<circle cx="194.1" cy="314.9" r="1.9" fill="#453781" fill-opacity="0.25"/>
<circle cx="205.1" cy="283.5" r="1.9" fill="#453781" fill-opacity="0.25"/>
<circle cx="200.0" cy="308.6" r="1.9" fill="#453781" fill-opacity="0.25"/>
<circle cx="191.4" cy="318.4" r="1.9" fill="#453781" fill-opacity="0.25"/>
<circle cx="208.2" cy="325.9" r="1.9" fill="#453781" fill-opacity="0.25"/>
<circle cx="187.1" cy="307.4" r="1.9" fill="#453781" fill-opacity="0.25"/>
<circle cx="201.6" cy="325.0" r="1.9" fill="#453781" fill-opacity="0.25"/>
<circle cx="210.4" cy="310.8" r="1.9" fill="#453781" fill-opacity="0.25"/>
<circle cx="197.8" cy="269.6" r="1.9" fill="#453781" fill-opacity="0.25"/>
<circle cx="200.6" cy="313.1" r="1.9" fill="#453781" fill-opacity="0.25"/>
<circle cx="194.8" cy="322.7" r="1.9" fill="#453781" fill-opacity="0.25"/>
<circle cx="196.1" cy="317.2" r="1.9" fill="#453781" fill-opacity="0.25"/>
<circle cx="212.3" cy="324.6" r="1.9" fill="#453781" fill-opacity="0.25"/>
<circle cx="195.8" cy="317.3" r="1.9" fill="#453781" fill-opacity="0.25"/>
<circle cx="207.7" cy="299.3" r="1.9" fill="#453781" fill-opacity="0.25"/>
<circle cx="195.3" cy="307.9" r="1.9" fill="#453781" fill-opacity="0.25"/>
<circle cx="204.5" cy="329.4" r="1.9" fill="#453781" fill-opacity="0.25"/>
<circle cx="202.5" cy="312.9" r="1.9" fill="#453781" fill-opacity="0.25"/>
<circle cx="210.6" cy="321.7" r="1.9" fill="#453781" fill-opacity="0.25"/>
<circle cx="213.7" cy="322.9" r="1.9" fill="#453781" fill-opacity="0.25"/>
<circle cx="199.8" cy="279.8" r="1.9" fill="#453781" fill-opacity="0.25"/>
<circle cx="198.7" cy="326.3" r="1.9" fill="#453781" fill-opacity="0.25"/>
<circle cx="196.5" cy="306.7" r="1.9" fill="#453781" fill-opacity="0.25"/>
<circle cx="193.5" cy="321.2" r="1.9" fill="#453781" fill-opacity="0.25"/>
<circle cx="207.2" cy="268.9" r="1.9" fill="#453781" fill-opacity="0.25"/>
<circle cx="187.7" cy="317.7" r="1.9" fill="#453781" fill-opacity="0.25"/>
<circle cx="206.4" cy="327.7" r="1.9" fill="#453781" fill-opacity="0.25"/>
<circle cx="200.3" cy="316.5" r="1.9" fill="#453781" fill-opacity="0.25"/>
<circle cx="200.2" cy="287.8" r="1.9" fill="#453781" fill-opacity="0.25"/>
<circle cx="207.0" cy="327.9" r="1.9" fill="#453781" fill-opacity="0.25"/>
<circle cx="209.7" cy="325.2" r="1.9" fill="#453781" fill-opacity="0.25"/>
<circle cx="210.7" cy="304.2" r="1.9" fill="#453781" fill-opacity="0.25"/>
<circle cx="213.0" cy="319.5" r="1.9" fill="#453781" fill-opacity="0.25"/>
<circle cx="192.5" cy="302.7" r="1.9" fill="#453781" fill-opacity="0.25"/>
<circle cx="207.0" cy="285.5" r="1.9" fill="#453781" fill-opacity="0.25"/>
<circle cx="188.1" cy="280.2" r="1.9" fill="#453781" fill-opacity="0.25"/>
<circle cx="209.8" cy="310.8" r="1.9" fill="#453781" fill-opacity="0.25"/>
<circle cx="210.1" cy="315.6" r="1.9" fill="#453781" fill-opacity="0.25"/>
<circle cx="207.5" cy="328.3" r="1.9" fill="#453781" fill-opacity="0.25"/>
<circle cx="190.3" cy="323.5" r="1.9" fill="#453781" fill-opacity="0.25"/>
<circle cx="195.6" cy="297.4" r="1.9" fill="#453781" fill-opacity="0.25"/>
<circle cx="212.8" cy="327.6" r="1.9" fill="#453781" fill-opacity="0.25"/>
<circle cx="196.7" cy="311.1" r="1.9" fill="#453781" fill-opacity="0.25"/>
<circle cx="195.0" cy="308.5" r="1.9" fill="#453781" fill-opacity="0.25"/>
<circle cx="205.6" cy="317.1" r="1.9" fill="#453781" fill-opacity="0.25"/>
<circle cx="188.7" cy="296.4" r="1.9" fill="#453781" fill-opacity="0.25"/>
<circle cx="193.3" cy="306.3" r="1.9" fill="#453781" fill-opacity="0.25"/>
<circle cx="204.0" cy="281.0" r="1.9" fill="#453781" fill-opacity="0.25"/>
<circle cx="209.9" cy="315.7" r="1.9" fill="#453781" fill-opacity="0.25"/>
<circle cx="196.1" cy="319.5" r="1.9" fill="#453781" fill-opacity="0.25"/>
<circle cx="210.4" cy="312.9" r="1.9" fill="#453781" fill-opacity="0.25"/>
<circle cx="190.4" cy="303.1" r="1.9" fill="#453781" fill-opacity="0.25"/>
<circle cx="210.7" cy="328.5" r="1.9" fill="#453781" fill-opacity="0.25"/>
<circle cx="198.8" cy="304.0" r="1.9" fill="#453781" fill-opacity="0.25"/>
<circle cx="188.4" cy="322.7" r="1.9" fill="#453781" fill-opacity="0.25"/>
<circle cx="201.3" cy="328.1" r="1.9" fill="#453781" fill-opacity="0.25"/>
<circle cx="205.4" cy="328.3" r="1.9" fill="#453781" fill-opacity="0.25"/>
<circle cx="199.5" cy="269.5" r="1.9" fill="#453781" fill-opacity="0.25"/>
<circle cx="192.3" cy="298.9" r="1.9" fill="#453781" fill-opacity="0.25"/>
<circle cx="205.7" cy="314.4" r="1.9" fill="#453781" fill-opacity="0.25"/>
<circle cx="197.0" cy="312.9" r="1.9" fill="#453781" fill-opacity="0.25"/>
<circle cx="189.8" cy="318.5" r="1.9" fill="#453781" fill-opacity="0.25"/>
<circle cx="209.7" cy="292.7" r="1.9" fill="#453781" fill-opacity="0.25"/>
<circle cx="200.3" cy="305.2" r="1.9" fill="#453781" fill-opacity="0.25"/>
<circle cx="208.4" cy="299.3" r="1.9" fill="#453781" fill-opacity="0.25"/>
<circle cx="193.9" cy="278.2" r="1.9" fill="#453781" fill-opacity="0.25"/>
<circle cx="193.0" cy="292.3" r="1.9" fill="#453781" fill-opacity="0.25"/>
<circle cx="201.7" cy="328.6" r="1.9" fill="#453781" fill-opacity="0.25"/>
<circle cx="188.1" cy="324.6" r="1.9" fill="#453781" fill-opacity="0.25"/>
<circle cx="195.5" cy="312.2" r="1.9" fill="#453781" fill-opacity="0.25"/>
<circle cx="187.4" cy="310.9" r="1.9" fill="#453781" fill-opacity="0.25"/>
<circle cx="187.6" cy="329.7" r="1.9" fill="#453781" fill-opacity="0.25"/>
<circle cx="206.2" cy="291.4" r="1.9" fill="#453781" fill-opacity="0.25"/>
<circle cx="203.1" cy="308.8" r="1.9" fill="#453781" fill-opacity="0.25"/>
<circle cx="213.0" cy="315.4" r="1.9" fill="#453781" fill-opacity="0.25"/>
<circle cx="202.5" cy="327.1" r="1.9" fill="#453781" fill-opacity="0.25"/>
<circle cx="210.9" cy="306.7" r="1.9" fill="#453781" fill-opacity="0.25"/>
<circle cx="193.5" cy="311.8" r="1.9" fill="#453781" fill-opacity="0.25"/>
<circle cx="198.9" cy="326.5" r="1.9" fill="#453781" fill-opacity="0.25"/>
<circle cx="204.7" cy="318.1" r="1.9" fill="#453781" fill-opacity="0.25"/>
<circle cx="198.9" cy="327.8" r="1.9" fill="#453781" fill-opacity="0.25"/>
<circle cx="211.9" cy="322.8" r="1.9" fill="#453781" fill-opacity="0.25"/>
<circle cx="188.8" cy="326.9" r="1.9" fill="#453781" fill-opacity="0.25"/>
<circle cx="211.0" cy="283.7" r="1.9" fill="#453781" fill-opacity="0.25"/>
<circle cx="203.1" cy="321.9" r="1.9" fill="#453781" fill-opacity="0.25"/>
<circle cx="212.3" cy="302.8" r="1.9" fill="#453781" fill-opacity="0.25"/>
<circle cx="199.2" cy="322.0" r="1.9" fill="#453781" fill-opacity="0.25"/>
<circle cx="196.5" cy="325.5" r="1.9" fill="#453781" fill-opacity="0.25"/>
<circle cx="205.2" cy="298.3" r="1.9" fill="#453781" fill-opacity="0.25"/>
<circle cx="209.9" cy="298.7" r="1.9" fill="#453781" fill-opacity="0.25"/>
<circle cx="200.0" cy="293.1" r="1.9" fill="#453781" fill-opacity="0.25"/>
<circle cx="203.9" cy="295.0" r="1.9" fill="#453781" fill-opacity="0.25"/>
<circle cx="187.9" cy="322.3" r="1.9" fill="#453781" fill-opacity="0.25"/>
<circle cx="207.6" cy="285.1" r="1.9" fill="#453781" fill-opacity="0.25"/>
<circle cx="202.9" cy="326.8" r="1.9" fill="#453781" fill-opacity="0.25"/>
<circle cx="206.9" cy="314.4" r="1.9" fill="#453781" fill-opacity="0.25"/>
<circle cx="210.9" cy="318.4" r="1.9" fill="#453781" fill-opacity="0.25"/>
<circle cx="205.9" cy="326.3" r="1.9" fill="#453781" fill-opacity="0.25"/>
<circle cx="202.7" cy="326.3" r="1.9" fill="#453781" fill-opacity="0.25"/>
<circle cx="192.6" cy="268.5" r="1.9" fill="#453781" fill-opacity="0.25"/>
<circle cx="207.1" cy="301.2" r="1.9" fill="#453781" fill-opacity="0.25"/>
<circle cx="199.9" cy="297.2" r="1.9" fill="#453781" fill-opacity="0.25"/>
<circle cx="210.1" cy="309.5" r="1.9" fill="#453781" fill-opacity="0.25"/>
<circle cx="191.1" cy="314.9" r="1.9" fill="#453781" fill-opacity="0.25"/>
<circle cx="190.1" cy="325.4" r="1.9" fill="#453781" fill-opacity="0.25"/>
<circle cx="199.8" cy="286.6" r="1.9" fill="#453781" fill-opacity="0.25"/>
<circle cx="192.6" cy="321.1" r="1.9" fill="#453781" fill-opacity="0.25"/>
<circle cx="209.7" cy="277.4" r="1.9" fill="#453781" fill-opacity="0.25"/>
<circle cx="197.8" cy="326.8" r="1.9" fill="#453781" fill-opacity="0.25"/>
<circle cx="212.8" cy="328.7" r="1.9" fill="#453781" fill-opacity="0.25"/>
<circle cx="191.1" cy="312.7" r="1.9" fill="#453781" fill-opacity="0.25"/>
<circle cx="196.2" cy="324.1" r="1.9" fill="#453781" fill-opacity="0.25"/>
<circle cx="206.0" cy="296.7" r="1.9" fill="#453781" fill-opacity="0.25"/>
<circle cx="204.3" cy="320.8" r="1.9" fill="#453781" fill-opacity="0.25"/>
<circle cx="196.1" cy="313.0" r="1.9" fill="#453781" fill-opacity="0.25"/>
<circle cx="210.3" cy="326.0" r="1.9" fill="#453781" fill-opacity="0.25"/>
<circle cx="211.0" cy="326.3" r="1.9" fill="#453781" fill-opacity="0.25"/>
<circle cx="204.4" cy="298.7" r="1.9" fill="#453781" fill-opacity="0.25"/>
<circle cx="202.1" cy="323.1" r="1.9" fill="#453781" fill-opacity="0.25"/>
<circle cx="203.5" cy="297.1" r="1.9" fill="#453781" fill-opacity="0.25"/>
<circle cx="208.6" cy="319.2" r="1.9" fill="#453781" fill-opacity="0.25"/>
<circle cx="191.7" cy="271.1" r="1.9" fill="#453781" fill-opacity="0.25"/>
<circle cx="188.1" cy="326.5" r="1.9" fill="#453781" fill-opacity="0.25"/>
<circle cx="199.9" cy="269.3" r="1.9" fill="#453781" fill-opacity="0.25"/>
<circle cx="196.4" cy="293.3" r="1.9" fill="#453781" fill-opacity="0.25"/>
<circle cx="198.8" cy="282.2" r="1.9" fill="#453781" fill-opacity="0.25"/>
<circle cx="188.2" cy="302.4" r="1.9" fill="#453781" fill-opacity="0.25"/>
<circle cx="209.0" cy="286.3" r="1.9" fill="#453781" fill-opacity="0.25"/>
<circle cx="203.0" cy="295.4" r="1.9" fill="#453781" fill-opacity="0.25"/>
<circle cx="191.6" cy="315.3" r="1.9" fill="#453781" fill-opacity="0.25"/>
<circle cx="195.8" cy="310.7" r="1.9" fill="#453781" fill-opacity="0.25"/>
<circle cx="198.1" cy="327.0" r="1.9" fill="#453781" fill-opacity="0.25"/>
<circle cx="192.4" cy="317.6" r="1.9" fill="#453781" fill-opacity="0.25"/>
<circle cx="204.7" cy="321.1" r="1.9" fill="#453781" fill-opacity="0.25"/>
<circle cx="193.8" cy="302.3" r="1.9" fill="#453781" fill-opacity="0.25"/>
<circle cx="192.7" cy="266.3" r="1.9" fill="#453781" fill-opacity="0.25"/>
<circle cx="207.1" cy="280.3" r="1.9" fill="#453781" fill-opacity="0.25"/>
<circle cx="208.8" cy="272.7" r="1.9" fill="#453781" fill-opacity="0.25"/>
<circle cx="191.5" cy="324.9" r="1.9" fill="#453781" fill-opacity="0.25"/>
<circle cx="208.3" cy="328.9" r="1.9" fill="#453781" fill-opacity="0.25"/>
<circle cx="205.2" cy="303.7" r="1.9" fill="#453781" fill-opacity="0.25"/>
<circle cx="207.5" cy="301.6" r="1.9" fill="#453781" fill-opacity="0.25"/>
<circle cx="190.0" cy="277.5" r="1.9" fill="#453781" fill-opacity="0.25"/>
<circle cx="188.8" cy="313.6" r="1.9" fill="#453781" fill-opacity="0.25"/>
<circle cx="188.4" cy="304.5" r="1.9" fill="#453781" fill-opacity="0.25"/>
<circle cx="206.2" cy="315.2" r="1.9" fill="#453781" fill-opacity="0.25"/>
<circle cx="213.4" cy="313.8" r="1.9" fill="#453781" fill-opacity="0.25"/>
<circle cx="187.8" cy="303.8" r="1.9" fill="#453781" fill-opacity="0.25"/>
<circle cx="195.1" cy="319.6" r="1.9" fill="#453781" fill-opacity="0.25"/>
<circle cx="209.3" cy="276.9" r="1.9" fill="#453781" fill-opacity="0.25"/>
<circle cx="196.2" cy="328.2" r="1.9" fill="#453781" fill-opacity="0.25"/>
<circle cx="203.0" cy="315.1" r="1.9" fill="#453781" fill-opacity="0.25"/>
<circle cx="188.8" cy="315.0" r="1.9" fill="#453781" fill-opacity="0.25"/>
<circle cx="199.5" cy="300.3" r="1.9" fill="#453781" fill-opacity="0.25"/>
<circle cx="200.6" cy="297.9" r="1.9" fill="#453781" fill-opacity="0.25"/>
<circle cx="195.1" cy="328.9" r="1.9" fill="#453781" fill-opacity="0.25"/>
<circle cx="197.9" cy="297.1" r="1.9" fill="#453781" fill-opacity="0.25"/>
<circle cx="213.8" cy="287.1" r="1.9" fill="#453781" fill-opacity="0.25"/>
<circle cx="205.4" cy="306.1" r="1.9" fill="#453781" fill-opacity="0.25"/>
<circle cx="192.7" cy="323.0" r="1.9" fill="#453781" fill-opacity="0.25"/>
<circle cx="207.4" cy="276.1" r="1.9" fill="#453781" fill-opacity="0.25"/>
<circle cx="195.8" cy="309.1" r="1.9" fill="#453781" fill-opacity="0.25"/>
<circle cx="198.9" cy="280.6" r="1.9" fill="#453781" fill-opacity="0.25"/>
<circle cx="201.4" cy="329.9" r="1.9" fill="#453781" fill-opacity="0.25"/>
<circle cx="203.0" cy="321.7" r="1.9" fill="#453781" fill-opacity="0.25"/>
<circle cx="198.7" cy="284.8" r="1.9" fill="#453781" fill-opacity="0.25"/>
<circle cx="191.0" cy="328.4" r="1.9" fill="#453781" fill-opacity="0.25"/>
<circle cx="196.0" cy="273.3" r="1.9" fill="#453781" fill-opacity="0.25"/>
<circle cx="204.4" cy="288.2" r="1.9" fill="#453781" fill-opacity="0.25"/>
<circle cx="203.5" cy="324.8" r="1.9" fill="#453781" fill-opacity="0.25"/>
<circle cx="203.7" cy="317.0" r="1.9" fill="#453781" fill-opacity="0.25"/>
<circle cx="203.5" cy="329.1" r="1.9" fill="#453781" fill-opacity="0.25"/>
<circle cx="206.2" cy="324.4" r="1.9" fill="#453781" fill-opacity="0.25"/>
<circle cx="193.1" cy="285.0" r="1.9" fill="#453781" fill-opacity="0.25"/>
<circle cx="213.8" cy="295.7" r="1.9" fill="#453781" fill-opacity="0.25"/>
<circle cx="201.8" cy="273.9" r="1.9" fill="#453781" fill-opacity="0.25"/>
<circle cx="209.3" cy="313.7" r="1.9" fill="#453781" fill-opacity="0.25"/>
<circle cx="189.8" cy="298.2" r="1.9" fill="#453781" fill-opacity="0.25"/>
<circle cx="189.3" cy="322.7" r="1.9" fill="#453781" fill-opacity="0.25"/>
<circle cx="188.8" cy="328.9" r="1.9" fill="#453781" fill-opacity="0.25"/>
<circle cx="213.2" cy="266.2" r="1.9" fill="#453781" fill-opacity="0.25"/>
<circle cx="206.2" cy="306.3" r="1.9" fill="#453781" fill-opacity="0.25"/>
<circle cx="187.9" cy="299.8" r="1.9" fill="#453781" fill-opacity="0.25"/>
<circle cx="192.7" cy="312.9" r="1.9" fill="#453781" fill-opacity="0.25"/>
<circle cx="199.0" cy="284.3" r="1.9" fill="#453781" fill-opacity="0.25"/>
<circle cx="194.7" cy="310.7" r="1.9" fill="#453781" fill-opacity="0.25"/>
<circle cx="198.9" cy="306.6" r="1.9" fill="#453781" fill-opacity="0.25"/>
<circle cx="193.1" cy="299.1" r="1.9" fill="#453781" fill-opacity="0.25"/>
<circle cx="197.2" cy="327.0" r="1.9" fill="#453781" fill-opacity="0.25"/>
<circle cx="192.5" cy="271.0" r="1.9" fill="#453781" fill-opacity="0.25"/>
<circle cx="200.1" cy="323.1" r="1.9" fill="#453781" fill-opacity="0.25"/>
<circle cx="196.3" cy="274.4" r="1.9" fill="#453781" fill-opacity="0.25"/>
<circle cx="194.4" cy="305.1" r="1.9" fill="#453781" fill-opacity="0.25"/>
<circle cx="203.6" cy="284.8" r="1.9" fill="#453781" fill-opacity="0.25"/>
<circle cx="203.6" cy="292.5" r="1.9" fill="#453781" fill-opacity="0.25"/>
<circle cx="205.8" cy="324.6" r="1.9" fill="#453781" fill-opacity="0.25"/>
<circle cx="212.9" cy="285.6" r="1.9" fill="#453781" fill-opacity="0.25"/>
<circle cx="197.9" cy="304.0" r="1.9" fill="#453781" fill-opacity="0.25"/>
<circle cx="189.6" cy="320.3" r="1.9" fill="#453781" fill-opacity="0.25"/>
<circle cx="213.8" cy="310.9" r="1.9" fill="#453781" fill-opacity="0.25"/>
<circle cx="196.3" cy="279.0" r="1.9" fill="#453781" fill-opacity="0.25"/>
<circle cx="205.2" cy="293.5" r="1.9" fill="#453781" fill-opacity="0.25"/>
<circle cx="192.0" cy="313.0" r="1.9" fill="#453781" fill-opacity="0.25"/>
<circle cx="212.7" cy="294.8" r="1.9" fill="#453781" fill-opacity="0.25"/>
<circle cx="204.5" cy="302.7" r="1.9" fill="#453781" fill-opacity="0.25"/>
<circle cx="198.8" cy="295.4" r="1.9" fill="#453781" fill-opacity="0.25"/>
<circle cx="203.6" cy="281.3" r="1.9" fill="#453781" fill-opacity="0.25"/>
<circle cx="206.8" cy="304.4" r="1.9" fill="#453781" fill-opacity="0.25"/>
<circle cx="202.0" cy="329.2" r="1.9" fill="#453781" fill-opacity="0.25"/>
<circle cx="210.6" cy="326.0" r="1.9" fill="#453781" fill-opacity="0.25"/>
<circle cx="207.0" cy="317.3" r="1.9" fill="#453781" fill-opacity="0.25"/>
<circle cx="213.6" cy="306.9" r="1.9" fill="#453781" fill-opacity="0.25"/>
<circle cx="191.6" cy="284.5" r="1.9" fill="#453781" fill-opacity="0.25"/>
<circle cx="198.4" cy="301.7" r="1.9" fill="#453781" fill-opacity="0.25"/>
<circle cx="206.3" cy="307.4" r="1.9" fill="#453781" fill-opacity="0.25"/>
<circle cx="191.3" cy="290.9" r="1.9" fill="#453781" fill-opacity="0.25"/>
<circle cx="189.2" cy="317.0" r="1.9" fill="#453781" fill-opacity="0.25"/>
<circle cx="201.5" cy="314.5" r="1.9" fill="#453781" fill-opacity="0.25"/>
<circle cx="197.9" cy="318.0" r="1.9" fill="#453781" fill-opacity="0.25"/>
<circle cx="210.8" cy="323.9" r="1.9" fill="#453781" fill-opacity="0.25"/>
<circle cx="210.1" cy="321.4" r="1.9" fill="#453781" fill-opacity="0.25"/>
<circle cx="200.3" cy="325.8" r="1.9" fill="#453781" fill-opacity="0.25"/>
<circle cx="190.3" cy="322.4" r="1.9" fill="#453781" fill-opacity="0.25"/>
<circle cx="204.9" cy="282.0" r="1.9" fill="#453781" fill-opacity="0.25"/>
<circle cx="201.8" cy="325.0" r="1.9" fill="#453781" fill-opacity="0.25"/>
<circle cx="204.9" cy="313.2" r="1.9" fill="#453781" fill-opacity="0.25"/>
<circle cx="209.0" cy="325.0" r="1.9" fill="#453781" fill-opacity="0.25"/>
<circle cx="187.6" cy="327.8" r="1.9" fill="#453781" fill-opacity="0.25"/>
<circle cx="211.6" cy="328.2" r="1.9" fill="#453781" fill-opacity="0.25"/>
<circle cx="198.1" cy="313.9" r="1.9" fill="#453781" fill-opacity="0.25"/>
<circle cx="198.7" cy="324.1" r="1.9" fill="#453781" fill-opacity="0.25"/>
<circle cx="191.5" cy="296.2" r="1.9" fill="#453781" fill-opacity="0.25"/>
<circle cx="213.1" cy="285.2" r="1.9" fill="#453781" fill-opacity="0.25"/>
<circle cx="205.3" cy="324.8" r="1.9" fill="#453781" fill-opacity="0.25"/>
<circle cx="207.9" cy="300.1" r="1.9" fill="#453781" fill-opacity="0.25"/>
<circle cx="207.8" cy="328.3" r="1.9" fill="#453781" fill-opacity="0.25"/>
<circle cx="208.6" cy="307.1" r="1.9" fill="#453781" fill-opacity="0.25"/>
<circle cx="192.4" cy="304.5" r="1.9" fill="#453781" fill-opacity="0.25"/>
<circle cx="211.2" cy="276.2" r="1.9" fill="#453781" fill-opacity="0.25"/>
<circle cx="192.1" cy="320.1" r="1.9" fill="#453781" fill-opacity="0.25"/>
<circle cx="193.8" cy="316.3" r="1.9" fill="#453781" fill-opacity="0.25"/>
<circle cx="202.3" cy="316.4" r="1.9" fill="#453781" fill-opacity="0.25"/>
<circle cx="203.1" cy="304.6" r="1.9" fill="#453781" fill-opacity="0.25"/>
<circle cx="199.0" cy="292.5" r="1.9" fill="#453781" fill-opacity="0.25"/>
<circle cx="188.6" cy="289.8" r="1.9" fill="#453781" fill-opacity="0.25"/>
<circle cx="200.7" cy="272.5" r="1.9" fill="#453781" fill-opacity="0.25"/>
<circle cx="206.7" cy="329.1" r="1.9" fill="#453781" fill-opacity="0.25"/>
<circle cx="193.9" cy="311.2" r="1.9" fill="#453781" fill-opacity="0.25"/>
<circle cx="203.7" cy="290.0" r="1.9" fill="#453781" fill-opacity="0.25"/>
<circle cx="195.4" cy="280.3" r="1.9" fill="#453781" fill-opacity="0.25"/>
<circle cx="191.2" cy="329.9" r="1.9" fill="#453781" fill-opacity="0.25"/>
<circle cx="191.6" cy="287.8" r="1.9" fill="#453781" fill-opacity="0.25"/>
<circle cx="188.9" cy="296.1" r="1.9" fill="#453781" fill-opacity="0.25"/>
<circle cx="202.3" cy="304.2" r="1.9" fill="#453781" fill-opacity="0.25"/>
<circle cx="193.8" cy="325.0" r="1.9" fill="#453781" fill-opacity="0.25"/>
<circle cx="200.0" cy="326.8" r="1.9" fill="#453781" fill-opacity="0.25"/>
<circle cx="198.8" cy="318.7" r="1.9" fill="#453781" fill-opacity="0.25"/>
<circle cx="192.1" cy="304.1" r="1.9" fill="#453781" fill-opacity="0.25"/>
<circle cx="187.2" cy="273.5" r="1.9" fill="#453781" fill-opacity="0.25"/>
<circle cx="188.3" cy="328.5" r="1.9" fill="#453781" fill-opacity="0.25"/>
<circle cx="210.8" cy="311.6" r="1.9" fill="#453781" fill-opacity="0.25"/>
<circle cx="205.5" cy="302.2" r="1.9" fill="#453781" fill-opacity="0.25"/>
<circle cx="204.2" cy="307.8" r="1.9" fill="#453781" fill-opacity="0.25"/>
<circle cx="206.4" cy="305.1" r="1.9" fill="#453781" fill-opacity="0.25"/>
<circle cx="189.1" cy="326.5" r="1.9" fill="#453781" fill-opacity="0.25"/>
<circle cx="202.0" cy="307.7" r="1.9" fill="#453781" fill-opacity="0.25"/>
<circle cx="211.4" cy="318.2" r="1.9" fill="#453781" fill-opacity="0.25"/>
<circle cx="197.4" cy="324.6" r="1.9" fill="#453781" fill-opacity="0.25"/>
<circle cx="205.3" cy="283.0" r="1.9" fill="#453781" fill-opacity="0.25"/>
<circle cx="206.9" cy="326.9" r="1.9" fill="#453781" fill-opacity="0.25"/>
<circle cx="193.3" cy="271.2" r="1.9" fill="#453781" fill-opacity="0.25"/>
<circle cx="210.2" cy="328.1" r="1.9" fill="#453781" fill-opacity="0.25"/>
<circle cx="189.7" cy="311.6" r="1.9" fill="#453781" fill-opacity="0.25"/>
<circle cx="192.2" cy="312.5" r="1.9" fill="#453781" fill-opacity="0.25"/>
<circle cx="212.1" cy="284.0" r="1.9" fill="#453781" fill-opacity="0.25"/>
<circle cx="212.2" cy="312.6" r="1.9" fill="#453781" fill-opacity="0.25"/>
<circle cx="202.2" cy="307.2" r="1.9" fill="#453781" fill-opacity="0.25"/>
<circle cx="198.9" cy="305.7" r="1.9" fill="#453781" fill-opacity="0.25"/>
<circle cx="211.4" cy="327.2" r="1.9" fill="#453781" fill-opacity="0.25"/>
<circle cx="213.3" cy="288.2" r="1.9" fill="#453781" fill-opacity="0.25"/>
<circle cx="228.9" cy="267.4" r="1.9" fill="#3f4788" fill-opacity="0.25"/>
<circle cx="226.2" cy="299.5" r="1.9" fill="#3f4788" fill-opacity="0.25"/>
<circle cx="224.0" cy="304.5" r="1.9" fill="#3f4788" fill-opacity="0.25"/>
<circle cx="226.5" cy="299.4" r="1.9" fill="#3f4788" fill-opacity="0.25"/>
<circle cx="224.7" cy="310.1" r="1.9" fill="#3f4788" fill-opacity="0.25"/>
<circle cx="230.8" cy="317.5" r="1.9" fill="#3f4788" fill-opacity="0.25"/>
<circle cx="224.3" cy="324.3" r="1.9" fill="#3f4788" fill-opacity="0.25"/>
<circle cx="238.0" cy="300.0" r="1.9" fill="#3f4788" fill-opacity="0.25"/>
<circle cx="233.0" cy="296.0" r="1.9" fill="#3f4788" fill-opacity="0.25"/>
<circle cx="281.4" cy="261.3" r="1.9" fill="#39568c" fill-opacity="0.25"/>
<circle cx="282.3" cy="289.8" r="1.9" fill="#39568c" fill-opacity="0.25"/>
<circle cx="283.7" cy="292.9" r="1.9" fill="#39568c" fill-opacity="0.25"/>
<circle cx="266.6" cy="292.9" r="1.9" fill="#39568c" fill-opacity="0.25"/>
<circle cx="267.0" cy="303.6" r="1.9" fill="#39568c" fill-opacity="0.25"/>
<circle cx="261.5" cy="308.2" r="1.9" fill="#39568c" fill-opacity="0.25"/>
<circle cx="259.3" cy="324.8" r="1.9" fill="#39568c" fill-opacity="0.25"/>
<circle cx="275.0" cy="299.0" r="1.9" fill="#39568c" fill-opacity="0.25"/>
<circle cx="272.0" cy="312.0" r="1.9" fill="#39568c" fill-opacity="0.25"/>
<circle cx="301.5" cy="278.0" r="1.9" fill="#32648e" fill-opacity="0.25"/>
<circle cx="311.1" cy="282.2" r="1.9" fill="#32648e" fill-opacity="0.25"/>
<circle cx="312.9" cy="284.4" r="1.9" fill="#32648e" fill-opacity="0.25"/>
<circle cx="319.4" cy="282.6" r="1.9" fill="#32648e" fill-opacity="0.25"/>
<circle cx="296.7" cy="290.9" r="1.9" fill="#32648e" fill-opacity="0.25"/>
<circle cx="298.6" cy="298.2" r="1.9" fill="#32648e" fill-opacity="0.25"/>
<circle cx="296.4" cy="303.8" r="1.9" fill="#32648e" fill-opacity="0.25"/>
<circle cx="314.4" cy="298.8" r="1.9" fill="#32648e" fill-opacity="0.25"/>
<circle cx="318.8" cy="299.2" r="1.9" fill="#32648e" fill-opacity="0.25"/>
<circle cx="319.4" cy="301.9" r="1.9" fill="#32648e" fill-opacity="0.25"/>
<circle cx="303.4" cy="309.8" r="1.9" fill="#32648e" fill-opacity="0.25"/>
<circle cx="309.6" cy="309.8" r="1.9" fill="#32648e" fill-opacity="0.25"/>
<circle cx="293.6" cy="314.8" r="1.9" fill="#32648e" fill-opacity="0.25"/>
<circle cx="302.8" cy="321.2" r="1.9" fill="#32648e" fill-opacity="0.25"/>
<circle cx="317.5" cy="322.7" r="1.9" fill="#32648e" fill-opacity="0.25"/>
<circle cx="319.4" cy="323.4" r="1.9" fill="#32648e" fill-opacity="0.25"/>
<circle cx="294.9" cy="328.6" r="1.9" fill="#32648e" fill-opacity="0.25"/>
<circle cx="306.0" cy="296.0" r="1.9" fill="#32648e" fill-opacity="0.25"/>
<circle cx="310.0" cy="316.0" r="1.9" fill="#32648e" fill-opacity="0.25"/>
<circle cx="300.0" cy="326.0" r="1.9" fill="#32648e" fill-opacity="0.25"/>
<circle cx="313.0" cy="328.0" r="1.9" fill="#32648e" fill-opacity="0.25"/>
<circle cx="347.0" cy="281.7" r="1.9" fill="#2c718e" fill-opacity="0.25"/>
<circle cx="351.2" cy="287.8" r="1.9" fill="#2c718e" fill-opacity="0.25"/>
<circle cx="330.4" cy="284.1" r="1.9" fill="#2c718e" fill-opacity="0.25"/>
<circle cx="336.5" cy="289.0" r="1.9" fill="#2c718e" fill-opacity="0.25"/>
<circle cx="343.5" cy="271.5" r="1.9" fill="#2c718e" fill-opacity="0.25"/>
<circle cx="356.4" cy="319.9" r="1.9" fill="#2c718e" fill-opacity="0.25"/>
<circle cx="332.5" cy="320.7" r="1.9" fill="#2c718e" fill-opacity="0.25"/>
<circle cx="341.7" cy="292.4" r="1.9" fill="#2c718e" fill-opacity="0.25"/>
<circle cx="333.3" cy="321.3" r="1.9" fill="#2c718e" fill-opacity="0.25"/>
<circle cx="345.9" cy="327.2" r="1.9" fill="#2c718e" fill-opacity="0.25"/>
<circle cx="331.3" cy="324.3" r="1.9" fill="#2c718e" fill-opacity="0.25"/>
<circle cx="348.4" cy="292.9" r="1.9" fill="#2c718e" fill-opacity="0.25"/>
<circle cx="345.6" cy="290.1" r="1.9" fill="#2c718e" fill-opacity="0.25"/>
<circle cx="351.0" cy="316.5" r="1.9" fill="#2c718e" fill-opacity="0.25"/>
<circle cx="333.2" cy="287.4" r="1.9" fill="#2c718e" fill-opacity="0.25"/>
<circle cx="349.9" cy="320.1" r="1.9" fill="#2c718e" fill-opacity="0.25"/>
<circle cx="339.4" cy="294.3" r="1.9" fill="#2c718e" fill-opacity="0.25"/>
<circle cx="348.4" cy="323.0" r="1.9" fill="#2c718e" fill-opacity="0.25"/>
<circle cx="353.4" cy="305.1" r="1.9" fill="#2c718e" fill-opacity="0.25"/>
<circle cx="356.1" cy="312.6" r="1.9" fill="#2c718e" fill-opacity="0.25"/>
<circle cx="346.5" cy="304.7" r="1.9" fill="#2c718e" fill-opacity="0.25"/>
<circle cx="337.7" cy="325.4" r="1.9" fill="#2c718e" fill-opacity="0.25"/>
<circle cx="339.7" cy="321.1" r="1.9" fill="#2c718e" fill-opacity="0.25"/>
<circle cx="350.4" cy="319.1" r="1.9" fill="#2c718e" fill-opacity="0.25"/>
<circle cx="349.4" cy="311.7" r="1.9" fill="#2c718e" fill-opacity="0.25"/>
<circle cx="340.6" cy="320.9" r="1.9" fill="#2c718e" fill-opacity="0.25"/>
<circle cx="346.2" cy="317.1" r="1.9" fill="#2c718e" fill-opacity="0.25"/>
<circle cx="356.1" cy="322.7" r="1.9" fill="#2c718e" fill-opacity="0.25"/>
<circle cx="341.6" cy="317.2" r="1.9" fill="#2c718e" fill-opacity="0.25"/>
<circle cx="342.6" cy="318.1" r="1.9" fill="#2c718e" fill-opacity="0.25"/>
<circle cx="355.1" cy="328.8" r="1.9" fill="#2c718e" fill-opacity="0.25"/>
<circle cx="330.6" cy="302.0" r="1.9" fill="#2c718e" fill-opacity="0.25"/>
<circle cx="335.4" cy="322.1" r="1.9" fill="#2c718e" fill-opacity="0.25"/>
<circle cx="330.5" cy="309.8" r="1.9" fill="#2c718e" fill-opacity="0.25"/>
<circle cx="344.2" cy="329.8" r="1.9" fill="#2c718e" fill-opacity="0.25"/>
<circle cx="341.0" cy="314.3" r="1.9" fill="#2c718e" fill-opacity="0.25"/>
<circle cx="346.0" cy="296.1" r="1.9" fill="#2c718e" fill-opacity="0.25"/>
<circle cx="353.7" cy="318.9" r="1.9" fill="#2c718e" fill-opacity="0.25"/>
<circle cx="346.2" cy="314.1" r="1.9" fill="#2c718e" fill-opacity="0.25"/>
<circle cx="354.6" cy="325.7" r="1.9" fill="#2c718e" fill-opacity="0.25"/>
<circle cx="343.5" cy="315.9" r="1.9" fill="#2c718e" fill-opacity="0.25"/>
<circle cx="333.5" cy="311.2" r="1.9" fill="#2c718e" fill-opacity="0.25"/>
<circle cx="355.8" cy="301.4" r="1.9" fill="#2c718e" fill-opacity="0.25"/>
<circle cx="349.2" cy="301.2" r="1.9" fill="#2c718e" fill-opacity="0.25"/>
<circle cx="336.4" cy="298.8" r="1.9" fill="#2c718e" fill-opacity="0.25"/>
<circle cx="336.9" cy="297.2" r="1.9" fill="#2c718e" fill-opacity="0.25"/>
<circle cx="342.4" cy="300.8" r="1.9" fill="#2c718e" fill-opacity="0.25"/>
<circle cx="356.7" cy="285.1" r="1.9" fill="#2c718e" fill-opacity="0.25"/>
<circle cx="349.7" cy="289.5" r="1.9" fill="#2c718e" fill-opacity="0.25"/>
<circle cx="355.1" cy="314.8" r="1.9" fill="#2c718e" fill-opacity="0.25"/>
<circle cx="341.0" cy="314.5" r="1.9" fill="#2c718e" fill-opacity="0.25"/>
<circle cx="348.2" cy="309.8" r="1.9" fill="#2c718e" fill-opacity="0.25"/>
<circle cx="332.8" cy="293.3" r="1.9" fill="#2c718e" fill-opacity="0.25"/>
<circle cx="352.5" cy="327.4" r="1.9" fill="#2c718e" fill-opacity="0.25"/>
<circle cx="349.2" cy="301.1" r="1.9" fill="#2c718e" fill-opacity="0.25"/>
<circle cx="347.5" cy="326.0" r="1.9" fill="#2c718e" fill-opacity="0.25"/>
<circle cx="345.8" cy="287.7" r="1.9" fill="#2c718e" fill-opacity="0.25"/>
<circle cx="346.6" cy="315.0" r="1.9" fill="#2c718e" fill-opacity="0.25"/>
<circle cx="350.3" cy="315.0" r="1.9" fill="#2c718e" fill-opacity="0.25"/>
<circle cx="344.0" cy="310.4" r="1.9" fill="#2c718e" fill-opacity="0.25"/>
<circle cx="355.9" cy="305.9" r="1.9" fill="#2c718e" fill-opacity="0.25"/>
<circle cx="354.0" cy="324.8" r="1.9" fill="#2c718e" fill-opacity="0.25"/>
<circle cx="331.0" cy="303.2" r="1.9" fill="#2c718e" fill-opacity="0.25"/>
<circle cx="355.1" cy="321.3" r="1.9" fill="#2c718e" fill-opacity="0.25"/>
<circle cx="339.3" cy="303.6" r="1.9" fill="#2c718e" fill-opacity="0.25"/>
<circle cx="337.8" cy="328.4" r="1.9" fill="#2c718e" fill-opacity="0.25"/>
<circle cx="349.5" cy="288.7" r="1.9" fill="#2c718e" fill-opacity="0.25"/>
<circle cx="355.2" cy="314.8" r="1.9" fill="#2c718e" fill-opacity="0.25"/>
<circle cx="351.7" cy="309.0" r="1.9" fill="#2c718e" fill-opacity="0.25"/>
<circle cx="333.2" cy="323.0" r="1.9" fill="#2c718e" fill-opacity="0.25"/>
<circle cx="331.5" cy="317.5" r="1.9" fill="#2c718e" fill-opacity="0.25"/>
<circle cx="330.7" cy="297.7" r="1.9" fill="#2c718e" fill-opacity="0.25"/>
<circle cx="334.1" cy="320.5" r="1.9" fill="#2c718e" fill-opacity="0.25"/>
<circle cx="341.6" cy="319.9" r="1.9" fill="#2c718e" fill-opacity="0.25"/>
<circle cx="345.6" cy="315.8" r="1.9" fill="#2c718e" fill-opacity="0.25"/>
<circle cx="333.1" cy="321.4" r="1.9" fill="#2c718e" fill-opacity="0.25"/>
<circle cx="331.0" cy="317.3" r="1.9" fill="#2c718e" fill-opacity="0.25"/>
<circle cx="346.2" cy="308.8" r="1.9" fill="#2c718e" fill-opacity="0.25"/>
<circle cx="353.8" cy="324.2" r="1.9" fill="#2c718e" fill-opacity="0.25"/>
<circle cx="340.5" cy="315.0" r="1.9" fill="#2c718e" fill-opacity="0.25"/>
<circle cx="349.6" cy="309.1" r="1.9" fill="#2c718e" fill-opacity="0.25"/>
<circle cx="341.1" cy="286.1" r="1.9" fill="#2c718e" fill-opacity="0.25"/>
<circle cx="349.0" cy="308.0" r="1.9" fill="#2c718e" fill-opacity="0.25"/>
<circle cx="345.3" cy="301.3" r="1.9" fill="#2c718e" fill-opacity="0.25"/>
<circle cx="353.3" cy="329.0" r="1.9" fill="#2c718e" fill-opacity="0.25"/>
<circle cx="347.5" cy="327.5" r="1.9" fill="#2c718e" fill-opacity="0.25"/>
<circle cx="341.0" cy="299.5" r="1.9" fill="#2c718e" fill-opacity="0.25"/>
<circle cx="345.4" cy="301.1" r="1.9" fill="#2c718e" fill-opacity="0.25"/>
<circle cx="338.5" cy="301.2" r="1.9" fill="#2c718e" fill-opacity="0.25"/>
<circle cx="343.7" cy="314.9" r="1.9" fill="#2c718e" fill-opacity="0.25"/>
<circle cx="338.7" cy="328.4" r="1.9" fill="#2c718e" fill-opacity="0.25"/>
<circle cx="343.7" cy="323.3" r="1.9" fill="#2c718e" fill-opacity="0.25"/>
<circle cx="339.9" cy="316.3" r="1.9" fill="#2c718e" fill-opacity="0.25"/>
<circle cx="344.5" cy="325.5" r="1.9" fill="#2c718e" fill-opacity="0.25"/>
<circle cx="337.7" cy="295.5" r="1.9" fill="#2c718e" fill-opacity="0.25"/>
<circle cx="348.5" cy="319.1" r="1.9" fill="#2c718e" fill-opacity="0.25"/>
<circle cx="353.1" cy="323.8" r="1.9" fill="#2c718e" fill-opacity="0.25"/>
<circle cx="331.8" cy="327.2" r="1.9" fill="#2c718e" fill-opacity="0.25"/>
<circle cx="351.0" cy="298.7" r="1.9" fill="#2c718e" fill-opacity="0.25"/>
<circle cx="347.9" cy="320.3" r="1.9" fill="#2c718e" fill-opacity="0.25"/>
<circle cx="343.0" cy="322.6" r="1.9" fill="#2c718e" fill-opacity="0.25"/>
<circle cx="349.2" cy="321.6" r="1.9" fill="#2c718e" fill-opacity="0.25"/>
<circle cx="349.2" cy="317.7" r="1.9" fill="#2c718e" fill-opacity="0.25"/>
<circle cx="338.8" cy="313.6" r="1.9" fill="#2c718e" fill-opacity="0.25"/>
<circle cx="356.1" cy="328.6" r="1.9" fill="#2c718e" fill-opacity="0.25"/>
<circle cx="351.5" cy="319.7" r="1.9" fill="#2c718e" fill-opacity="0.25"/>
<circle cx="350.1" cy="307.6" r="1.9" fill="#2c718e" fill-opacity="0.25"/>
<circle cx="346.5" cy="318.2" r="1.9" fill="#2c718e" fill-opacity="0.25"/>
<circle cx="355.6" cy="320.8" r="1.9" fill="#2c718e" fill-opacity="0.25"/>
<circle cx="332.3" cy="321.9" r="1.9" fill="#2c718e" fill-opacity="0.25"/>
<circle cx="330.4" cy="329.1" r="1.9" fill="#2c718e" fill-opacity="0.25"/>
<circle cx="331.2" cy="306.4" r="1.9" fill="#2c718e" fill-opacity="0.25"/>
<circle cx="340.8" cy="328.2" r="1.9" fill="#2c718e" fill-opacity="0.25"/>
<circle cx="330.8" cy="314.2" r="1.9" fill="#2c718e" fill-opacity="0.25"/>
<circle cx="340.7" cy="317.8" r="1.9" fill="#2c718e" fill-opacity="0.25"/>
<circle cx="339.2" cy="328.2" r="1.9" fill="#2c718e" fill-opacity="0.25"/>
<circle cx="343.9" cy="307.9" r="1.9" fill="#2c718e" fill-opacity="0.25"/>
<circle cx="341.2" cy="328.1" r="1.9" fill="#2c718e" fill-opacity="0.25"/>
<circle cx="352.4" cy="297.3" r="1.9" fill="#2c718e" fill-opacity="0.25"/>
<circle cx="356.5" cy="302.0" r="1.9" fill="#2c718e" fill-opacity="0.25"/>
<circle cx="332.2" cy="328.3" r="1.9" fill="#2c718e" fill-opacity="0.25"/>
<circle cx="347.9" cy="327.0" r="1.9" fill="#2c718e" fill-opacity="0.25"/>
<circle cx="332.3" cy="321.3" r="1.9" fill="#2c718e" fill-opacity="0.25"/>
<circle cx="338.5" cy="317.2" r="1.9" fill="#2c718e" fill-opacity="0.25"/>
<circle cx="352.8" cy="311.6" r="1.9" fill="#2c718e" fill-opacity="0.25"/>
<circle cx="353.4" cy="318.8" r="1.9" fill="#2c718e" fill-opacity="0.25"/>
<circle cx="355.4" cy="289.4" r="1.9" fill="#2c718e" fill-opacity="0.25"/>
<circle cx="338.8" cy="320.8" r="1.9" fill="#2c718e" fill-opacity="0.25"/>
<circle cx="353.1" cy="309.1" r="1.9" fill="#2c718e" fill-opacity="0.25"/>
<circle cx="350.4" cy="293.1" r="1.9" fill="#2c718e" fill-opacity="0.25"/>
<circle cx="343.2" cy="326.4" r="1.9" fill="#2c718e" fill-opacity="0.25"/>
<circle cx="350.0" cy="308.3" r="1.9" fill="#2c718e" fill-opacity="0.25"/>
<circle cx="329.8" cy="296.4" r="1.9" fill="#2c718e" fill-opacity="0.25"/>
<circle cx="356.1" cy="305.9" r="1.9" fill="#2c718e" fill-opacity="0.25"/>
<circle cx="330.7" cy="314.7" r="1.9" fill="#2c718e" fill-opacity="0.25"/>
<circle cx="337.4" cy="315.0" r="1.9" fill="#2c718e" fill-opacity="0.25"/>
<circle cx="352.1" cy="329.7" r="1.9" fill="#2c718e" fill-opacity="0.25"/>
<circle cx="353.5" cy="323.2" r="1.9" fill="#2c718e" fill-opacity="0.25"/>
<circle cx="351.5" cy="322.8" r="1.9" fill="#2c718e" fill-opacity="0.25"/>
<circle cx="344.3" cy="322.7" r="1.9" fill="#2c718e" fill-opacity="0.25"/>
<circle cx="344.2" cy="308.6" r="1.9" fill="#2c718e" fill-opacity="0.25"/>
<circle cx="339.1" cy="313.8" r="1.9" fill="#2c718e" fill-opacity="0.25"/>
<circle cx="338.8" cy="325.9" r="1.9" fill="#2c718e" fill-opacity="0.25"/>
<circle cx="354.7" cy="326.1" r="1.9" fill="#2c718e" fill-opacity="0.25"/>
<circle cx="335.4" cy="320.0" r="1.9" fill="#2c718e" fill-opacity="0.25"/>
<circle cx="340.6" cy="296.1" r="1.9" fill="#2c718e" fill-opacity="0.25"/>
<circle cx="338.6" cy="300.7" r="1.9" fill="#2c718e" fill-opacity="0.25"/>
<circle cx="348.4" cy="327.0" r="1.9" fill="#2c718e" fill-opacity="0.25"/>
<circle cx="355.2" cy="319.9" r="1.9" fill="#2c718e" fill-opacity="0.25"/>
<circle cx="347.5" cy="319.3" r="1.9" fill="#2c718e" fill-opacity="0.25"/>
<circle cx="350.4" cy="318.9" r="1.9" fill="#2c718e" fill-opacity="0.25"/>
<circle cx="349.0" cy="318.2" r="1.9" fill="#2c718e" fill-opacity="0.25"/>
<circle cx="351.9" cy="325.7" r="1.9" fill="#2c718e" fill-opacity="0.25"/>
<circle cx="341.0" cy="286.8" r="1.9" fill="#2c718e" fill-opacity="0.25"/>
<circle cx="356.6" cy="325.0" r="1.9" fill="#2c718e" fill-opacity="0.25"/>
<circle cx="346.9" cy="304.9" r="1.9" fill="#2c718e" fill-opacity="0.25"/>
<circle cx="334.4" cy="326.5" r="1.9" fill="#2c718e" fill-opacity="0.25"/>
<circle cx="340.1" cy="311.0" r="1.9" fill="#2c718e" fill-opacity="0.25"/>
<circle cx="342.4" cy="328.8" r="1.9" fill="#2c718e" fill-opacity="0.25"/>
<circle cx="340.4" cy="329.6" r="1.9" fill="#2c718e" fill-opacity="0.25"/>
<circle cx="350.5" cy="309.6" r="1.9" fill="#2c718e" fill-opacity="0.25"/>
<circle cx="344.6" cy="323.3" r="1.9" fill="#2c718e" fill-opacity="0.25"/>
<circle cx="341.2" cy="304.9" r="1.9" fill="#2c718e" fill-opacity="0.25"/>
<circle cx="333.9" cy="316.3" r="1.9" fill="#2c718e" fill-opacity="0.25"/>
<circle cx="350.0" cy="311.9" r="1.9" fill="#2c718e" fill-opacity="0.25"/>
<circle cx="346.1" cy="307.2" r="1.9" fill="#2c718e" fill-opacity="0.25"/>
<circle cx="342.4" cy="314.1" r="1.9" fill="#2c718e" fill-opacity="0.25"/>
<circle cx="329.9" cy="308.3" r="1.9" fill="#2c718e" fill-opacity="0.25"/>
<circle cx="352.1" cy="306.9" r="1.9" fill="#2c718e" fill-opacity="0.25"/>
<circle cx="353.9" cy="318.3" r="1.9" fill="#2c718e" fill-opacity="0.25"/>
<circle cx="348.4" cy="328.8" r="1.9" fill="#2c718e" fill-opacity="0.25"/>
<circle cx="335.1" cy="324.9" r="1.9" fill="#2c718e" fill-opacity="0.25"/>
<circle cx="356.3" cy="305.0" r="1.9" fill="#2c718e" fill-opacity="0.25"/>
<circle cx="341.2" cy="326.0" r="1.9" fill="#2c718e" fill-opacity="0.25"/>
<circle cx="336.9" cy="326.9" r="1.9" fill="#2c718e" fill-opacity="0.25"/>
<circle cx="343.6" cy="317.9" r="1.9" fill="#2c718e" fill-opacity="0.25"/>
<circle cx="346.5" cy="322.8" r="1.9" fill="#2c718e" fill-opacity="0.25"/>
<circle cx="346.1" cy="286.7" r="1.9" fill="#2c718e" fill-opacity="0.25"/>
<circle cx="338.4" cy="328.7" r="1.9" fill="#2c718e" fill-opacity="0.25"/>
<circle cx="355.5" cy="316.8" r="1.9" fill="#2c718e" fill-opacity="0.25"/>
<circle cx="334.2" cy="319.0" r="1.9" fill="#2c718e" fill-opacity="0.25"/>
<circle cx="333.6" cy="329.2" r="1.9" fill="#2c718e" fill-opacity="0.25"/>
<circle cx="337.0" cy="320.6" r="1.9" fill="#2c718e" fill-opacity="0.25"/>
<circle cx="332.7" cy="328.9" r="1.9" fill="#2c718e" fill-opacity="0.25"/>
<circle cx="338.9" cy="318.2" r="1.9" fill="#2c718e" fill-opacity="0.25"/>
<circle cx="348.5" cy="326.7" r="1.9" fill="#2c718e" fill-opacity="0.25"/>
<circle cx="342.0" cy="306.1" r="1.9" fill="#2c718e" fill-opacity="0.25"/>
<circle cx="345.8" cy="312.9" r="1.9" fill="#2c718e" fill-opacity="0.25"/>
<circle cx="351.5" cy="320.4" r="1.9" fill="#2c718e" fill-opacity="0.25"/>
<circle cx="356.4" cy="308.4" r="1.9" fill="#2c718e" fill-opacity="0.25"/>
<circle cx="336.7" cy="320.5" r="1.9" fill="#2c718e" fill-opacity="0.25"/>
<circle cx="337.7" cy="299.7" r="1.9" fill="#2c718e" fill-opacity="0.25"/>
<circle cx="334.3" cy="329.3" r="1.9" fill="#2c718e" fill-opacity="0.25"/>
<circle cx="333.5" cy="322.3" r="1.9" fill="#2c718e" fill-opacity="0.25"/>
<circle cx="349.8" cy="318.5" r="1.9" fill="#2c718e" fill-opacity="0.25"/>
<circle cx="335.6" cy="319.9" r="1.9" fill="#2c718e" fill-opacity="0.25"/>
<circle cx="352.2" cy="318.7" r="1.9" fill="#2c718e" fill-opacity="0.25"/>
<circle cx="336.3" cy="312.8" r="1.9" fill="#2c718e" fill-opacity="0.25"/>
<circle cx="346.8" cy="328.7" r="1.9" fill="#2c718e" fill-opacity="0.25"/>
<circle cx="346.5" cy="322.8" r="1.9" fill="#2c718e" fill-opacity="0.25"/>
<circle cx="354.3" cy="309.5" r="1.9" fill="#2c718e" fill-opacity="0.25"/>
<circle cx="340.9" cy="325.4" r="1.9" fill="#2c718e" fill-opacity="0.25"/>
<circle cx="331.4" cy="323.7" r="1.9" fill="#2c718e" fill-opacity="0.25"/>
<circle cx="353.7" cy="303.3" r="1.9" fill="#2c718e" fill-opacity="0.25"/>
<circle cx="339.9" cy="316.1" r="1.9" fill="#2c718e" fill-opacity="0.25"/>
<circle cx="339.0" cy="309.9" r="1.9" fill="#2c718e" fill-opacity="0.25"/>
<circle cx="331.1" cy="305.7" r="1.9" fill="#2c718e" fill-opacity="0.25"/>
<circle cx="347.1" cy="325.1" r="1.9" fill="#2c718e" fill-opacity="0.25"/>
<circle cx="341.5" cy="326.5" r="1.9" fill="#2c718e" fill-opacity="0.25"/>
<circle cx="345.5" cy="326.0" r="1.9" fill="#2c718e" fill-opacity="0.25"/>
<circle cx="342.4" cy="309.3" r="1.9" fill="#2c718e" fill-opacity="0.25"/>
<circle cx="350.5" cy="308.5" r="1.9" fill="#2c718e" fill-opacity="0.25"/>
<circle cx="341.1" cy="315.9" r="1.9" fill="#2c718e" fill-opacity="0.25"/>
<circle cx="341.3" cy="283.4" r="1.9" fill="#2c718e" fill-opacity="0.25"/>
<circle cx="340.5" cy="313.8" r="1.9" fill="#2c718e" fill-opacity="0.25"/>
<circle cx="342.6" cy="312.8" r="1.9" fill="#2c718e" fill-opacity="0.25"/>
<circle cx="350.7" cy="302.6" r="1.9" fill="#2c718e" fill-opacity="0.25"/>
<circle cx="331.1" cy="325.4" r="1.9" fill="#2c718e" fill-opacity="0.25"/>
<circle cx="343.5" cy="312.7" r="1.9" fill="#2c718e" fill-opacity="0.25"/>
<circle cx="356.0" cy="298.1" r="1.9" fill="#2c718e" fill-opacity="0.25"/>
<circle cx="337.6" cy="324.4" r="1.9" fill="#2c718e" fill-opacity="0.25"/>
<circle cx="346.2" cy="328.1" r="1.9" fill="#2c718e" fill-opacity="0.25"/>
<circle cx="336.0" cy="322.7" r="1.9" fill="#2c718e" fill-opacity="0.25"/>
<circle cx="344.9" cy="327.2" r="1.9" fill="#2c718e" fill-opacity="0.25"/>
<circle cx="334.0" cy="328.2" r="1.9" fill="#2c718e" fill-opacity="0.25"/>
<circle cx="354.1" cy="323.8" r="1.9" fill="#2c718e" fill-opacity="0.25"/>
<circle cx="350.5" cy="299.4" r="1.9" fill="#2c718e" fill-opacity="0.25"/>
<circle cx="351.3" cy="326.0" r="1.9" fill="#2c718e" fill-opacity="0.25"/>
<circle cx="348.0" cy="318.5" r="1.9" fill="#2c718e" fill-opacity="0.25"/>
<circle cx="331.5" cy="329.4" r="1.9" fill="#2c718e" fill-opacity="0.25"/>
<circle cx="334.7" cy="298.7" r="1.9" fill="#2c718e" fill-opacity="0.25"/>
<circle cx="347.7" cy="313.1" r="1.9" fill="#2c718e" fill-opacity="0.25"/>
<circle cx="338.9" cy="329.6" r="1.9" fill="#2c718e" fill-opacity="0.25"/>
<circle cx="330.2" cy="328.4" r="1.9" fill="#2c718e" fill-opacity="0.25"/>
<circle cx="351.4" cy="305.5" r="1.9" fill="#2c718e" fill-opacity="0.25"/>
<circle cx="347.3" cy="325.2" r="1.9" fill="#2c718e" fill-opacity="0.25"/>
<circle cx="351.5" cy="294.8" r="1.9" fill="#2c718e" fill-opacity="0.25"/>
<circle cx="337.5" cy="293.9" r="1.9" fill="#2c718e" fill-opacity="0.25"/>
<circle cx="351.5" cy="325.0" r="1.9" fill="#2c718e" fill-opacity="0.25"/>
<circle cx="339.4" cy="309.2" r="1.9" fill="#2c718e" fill-opacity="0.25"/>
<circle cx="330.4" cy="307.0" r="1.9" fill="#2c718e" fill-opacity="0.25"/>
<circle cx="342.1" cy="323.1" r="1.9" fill="#2c718e" fill-opacity="0.25"/>
<circle cx="331.0" cy="316.4" r="1.9" fill="#2c718e" fill-opacity="0.25"/>
<circle cx="350.6" cy="295.0" r="1.9" fill="#2c718e" fill-opacity="0.25"/>
<circle cx="336.2" cy="325.0" r="1.9" fill="#2c718e" fill-opacity="0.25"/>
<circle cx="340.1" cy="315.1" r="1.9" fill="#2c718e" fill-opacity="0.25"/>
<circle cx="334.4" cy="325.9" r="1.9" fill="#2c718e" fill-opacity="0.25"/>
<circle cx="335.9" cy="321.9" r="1.9" fill="#2c718e" fill-opacity="0.25"/>
<circle cx="334.2" cy="315.9" r="1.9" fill="#2c718e" fill-opacity="0.25"/>
<circle cx="350.2" cy="324.5" r="1.9" fill="#2c718e" fill-opacity="0.25"/>
<circle cx="346.8" cy="320.5" r="1.9" fill="#2c718e" fill-opacity="0.25"/>
<circle cx="335.4" cy="305.5" r="1.9" fill="#2c718e" fill-opacity="0.25"/>
<circle cx="345.0" cy="324.3" r="1.9" fill="#2c718e" fill-opacity="0.25"/>
<circle cx="330.4" cy="314.6" r="1.9" fill="#2c718e" fill-opacity="0.25"/>
<circle cx="333.4" cy="329.3" r="1.9" fill="#2c718e" fill-opacity="0.25"/>
<circle cx="345.8" cy="323.0" r="1.9" fill="#2c718e" fill-opacity="0.25"/>
<circle cx="355.7" cy="288.9" r="1.9" fill="#2c718e" fill-opacity="0.25"/>
<circle cx="354.8" cy="317.1" r="1.9" fill="#2c718e" fill-opacity="0.25"/>
<circle cx="353.7" cy="303.9" r="1.9" fill="#2c718e" fill-opacity="0.25"/>
<circle cx="341.4" cy="323.6" r="1.9" fill="#2c718e" fill-opacity="0.25"/>
<circle cx="345.6" cy="327.7" r="1.9" fill="#2c718e" fill-opacity="0.25"/>
<circle cx="331.0" cy="327.8" r="1.9" fill="#2c718e" fill-opacity="0.25"/>
<circle cx="330.8" cy="311.3" r="1.9" fill="#2c718e" fill-opacity="0.25"/>
<circle cx="353.1" cy="298.5" r="1.9" fill="#2c718e" fill-opacity="0.25"/>
<circle cx="353.5" cy="322.0" r="1.9" fill="#2c718e" fill-opacity="0.25"/>
<circle cx="340.0" cy="318.0" r="1.9" fill="#2c718e" fill-opacity="0.25"/>
<circle cx="337.3" cy="329.1" r="1.9" fill="#2c718e" fill-opacity="0.25"/>
<circle cx="343.7" cy="327.2" r="1.9" fill="#2c718e" fill-opacity="0.25"/>
<circle cx="354.2" cy="300.7" r="1.9" fill="#2c718e" fill-opacity="0.25"/>
<circle cx="355.9" cy="312.1" r="1.9" fill="#2c718e" fill-opacity="0.25"/>
<circle cx="337.5" cy="316.4" r="1.9" fill="#2c718e" fill-opacity="0.25"/>
<circle cx="348.7" cy="313.9" r="1.9" fill="#2c718e" fill-opacity="0.25"/>
<circle cx="334.6" cy="324.5" r="1.9" fill="#2c718e" fill-opacity="0.25"/>
<circle cx="334.5" cy="301.5" r="1.9" fill="#2c718e" fill-opacity="0.25"/>
<circle cx="335.8" cy="317.7" r="1.9" fill="#2c718e" fill-opacity="0.25"/>
<circle cx="348.0" cy="286.4" r="1.9" fill="#2c718e" fill-opacity="0.25"/>
<circle cx="350.9" cy="321.9" r="1.9" fill="#2c718e" fill-opacity="0.25"/>
<circle cx="350.4" cy="317.2" r="1.9" fill="#2c718e" fill-opacity="0.25"/>
<circle cx="332.9" cy="311.5" r="1.9" fill="#2c718e" fill-opacity="0.25"/>
<circle cx="352.7" cy="322.2" r="1.9" fill="#2c718e" fill-opacity="0.25"/>
<circle cx="341.4" cy="291.1" r="1.9" fill="#2c718e" fill-opacity="0.25"/>
<circle cx="337.4" cy="306.7" r="1.9" fill="#2c718e" fill-opacity="0.25"/>
<circle cx="352.2" cy="309.1" r="1.9" fill="#2c718e" fill-opacity="0.25"/>
<circle cx="343.7" cy="326.7" r="1.9" fill="#2c718e" fill-opacity="0.25"/>
<circle cx="344.4" cy="312.1" r="1.9" fill="#2c718e" fill-opacity="0.25"/>
<circle cx="341.9" cy="321.6" r="1.9" fill="#2c718e" fill-opacity="0.25"/>
<circle cx="334.2" cy="294.2" r="1.9" fill="#2c718e" fill-opacity="0.25"/>
<circle cx="339.3" cy="297.4" r="1.9" fill="#2c718e" fill-opacity="0.25"/>
<circle cx="342.3" cy="328.5" r="1.9" fill="#2c718e" fill-opacity="0.25"/>
<circle cx="330.7" cy="327.2" r="1.9" fill="#2c718e" fill-opacity="0.25"/>
<circle cx="349.7" cy="315.3" r="1.9" fill="#2c718e" fill-opacity="0.25"/>
<circle cx="352.4" cy="318.1" r="1.9" fill="#2c718e" fill-opacity="0.25"/>
<circle cx="342.1" cy="324.8" r="1.9" fill="#2c718e" fill-opacity="0.25"/>
<circle cx="346.1" cy="313.6" r="1.9" fill="#2c718e" fill-opacity="0.25"/>
<circle cx="332.6" cy="321.8" r="1.9" fill="#2c718e" fill-opacity="0.25"/>
<circle cx="338.2" cy="323.6" r="1.9" fill="#2c718e" fill-opacity="0.25"/>
<circle cx="346.9" cy="304.0" r="1.9" fill="#2c718e" fill-opacity="0.25"/>
<circle cx="345.2" cy="303.4" r="1.9" fill="#2c718e" fill-opacity="0.25"/>
<circle cx="334.4" cy="306.4" r="1.9" fill="#2c718e" fill-opacity="0.25"/>
<circle cx="348.2" cy="328.2" r="1.9" fill="#2c718e" fill-opacity="0.25"/>
<circle cx="348.0" cy="317.2" r="1.9" fill="#2c718e" fill-opacity="0.25"/>
<circle cx="343.8" cy="328.1" r="1.9" fill="#2c718e" fill-opacity="0.25"/>
<circle cx="353.7" cy="318.5" r="1.9" fill="#2c718e" fill-opacity="0.25"/>
<circle cx="331.8" cy="324.5" r="1.9" fill="#2c718e" fill-opacity="0.25"/>
<circle cx="345.7" cy="329.8" r="1.9" fill="#2c718e" fill-opacity="0.25"/>
<circle cx="355.5" cy="302.6" r="1.9" fill="#2c718e" fill-opacity="0.25"/>
<circle cx="336.8" cy="325.0" r="1.9" fill="#2c718e" fill-opacity="0.25"/>
<circle cx="346.8" cy="309.4" r="1.9" fill="#2c718e" fill-opacity="0.25"/>
<circle cx="344.9" cy="316.6" r="1.9" fill="#2c718e" fill-opacity="0.25"/>
<circle cx="351.2" cy="306.3" r="1.9" fill="#2c718e" fill-opacity="0.25"/>
<circle cx="351.2" cy="317.6" r="1.9" fill="#2c718e" fill-opacity="0.25"/>
<circle cx="349.0" cy="328.5" r="1.9" fill="#2c718e" fill-opacity="0.25"/>
<circle cx="343.0" cy="315.9" r="1.9" fill="#2c718e" fill-opacity="0.25"/>
<circle cx="331.9" cy="306.4" r="1.9" fill="#2c718e" fill-opacity="0.25"/>
<circle cx="335.3" cy="321.9" r="1.9" fill="#2c718e" fill-opacity="0.25"/>
<circle cx="352.3" cy="313.3" r="1.9" fill="#2c718e" fill-opacity="0.25"/>
<circle cx="337.4" cy="315.0" r="1.9" fill="#2c718e" fill-opacity="0.25"/>
<circle cx="341.4" cy="319.3" r="1.9" fill="#2c718e" fill-opacity="0.25"/>
<circle cx="333.3" cy="323.3" r="1.9" fill="#2c718e" fill-opacity="0.25"/>
<circle cx="347.6" cy="301.1" r="1.9" fill="#2c718e" fill-opacity="0.25"/>
<circle cx="337.1" cy="307.6" r="1.9" fill="#2c718e" fill-opacity="0.25"/>
<circle cx="342.4" cy="321.0" r="1.9" fill="#2c718e" fill-opacity="0.25"/>
<circle cx="331.8" cy="323.8" r="1.9" fill="#2c718e" fill-opacity="0.25"/>
<circle cx="343.8" cy="322.2" r="1.9" fill="#2c718e" fill-opacity="0.25"/>
<circle cx="336.7" cy="326.0" r="1.9" fill="#2c718e" fill-opacity="0.25"/>
<circle cx="351.8" cy="319.6" r="1.9" fill="#2c718e" fill-opacity="0.25"/>
<circle cx="330.8" cy="301.8" r="1.9" fill="#2c718e" fill-opacity="0.25"/>
<circle cx="356.4" cy="327.3" r="1.9" fill="#2c718e" fill-opacity="0.25"/>
<circle cx="340.6" cy="317.6" r="1.9" fill="#2c718e" fill-opacity="0.25"/>
<circle cx="346.4" cy="320.3" r="1.9" fill="#2c718e" fill-opacity="0.25"/>
<circle cx="340.5" cy="316.2" r="1.9" fill="#2c718e" fill-opacity="0.25"/>
<circle cx="335.7" cy="306.6" r="1.9" fill="#2c718e" fill-opacity="0.25"/>
<circle cx="350.0" cy="324.2" r="1.9" fill="#2c718e" fill-opacity="0.25"/>
<circle cx="335.9" cy="329.4" r="1.9" fill="#2c718e" fill-opacity="0.25"/>
<circle cx="337.6" cy="316.2" r="1.9" fill="#2c718e" fill-opacity="0.25"/>
<circle cx="348.8" cy="312.1" r="1.9" fill="#2c718e" fill-opacity="0.25"/>
<circle cx="341.6" cy="317.3" r="1.9" fill="#2c718e" fill-opacity="0.25"/>
<circle cx="349.6" cy="316.7" r="1.9" fill="#2c718e" fill-opacity="0.25"/>
<circle cx="350.5" cy="321.3" r="1.9" fill="#2c718e" fill-opacity="0.25"/>
<circle cx="337.5" cy="283.4" r="1.9" fill="#2c718e" fill-opacity="0.25"/>
<circle cx="356.0" cy="325.0" r="1.9" fill="#2c718e" fill-opacity="0.25"/>
<circle cx="336.9" cy="328.9" r="1.9" fill="#2c718e" fill-opacity="0.25"/>
<circle cx="334.5" cy="323.7" r="1.9" fill="#2c718e" fill-opacity="0.25"/>
<circle cx="350.4" cy="317.7" r="1.9" fill="#2c718e" fill-opacity="0.25"/>
<circle cx="342.4" cy="301.4" r="1.9" fill="#2c718e" fill-opacity="0.25"/>
<circle cx="354.8" cy="308.1" r="1.9" fill="#2c718e" fill-opacity="0.25"/>
<circle cx="335.8" cy="323.7" r="1.9" fill="#2c718e" fill-opacity="0.25"/>
<circle cx="344.7" cy="326.9" r="1.9" fill="#2c718e" fill-opacity="0.25"/>
<circle cx="355.4" cy="311.6" r="1.9" fill="#2c718e" fill-opacity="0.25"/>
<circle cx="329.9" cy="323.7" r="1.9" fill="#2c718e" fill-opacity="0.25"/>
<circle cx="347.2" cy="321.2" r="1.9" fill="#2c718e" fill-opacity="0.25"/>
<circle cx="337.6" cy="314.3" r="1.9" fill="#2c718e" fill-opacity="0.25"/>
<circle cx="349.9" cy="311.9" r="1.9" fill="#2c718e" fill-opacity="0.25"/>
<circle cx="356.0" cy="325.5" r="1.9" fill="#2c718e" fill-opacity="0.25"/>
<circle cx="329.8" cy="311.5" r="1.9" fill="#2c718e" fill-opacity="0.25"/>
<circle cx="339.2" cy="321.9" r="1.9" fill="#2c718e" fill-opacity="0.25"/>
<circle cx="351.0" cy="314.7" r="1.9" fill="#2c718e" fill-opacity="0.25"/>
<circle cx="351.1" cy="297.7" r="1.9" fill="#2c718e" fill-opacity="0.25"/>
<circle cx="341.0" cy="311.9" r="1.9" fill="#2c718e" fill-opacity="0.25"/>
<circle cx="352.1" cy="294.6" r="1.9" fill="#2c718e" fill-opacity="0.25"/>
<circle cx="331.7" cy="329.3" r="1.9" fill="#2c718e" fill-opacity="0.25"/>
<circle cx="342.5" cy="312.1" r="1.9" fill="#2c718e" fill-opacity="0.25"/>
<circle cx="342.9" cy="309.1" r="1.9" fill="#2c718e" fill-opacity="0.25"/>
<circle cx="352.7" cy="324.4" r="1.9" fill="#2c718e" fill-opacity="0.25"/>
<circle cx="330.4" cy="321.3" r="1.9" fill="#2c718e" fill-opacity="0.25"/>
<circle cx="355.2" cy="304.2" r="1.9" fill="#2c718e" fill-opacity="0.25"/>
<circle cx="338.2" cy="314.6" r="1.9" fill="#2c718e" fill-opacity="0.25"/>
<circle cx="342.3" cy="308.6" r="1.9" fill="#2c718e" fill-opacity="0.25"/>
<circle cx="343.8" cy="329.2" r="1.9" fill="#2c718e" fill-opacity="0.25"/>
<circle cx="341.3" cy="308.2" r="1.9" fill="#2c718e" fill-opacity="0.25"/>
<circle cx="339.6" cy="306.6" r="1.9" fill="#2c718e" fill-opacity="0.25"/>
<circle cx="330.5" cy="293.2" r="1.9" fill="#2c718e" fill-opacity="0.25"/>
<circle cx="356.5" cy="313.8" r="1.9" fill="#2c718e" fill-opacity="0.25"/>
<circle cx="355.6" cy="325.5" r="1.9" fill="#2c718e" fill-opacity="0.25"/>
<circle cx="351.3" cy="323.0" r="1.9" fill="#2c718e" fill-opacity="0.25"/>
<circle cx="341.0" cy="303.9" r="1.9" fill="#2c718e" fill-opacity="0.25"/>
<circle cx="331.3" cy="305.8" r="1.9" fill="#2c718e" fill-opacity="0.25"/>
<circle cx="340.8" cy="316.8" r="1.9" fill="#2c718e" fill-opacity="0.25"/>
<circle cx="349.5" cy="319.0" r="1.9" fill="#2c718e" fill-opacity="0.25"/>
<circle cx="334.6" cy="327.0" r="1.9" fill="#2c718e" fill-opacity="0.25"/>
<circle cx="342.4" cy="329.4" r="1.9" fill="#2c718e" fill-opacity="0.25"/>
<circle cx="335.2" cy="319.8" r="1.9" fill="#2c718e" fill-opacity="0.25"/>
<circle cx="335.8" cy="302.2" r="1.9" fill="#2c718e" fill-opacity="0.25"/>
<circle cx="355.0" cy="317.3" r="1.9" fill="#2c718e" fill-opacity="0.25"/>
<circle cx="340.5" cy="324.5" r="1.9" fill="#2c718e" fill-opacity="0.25"/>
<circle cx="342.9" cy="330.0" r="1.9" fill="#2c718e" fill-opacity="0.25"/>
<circle cx="350.6" cy="326.7" r="1.9" fill="#2c718e" fill-opacity="0.25"/>
<circle cx="355.4" cy="299.3" r="1.9" fill="#2c718e" fill-opacity="0.25"/>
<circle cx="350.3" cy="316.5" r="1.9" fill="#2c718e" fill-opacity="0.25"/>
<circle cx="350.9" cy="297.1" r="1.9" fill="#2c718e" fill-opacity="0.25"/>
<circle cx="353.6" cy="318.5" r="1.9" fill="#2c718e" fill-opacity="0.25"/>
<circle cx="349.8" cy="284.3" r="1.9" fill="#2c718e" fill-opacity="0.25"/>
<circle cx="335.0" cy="317.2" r="1.9" fill="#2c718e" fill-opacity="0.25"/>
<circle cx="355.9" cy="299.4" r="1.9" fill="#2c718e" fill-opacity="0.25"/>
<circle cx="341.0" cy="307.1" r="1.9" fill="#2c718e" fill-opacity="0.25"/>
<circle cx="337.7" cy="322.4" r="1.9" fill="#2c718e" fill-opacity="0.25"/>
<circle cx="354.2" cy="308.5" r="1.9" fill="#2c718e" fill-opacity="0.25"/>
<circle cx="334.7" cy="316.4" r="1.9" fill="#2c718e" fill-opacity="0.25"/>
<circle cx="330.0" cy="310.9" r="1.9" fill="#2c718e" fill-opacity="0.25"/>
<circle cx="340.0" cy="328.3" r="1.9" fill="#2c718e" fill-opacity="0.25"/>
<circle cx="347.9" cy="306.5" r="1.9" fill="#2c718e" fill-opacity="0.25"/>
<circle cx="338.4" cy="329.8" r="1.9" fill="#2c718e" fill-opacity="0.25"/>
<circle cx="342.7" cy="318.5" r="1.9" fill="#2c718e" fill-opacity="0.25"/>
<circle cx="336.6" cy="323.6" r="1.9" fill="#2c718e" fill-opacity="0.25"/>
<circle cx="356.7" cy="311.6" r="1.9" fill="#2c718e" fill-opacity="0.25"/>
<circle cx="351.2" cy="300.3" r="1.9" fill="#2c718e" fill-opacity="0.25"/>
<circle cx="355.7" cy="308.2" r="1.9" fill="#2c718e" fill-opacity="0.25"/>
<circle cx="356.2" cy="320.9" r="1.9" fill="#2c718e" fill-opacity="0.25"/>
<circle cx="333.5" cy="305.2" r="1.9" fill="#2c718e" fill-opacity="0.25"/>
<circle cx="335.4" cy="309.6" r="1.9" fill="#2c718e" fill-opacity="0.25"/>
<circle cx="344.9" cy="302.6" r="1.9" fill="#2c718e" fill-opacity="0.25"/>
<circle cx="338.5" cy="318.8" r="1.9" fill="#2c718e" fill-opacity="0.25"/>
<circle cx="345.4" cy="325.3" r="1.9" fill="#2c718e" fill-opacity="0.25"/>
<circle cx="331.6" cy="299.4" r="1.9" fill="#2c718e" fill-opacity="0.25"/>
<circle cx="352.1" cy="308.0" r="1.9" fill="#2c718e" fill-opacity="0.25"/>
<circle cx="355.2" cy="315.5" r="1.9" fill="#2c718e" fill-opacity="0.25"/>
<circle cx="351.2" cy="307.4" r="1.9" fill="#2c718e" fill-opacity="0.25"/>
<circle cx="341.1" cy="294.3" r="1.9" fill="#2c718e" fill-opacity="0.25"/>
<circle cx="355.8" cy="327.6" r="1.9" fill="#2c718e" fill-opacity="0.25"/>
<circle cx="332.0" cy="324.9" r="1.9" fill="#2c718e" fill-opacity="0.25"/>
<circle cx="333.1" cy="321.2" r="1.9" fill="#2c718e" fill-opacity="0.25"/>
<circle cx="354.8" cy="315.9" r="1.9" fill="#2c718e" fill-opacity="0.25"/>
<circle cx="347.8" cy="312.1" r="1.9" fill="#2c718e" fill-opacity="0.25"/>
<circle cx="345.8" cy="329.7" r="1.9" fill="#2c718e" fill-opacity="0.25"/>
<circle cx="340.3" cy="330.0" r="1.9" fill="#2c718e" fill-opacity="0.25"/>
<circle cx="346.7" cy="306.6" r="1.9" fill="#2c718e" fill-opacity="0.25"/>
<circle cx="332.8" cy="319.0" r="1.9" fill="#2c718e" fill-opacity="0.25"/>
<circle cx="338.9" cy="311.8" r="1.9" fill="#2c718e" fill-opacity="0.25"/>
<circle cx="349.7" cy="313.4" r="1.9" fill="#2c718e" fill-opacity="0.25"/>
<circle cx="350.0" cy="327.7" r="1.9" fill="#2c718e" fill-opacity="0.25"/>
<circle cx="355.9" cy="306.5" r="1.9" fill="#2c718e" fill-opacity="0.25"/>
<circle cx="344.6" cy="327.5" r="1.9" fill="#2c718e" fill-opacity="0.25"/>
<circle cx="349.3" cy="325.4" r="1.9" fill="#2c718e" fill-opacity="0.25"/>
<circle cx="332.2" cy="298.0" r="1.9" fill="#2c718e" fill-opacity="0.25"/>
<circle cx="341.2" cy="323.4" r="1.9" fill="#2c718e" fill-opacity="0.25"/>
<circle cx="356.2" cy="317.8" r="1.9" fill="#2c718e" fill-opacity="0.25"/>
<circle cx="348.5" cy="299.3" r="1.9" fill="#2c718e" fill-opacity="0.25"/>
<circle cx="352.3" cy="284.5" r="1.9" fill="#2c718e" fill-opacity="0.25"/>
<circle cx="336.3" cy="309.6" r="1.9" fill="#2c718e" fill-opacity="0.25"/>
<circle cx="337.8" cy="320.3" r="1.9" fill="#2c718e" fill-opacity="0.25"/>
<circle cx="336.8" cy="328.0" r="1.9" fill="#2c718e" fill-opacity="0.25"/>
<circle cx="350.1" cy="319.2" r="1.9" fill="#2c718e" fill-opacity="0.25"/>
<circle cx="336.8" cy="312.7" r="1.9" fill="#2c718e" fill-opacity="0.25"/>
<circle cx="340.3" cy="316.1" r="1.9" fill="#2c718e" fill-opacity="0.25"/>
<circle cx="332.6" cy="310.8" r="1.9" fill="#2c718e" fill-opacity="0.25"/>
<circle cx="339.6" cy="306.5" r="1.9" fill="#2c718e" fill-opacity="0.25"/>
<circle cx="350.5" cy="305.0" r="1.9" fill="#2c718e" fill-opacity="0.25"/>
<circle cx="341.0" cy="323.9" r="1.9" fill="#2c718e" fill-opacity="0.25"/>
<circle cx="339.7" cy="328.6" r="1.9" fill="#2c718e" fill-opacity="0.25"/>
<circle cx="352.1" cy="323.7" r="1.9" fill="#2c718e" fill-opacity="0.25"/>
<circle cx="329.9" cy="328.8" r="1.9" fill="#2c718e" fill-opacity="0.25"/>
<circle cx="337.1" cy="294.6" r="1.9" fill="#2c718e" fill-opacity="0.25"/>
<circle cx="339.3" cy="324.5" r="1.9" fill="#2c718e" fill-opacity="0.25"/>
<circle cx="335.9" cy="316.3" r="1.9" fill="#2c718e" fill-opacity="0.25"/>
<circle cx="340.4" cy="325.2" r="1.9" fill="#2c718e" fill-opacity="0.25"/>
<circle cx="336.5" cy="288.8" r="1.9" fill="#2c718e" fill-opacity="0.25"/>
<circle cx="348.7" cy="309.9" r="1.9" fill="#2c718e" fill-opacity="0.25"/>
<circle cx="336.0" cy="292.3" r="1.9" fill="#2c718e" fill-opacity="0.25"/>
<circle cx="338.3" cy="322.4" r="1.9" fill="#2c718e" fill-opacity="0.25"/>
<circle cx="331.7" cy="291.4" r="1.9" fill="#2c718e" fill-opacity="0.25"/>
<circle cx="338.0" cy="321.8" r="1.9" fill="#2c718e" fill-opacity="0.25"/>
<circle cx="332.9" cy="295.0" r="1.9" fill="#2c718e" fill-opacity="0.25"/>
<circle cx="340.9" cy="327.0" r="1.9" fill="#2c718e" fill-opacity="0.25"/>
<circle cx="346.1" cy="313.9" r="1.9" fill="#2c718e" fill-opacity="0.25"/>
<circle cx="339.0" cy="325.4" r="1.9" fill="#2c718e" fill-opacity="0.25"/>
<circle cx="336.7" cy="328.9" r="1.9" fill="#2c718e" fill-opacity="0.25"/>
<circle cx="340.7" cy="300.3" r="1.9" fill="#2c718e" fill-opacity="0.25"/>
<circle cx="387.4" cy="316.6" r="1.9" fill="#277e8e" fill-opacity="0.25"/>
<circle cx="384.7" cy="324.5" r="1.9" fill="#277e8e" fill-opacity="0.25"/>
<circle cx="388.4" cy="325.3" r="1.9" fill="#277e8e" fill-opacity="0.25"/>
<circle cx="384.0" cy="327.5" r="1.9" fill="#277e8e" fill-opacity="0.25"/>
<circle cx="390.0" cy="327.5" r="1.9" fill="#277e8e" fill-opacity="0.25"/>
<circle cx="372.0" cy="325.0" r="1.9" fill="#277e8e" fill-opacity="0.25"/>
<circle cx="378.0" cy="327.0" r="1.9" fill="#277e8e" fill-opacity="0.25"/>
<circle cx="366.0" cy="324.0" r="1.9" fill="#277e8e" fill-opacity="0.25"/>
<circle cx="380.0" cy="321.0" r="1.9" fill="#277e8e" fill-opacity="0.25"/>
<circle cx="425.8" cy="311.1" r="1.9" fill="#228b8d" fill-opacity="0.25"/>
<circle cx="426.9" cy="320.3" r="1.9" fill="#228b8d" fill-opacity="0.25"/>
<circle cx="423.2" cy="324.0" r="1.9" fill="#228b8d" fill-opacity="0.25"/>
<circle cx="421.4" cy="329.5" r="1.9" fill="#228b8d" fill-opacity="0.25"/>
<circle cx="408.0" cy="321.0" r="1.9" fill="#228b8d" fill-opacity="0.25"/>
<circle cx="416.0" cy="326.0" r="1.9" fill="#228b8d" fill-opacity="0.25"/>
<circle cx="411.0" cy="316.0" r="1.9" fill="#228b8d" fill-opacity="0.25"/>
<circle cx="438.0" cy="299.5" r="1.9" fill="#1f988b" fill-opacity="0.25"/>
<circle cx="439.2" cy="302.5" r="1.9" fill="#1f988b" fill-opacity="0.25"/>
<circle cx="447.9" cy="298.8" r="1.9" fill="#1f988b" fill-opacity="0.25"/>
<circle cx="447.2" cy="303.2" r="1.9" fill="#1f988b" fill-opacity="0.25"/>
<circle cx="451.6" cy="303.8" r="1.9" fill="#1f988b" fill-opacity="0.25"/>
<circle cx="441.6" cy="309.3" r="1.9" fill="#1f988b" fill-opacity="0.25"/>
<circle cx="463.2" cy="300.6" r="1.9" fill="#1f988b" fill-opacity="0.25"/>
<circle cx="463.2" cy="308.4" r="1.9" fill="#1f988b" fill-opacity="0.25"/>
<circle cx="461.9" cy="311.1" r="1.9" fill="#1f988b" fill-opacity="0.25"/>
<circle cx="438.0" cy="316.1" r="1.9" fill="#1f988b" fill-opacity="0.25"/>
<circle cx="442.0" cy="321.2" r="1.9" fill="#1f988b" fill-opacity="0.25"/>
<circle cx="452.7" cy="314.8" r="1.9" fill="#1f988b" fill-opacity="0.25"/>
<circle cx="463.7" cy="318.5" r="1.9" fill="#1f988b" fill-opacity="0.25"/>
<circle cx="460.8" cy="324.5" r="1.9" fill="#1f988b" fill-opacity="0.25"/>
<circle cx="449.0" cy="293.5" r="1.9" fill="#1f988b" fill-opacity="0.25"/>
<circle cx="455.0" cy="307.0" r="1.9" fill="#1f988b" fill-opacity="0.25"/>
<circle cx="446.0" cy="312.0" r="1.9" fill="#1f988b" fill-opacity="0.25"/>
<circle cx="450.0" cy="319.0" r="1.9" fill="#1f988b" fill-opacity="0.25"/>
<circle cx="444.0" cy="305.0" r="1.9" fill="#1f988b" fill-opacity="0.25"/>
<circle cx="457.0" cy="297.0" r="1.9" fill="#1f988b" fill-opacity="0.25"/>
<circle cx="436.0" cy="310.0" r="1.9" fill="#1f988b" fill-opacity="0.25"/>
<circle cx="452.0" cy="324.0" r="1.9" fill="#1f988b" fill-opacity="0.25"/>
<circle cx="459.0" cy="316.0" r="1.9" fill="#1f988b" fill-opacity="0.25"/>
<circle cx="445.0" cy="298.0" r="1.9" fill="#1f988b" fill-opacity="0.25"/>
<circle cx="481.0" cy="295.5" r="1.9" fill="#20a486" fill-opacity="0.25"/>
<circle cx="495.4" cy="305.6" r="1.9" fill="#20a486" fill-opacity="0.25"/>
<circle cx="474.2" cy="313.5" r="1.9" fill="#20a486" fill-opacity="0.25"/>
<circle cx="493.5" cy="314.2" r="1.9" fill="#20a486" fill-opacity="0.25"/>
<circle cx="496.3" cy="319.4" r="1.9" fill="#20a486" fill-opacity="0.25"/>
<circle cx="496.3" cy="325.8" r="1.9" fill="#20a486" fill-opacity="0.25"/>
<circle cx="475.5" cy="325.8" r="1.9" fill="#20a486" fill-opacity="0.25"/>
<circle cx="475.5" cy="328.6" r="1.9" fill="#20a486" fill-opacity="0.25"/>
<circle cx="478.0" cy="327.0" r="1.9" fill="#20a486" fill-opacity="0.25"/>
<circle cx="488.0" cy="308.0" r="1.9" fill="#20a486" fill-opacity="0.25"/>
<circle cx="484.0" cy="320.0" r="1.9" fill="#20a486" fill-opacity="0.25"/>
<circle cx="490.0" cy="326.0" r="1.9" fill="#20a486" fill-opacity="0.25"/>
<circle cx="482.0" cy="313.0" r="1.9" fill="#20a486" fill-opacity="0.25"/>
<circle cx="486.0" cy="302.0" r="1.9" fill="#20a486" fill-opacity="0.25"/>
<circle cx="517.1" cy="278.9" r="1.9" fill="#2cb17e" fill-opacity="0.25"/>
<circle cx="509.0" cy="291.8" r="1.9" fill="#2cb17e" fill-opacity="0.25"/>
<circle cx="527.8" cy="291.8" r="1.9" fill="#2cb17e" fill-opacity="0.25"/>
<circle cx="530.0" cy="300.1" r="1.9" fill="#2cb17e" fill-opacity="0.25"/>
<circle cx="515.8" cy="298.2" r="1.9" fill="#2cb17e" fill-opacity="0.25"/>
<circle cx="534.0" cy="316.6" r="1.9" fill="#2cb17e" fill-opacity="0.25"/>
<circle cx="524.8" cy="295.6" r="1.9" fill="#2cb17e" fill-opacity="0.25"/>
<circle cx="533.6" cy="292.5" r="1.9" fill="#2cb17e" fill-opacity="0.25"/>
<circle cx="510.0" cy="313.2" r="1.9" fill="#2cb17e" fill-opacity="0.25"/>
<circle cx="525.4" cy="305.6" r="1.9" fill="#2cb17e" fill-opacity="0.25"/>
<circle cx="515.6" cy="320.8" r="1.9" fill="#2cb17e" fill-opacity="0.25"/>
<circle cx="524.1" cy="308.9" r="1.9" fill="#2cb17e" fill-opacity="0.25"/>
<circle cx="528.9" cy="305.7" r="1.9" fill="#2cb17e" fill-opacity="0.25"/>
<circle cx="527.9" cy="326.7" r="1.9" fill="#2cb17e" fill-opacity="0.25"/>
<circle cx="516.9" cy="309.8" r="1.9" fill="#2cb17e" fill-opacity="0.25"/>
<circle cx="523.2" cy="314.9" r="1.9" fill="#2cb17e" fill-opacity="0.25"/>
<circle cx="516.1" cy="328.7" r="1.9" fill="#2cb17e" fill-opacity="0.25"/>
<circle cx="510.0" cy="307.8" r="1.9" fill="#2cb17e" fill-opacity="0.25"/>
<circle cx="515.9" cy="323.0" r="1.9" fill="#2cb17e" fill-opacity="0.25"/>
<circle cx="521.1" cy="317.1" r="1.9" fill="#2cb17e" fill-opacity="0.25"/>
<circle cx="517.4" cy="303.0" r="1.9" fill="#2cb17e" fill-opacity="0.25"/>
<circle cx="508.6" cy="324.0" r="1.9" fill="#2cb17e" fill-opacity="0.25"/>
<circle cx="522.3" cy="326.0" r="1.9" fill="#2cb17e" fill-opacity="0.25"/>
<circle cx="514.4" cy="315.0" r="1.9" fill="#2cb17e" fill-opacity="0.25"/>
<circle cx="527.0" cy="329.7" r="1.9" fill="#2cb17e" fill-opacity="0.25"/>
<circle cx="534.0" cy="329.6" r="1.9" fill="#2cb17e" fill-opacity="0.25"/>
<circle cx="522.3" cy="316.4" r="1.9" fill="#2cb17e" fill-opacity="0.25"/>
<circle cx="531.8" cy="329.7" r="1.9" fill="#2cb17e" fill-opacity="0.25"/>
<circle cx="520.8" cy="318.2" r="1.9" fill="#2cb17e" fill-opacity="0.25"/>
<circle cx="526.7" cy="316.0" r="1.9" fill="#2cb17e" fill-opacity="0.25"/>
<circle cx="528.4" cy="325.0" r="1.9" fill="#2cb17e" fill-opacity="0.25"/>
<circle cx="518.5" cy="320.8" r="1.9" fill="#2cb17e" fill-opacity="0.25"/>
<circle cx="524.2" cy="323.1" r="1.9" fill="#2cb17e" fill-opacity="0.25"/>
<circle cx="524.7" cy="315.2" r="1.9" fill="#2cb17e" fill-opacity="0.25"/>
<circle cx="520.1" cy="324.8" r="1.9" fill="#2cb17e" fill-opacity="0.25"/>
<circle cx="509.6" cy="315.0" r="1.9" fill="#2cb17e" fill-opacity="0.25"/>
<circle cx="521.8" cy="320.4" r="1.9" fill="#2cb17e" fill-opacity="0.25"/>
<circle cx="519.1" cy="312.5" r="1.9" fill="#2cb17e" fill-opacity="0.25"/>
<circle cx="516.4" cy="311.2" r="1.9" fill="#2cb17e" fill-opacity="0.25"/>
<circle cx="519.7" cy="329.0" r="1.9" fill="#2cb17e" fill-opacity="0.25"/>
<circle cx="526.9" cy="314.8" r="1.9" fill="#2cb17e" fill-opacity="0.25"/>
<circle cx="508.4" cy="318.7" r="1.9" fill="#2cb17e" fill-opacity="0.25"/>
<circle cx="512.8" cy="324.8" r="1.9" fill="#2cb17e" fill-opacity="0.25"/>
<circle cx="523.7" cy="324.9" r="1.9" fill="#2cb17e" fill-opacity="0.25"/>
<circle cx="524.4" cy="326.0" r="1.9" fill="#2cb17e" fill-opacity="0.25"/>
<circle cx="519.9" cy="329.5" r="1.9" fill="#2cb17e" fill-opacity="0.25"/>
<circle cx="521.5" cy="327.8" r="1.9" fill="#2cb17e" fill-opacity="0.25"/>
<circle cx="512.7" cy="324.6" r="1.9" fill="#2cb17e" fill-opacity="0.25"/>
<circle cx="508.4" cy="323.1" r="1.9" fill="#2cb17e" fill-opacity="0.25"/>
<circle cx="530.8" cy="326.3" r="1.9" fill="#2cb17e" fill-opacity="0.25"/>
<circle cx="516.3" cy="324.8" r="1.9" fill="#2cb17e" fill-opacity="0.25"/>
<circle cx="532.5" cy="319.0" r="1.9" fill="#2cb17e" fill-opacity="0.25"/>
<circle cx="534.0" cy="319.6" r="1.9" fill="#2cb17e" fill-opacity="0.25"/>
<circle cx="533.4" cy="301.2" r="1.9" fill="#2cb17e" fill-opacity="0.25"/>
<circle cx="521.0" cy="327.2" r="1.9" fill="#2cb17e" fill-opacity="0.25"/>
<circle cx="534.6" cy="314.5" r="1.9" fill="#2cb17e" fill-opacity="0.25"/>
<circle cx="512.6" cy="323.9" r="1.9" fill="#2cb17e" fill-opacity="0.25"/>
<circle cx="515.6" cy="297.0" r="1.9" fill="#2cb17e" fill-opacity="0.25"/>
<circle cx="529.0" cy="320.0" r="1.9" fill="#2cb17e" fill-opacity="0.25"/>
<circle cx="532.7" cy="328.5" r="1.9" fill="#2cb17e" fill-opacity="0.25"/>
<circle cx="517.9" cy="324.4" r="1.9" fill="#2cb17e" fill-opacity="0.25"/>
<circle cx="508.6" cy="316.0" r="1.9" fill="#2cb17e" fill-opacity="0.25"/>
<circle cx="531.1" cy="306.1" r="1.9" fill="#2cb17e" fill-opacity="0.25"/>
<circle cx="534.3" cy="312.2" r="1.9" fill="#2cb17e" fill-opacity="0.25"/>
<circle cx="526.8" cy="325.9" r="1.9" fill="#2cb17e" fill-opacity="0.25"/>
<circle cx="514.6" cy="313.5" r="1.9" fill="#2cb17e" fill-opacity="0.25"/>
<circle cx="520.1" cy="318.8" r="1.9" fill="#2cb17e" fill-opacity="0.25"/>
<circle cx="525.7" cy="321.4" r="1.9" fill="#2cb17e" fill-opacity="0.25"/>
<circle cx="530.2" cy="319.8" r="1.9" fill="#2cb17e" fill-opacity="0.25"/>
<circle cx="530.5" cy="311.3" r="1.9" fill="#2cb17e" fill-opacity="0.25"/>
<circle cx="529.1" cy="297.0" r="1.9" fill="#2cb17e" fill-opacity="0.25"/>
<circle cx="527.7" cy="324.3" r="1.9" fill="#2cb17e" fill-opacity="0.25"/>
<circle cx="521.4" cy="302.3" r="1.9" fill="#2cb17e" fill-opacity="0.25"/>
<circle cx="523.7" cy="329.8" r="1.9" fill="#2cb17e" fill-opacity="0.25"/>
<circle cx="511.5" cy="322.5" r="1.9" fill="#2cb17e" fill-opacity="0.25"/>
<circle cx="531.7" cy="326.8" r="1.9" fill="#2cb17e" fill-opacity="0.25"/>
<circle cx="527.2" cy="326.8" r="1.9" fill="#2cb17e" fill-opacity="0.25"/>
<circle cx="525.2" cy="329.1" r="1.9" fill="#2cb17e" fill-opacity="0.25"/>
<circle cx="530.8" cy="310.5" r="1.9" fill="#2cb17e" fill-opacity="0.25"/>
<circle cx="508.0" cy="320.2" r="1.9" fill="#2cb17e" fill-opacity="0.25"/>
<circle cx="527.0" cy="298.1" r="1.9" fill="#2cb17e" fill-opacity="0.25"/>
<circle cx="525.2" cy="328.6" r="1.9" fill="#2cb17e" fill-opacity="0.25"/>
<circle cx="511.2" cy="312.7" r="1.9" fill="#2cb17e" fill-opacity="0.25"/>
<circle cx="513.6" cy="321.0" r="1.9" fill="#2cb17e" fill-opacity="0.25"/>
<circle cx="525.3" cy="325.4" r="1.9" fill="#2cb17e" fill-opacity="0.25"/>
<circle cx="531.6" cy="318.8" r="1.9" fill="#2cb17e" fill-opacity="0.25"/>
<circle cx="534.1" cy="328.4" r="1.9" fill="#2cb17e" fill-opacity="0.25"/>
<circle cx="522.0" cy="310.1" r="1.9" fill="#2cb17e" fill-opacity="0.25"/>
<circle cx="513.0" cy="309.2" r="1.9" fill="#2cb17e" fill-opacity="0.25"/>
<circle cx="521.8" cy="311.6" r="1.9" fill="#2cb17e" fill-opacity="0.25"/>
<circle cx="523.9" cy="299.0" r="1.9" fill="#2cb17e" fill-opacity="0.25"/>
<circle cx="526.8" cy="305.6" r="1.9" fill="#2cb17e" fill-opacity="0.25"/>
<circle cx="534.3" cy="319.9" r="1.9" fill="#2cb17e" fill-opacity="0.25"/>
<circle cx="517.2" cy="325.5" r="1.9" fill="#2cb17e" fill-opacity="0.25"/>
<circle cx="528.7" cy="318.9" r="1.9" fill="#2cb17e" fill-opacity="0.25"/>
<circle cx="529.6" cy="306.2" r="1.9" fill="#2cb17e" fill-opacity="0.25"/>
<circle cx="525.3" cy="305.0" r="1.9" fill="#2cb17e" fill-opacity="0.25"/>
<circle cx="508.1" cy="323.1" r="1.9" fill="#2cb17e" fill-opacity="0.25"/>
<circle cx="518.3" cy="311.3" r="1.9" fill="#2cb17e" fill-opacity="0.25"/>
<circle cx="515.0" cy="317.9" r="1.9" fill="#2cb17e" fill-opacity="0.25"/>
<circle cx="528.7" cy="327.4" r="1.9" fill="#2cb17e" fill-opacity="0.25"/>
<circle cx="527.4" cy="304.0" r="1.9" fill="#2cb17e" fill-opacity="0.25"/>
<circle cx="532.8" cy="320.5" r="1.9" fill="#2cb17e" fill-opacity="0.25"/>
<circle cx="528.9" cy="325.4" r="1.9" fill="#2cb17e" fill-opacity="0.25"/>
<circle cx="521.7" cy="328.4" r="1.9" fill="#2cb17e" fill-opacity="0.25"/>
<circle cx="534.7" cy="312.1" r="1.9" fill="#2cb17e" fill-opacity="0.25"/>
<circle cx="527.6" cy="330.0" r="1.9" fill="#2cb17e" fill-opacity="0.25"/>
<circle cx="522.3" cy="314.5" r="1.9" fill="#2cb17e" fill-opacity="0.25"/>
<circle cx="526.8" cy="322.6" r="1.9" fill="#2cb17e" fill-opacity="0.25"/>
<circle cx="509.6" cy="329.3" r="1.9" fill="#2cb17e" fill-opacity="0.25"/>
<circle cx="528.8" cy="318.5" r="1.9" fill="#2cb17e" fill-opacity="0.25"/>
<circle cx="524.9" cy="324.7" r="1.9" fill="#2cb17e" fill-opacity="0.25"/>
<circle cx="520.6" cy="315.2" r="1.9" fill="#2cb17e" fill-opacity="0.25"/>
<circle cx="511.6" cy="328.8" r="1.9" fill="#2cb17e" fill-opacity="0.25"/>
<circle cx="514.7" cy="300.6" r="1.9" fill="#2cb17e" fill-opacity="0.25"/>
<circle cx="521.1" cy="327.0" r="1.9" fill="#2cb17e" fill-opacity="0.25"/>
<circle cx="508.1" cy="328.4" r="1.9" fill="#2cb17e" fill-opacity="0.25"/>
<circle cx="526.0" cy="329.9" r="1.9" fill="#2cb17e" fill-opacity="0.25"/>
<circle cx="511.8" cy="324.4" r="1.9" fill="#2cb17e" fill-opacity="0.25"/>
<circle cx="521.9" cy="318.3" r="1.9" fill="#2cb17e" fill-opacity="0.25"/>
<circle cx="530.2" cy="326.1" r="1.9" fill="#2cb17e" fill-opacity="0.25"/>
<circle cx="533.2" cy="329.3" r="1.9" fill="#2cb17e" fill-opacity="0.25"/>
<circle cx="508.3" cy="324.1" r="1.9" fill="#2cb17e" fill-opacity="0.25"/>
<circle cx="520.9" cy="323.1" r="1.9" fill="#2cb17e" fill-opacity="0.25"/>
<circle cx="519.0" cy="326.5" r="1.9" fill="#2cb17e" fill-opacity="0.25"/>
<circle cx="516.2" cy="322.0" r="1.9" fill="#2cb17e" fill-opacity="0.25"/>
<circle cx="515.4" cy="299.9" r="1.9" fill="#2cb17e" fill-opacity="0.25"/>
<circle cx="526.3" cy="322.2" r="1.9" fill="#2cb17e" fill-opacity="0.25"/>
<circle cx="531.9" cy="313.6" r="1.9" fill="#2cb17e" fill-opacity="0.25"/>
<circle cx="520.5" cy="327.2" r="1.9" fill="#2cb17e" fill-opacity="0.25"/>
<circle cx="517.2" cy="317.8" r="1.9" fill="#2cb17e" fill-opacity="0.25"/>
<circle cx="533.8" cy="325.2" r="1.9" fill="#2cb17e" fill-opacity="0.25"/>
<circle cx="527.4" cy="329.6" r="1.9" fill="#2cb17e" fill-opacity="0.25"/>
<circle cx="533.7" cy="321.7" r="1.9" fill="#2cb17e" fill-opacity="0.25"/>
<circle cx="511.5" cy="322.9" r="1.9" fill="#2cb17e" fill-opacity="0.25"/>
<circle cx="522.9" cy="300.2" r="1.9" fill="#2cb17e" fill-opacity="0.25"/>
<circle cx="517.9" cy="320.8" r="1.9" fill="#2cb17e" fill-opacity="0.25"/>
<circle cx="528.4" cy="314.3" r="1.9" fill="#2cb17e" fill-opacity="0.25"/>
<circle cx="510.5" cy="323.1" r="1.9" fill="#2cb17e" fill-opacity="0.25"/>
<circle cx="530.7" cy="307.1" r="1.9" fill="#2cb17e" fill-opacity="0.25"/>
<circle cx="521.2" cy="328.1" r="1.9" fill="#2cb17e" fill-opacity="0.25"/>
<circle cx="530.6" cy="307.0" r="1.9" fill="#2cb17e" fill-opacity="0.25"/>
<circle cx="569.7" cy="292.5" r="1.9" fill="#3fbc73" fill-opacity="0.25"/>
<circle cx="570.1" cy="297.4" r="1.9" fill="#3fbc73" fill-opacity="0.25"/>
<circle cx="549.3" cy="299.6" r="1.9" fill="#3fbc73" fill-opacity="0.25"/>
<circle cx="563.1" cy="326.0" r="1.9" fill="#3fbc73" fill-opacity="0.25"/>
<circle cx="559.7" cy="296.3" r="1.9" fill="#3fbc73" fill-opacity="0.25"/>
<circle cx="558.9" cy="309.1" r="1.9" fill="#3fbc73" fill-opacity="0.25"/>
<circle cx="552.2" cy="290.0" r="1.9" fill="#3fbc73" fill-opacity="0.25"/>
<circle cx="554.7" cy="313.6" r="1.9" fill="#3fbc73" fill-opacity="0.25"/>
<circle cx="551.6" cy="293.6" r="1.9" fill="#3fbc73" fill-opacity="0.25"/>
<circle cx="552.1" cy="289.6" r="1.9" fill="#3fbc73" fill-opacity="0.25"/>
<circle cx="554.3" cy="317.7" r="1.9" fill="#3fbc73" fill-opacity="0.25"/>
<circle cx="547.1" cy="320.3" r="1.9" fill="#3fbc73" fill-opacity="0.25"/>
<circle cx="546.2" cy="298.3" r="1.9" fill="#3fbc73" fill-opacity="0.25"/>
<circle cx="570.3" cy="318.2" r="1.9" fill="#3fbc73" fill-opacity="0.25"/>
<circle cx="547.2" cy="293.9" r="1.9" fill="#3fbc73" fill-opacity="0.25"/>
<circle cx="563.5" cy="309.8" r="1.9" fill="#3fbc73" fill-opacity="0.25"/>
<circle cx="550.4" cy="315.1" r="1.9" fill="#3fbc73" fill-opacity="0.25"/>
<circle cx="546.6" cy="324.0" r="1.9" fill="#3fbc73" fill-opacity="0.25"/>
<circle cx="549.3" cy="322.0" r="1.9" fill="#3fbc73" fill-opacity="0.25"/>
<circle cx="543.8" cy="319.9" r="1.9" fill="#3fbc73" fill-opacity="0.25"/>
<circle cx="551.1" cy="311.4" r="1.9" fill="#3fbc73" fill-opacity="0.25"/>
<circle cx="545.8" cy="294.9" r="1.9" fill="#3fbc73" fill-opacity="0.25"/>
<circle cx="553.1" cy="325.7" r="1.9" fill="#3fbc73" fill-opacity="0.25"/>
<circle cx="565.3" cy="309.2" r="1.9" fill="#3fbc73" fill-opacity="0.25"/>
<circle cx="564.8" cy="310.2" r="1.9" fill="#3fbc73" fill-opacity="0.25"/>
<circle cx="547.1" cy="290.1" r="1.9" fill="#3fbc73" fill-opacity="0.25"/>
<circle cx="551.7" cy="326.7" r="1.9" fill="#3fbc73" fill-opacity="0.25"/>
<circle cx="548.4" cy="305.0" r="1.9" fill="#3fbc73" fill-opacity="0.25"/>
<circle cx="561.0" cy="309.8" r="1.9" fill="#3fbc73" fill-opacity="0.25"/>
<circle cx="558.5" cy="292.8" r="1.9" fill="#3fbc73" fill-opacity="0.25"/>
<circle cx="555.1" cy="322.7" r="1.9" fill="#3fbc73" fill-opacity="0.25"/>
<circle cx="557.4" cy="312.5" r="1.9" fill="#3fbc73" fill-opacity="0.25"/>
<circle cx="563.2" cy="321.1" r="1.9" fill="#3fbc73" fill-opacity="0.25"/>
<circle cx="565.7" cy="303.7" r="1.9" fill="#3fbc73" fill-opacity="0.25"/>
<circle cx="544.5" cy="300.3" r="1.9" fill="#3fbc73" fill-opacity="0.25"/>
<circle cx="562.9" cy="289.3" r="1.9" fill="#3fbc73" fill-opacity="0.25"/>
<circle cx="557.3" cy="306.1" r="1.9" fill="#3fbc73" fill-opacity="0.25"/>
<circle cx="568.7" cy="328.3" r="1.9" fill="#3fbc73" fill-opacity="0.25"/>
<circle cx="549.1" cy="289.3" r="1.9" fill="#3fbc73" fill-opacity="0.25"/>
<circle cx="561.4" cy="310.7" r="1.9" fill="#3fbc73" fill-opacity="0.25"/>
<circle cx="550.8" cy="295.5" r="1.9" fill="#3fbc73" fill-opacity="0.25"/>
<circle cx="551.1" cy="299.7" r="1.9" fill="#3fbc73" fill-opacity="0.25"/>
<circle cx="568.0" cy="319.2" r="1.9" fill="#3fbc73" fill-opacity="0.25"/>
<circle cx="551.1" cy="322.8" r="1.9" fill="#3fbc73" fill-opacity="0.25"/>
<circle cx="551.5" cy="294.1" r="1.9" fill="#3fbc73" fill-opacity="0.25"/>
<circle cx="549.0" cy="314.8" r="1.9" fill="#3fbc73" fill-opacity="0.25"/>
<circle cx="567.3" cy="300.0" r="1.9" fill="#3fbc73" fill-opacity="0.25"/>
<circle cx="561.6" cy="315.7" r="1.9" fill="#3fbc73" fill-opacity="0.25"/>
<circle cx="555.6" cy="302.6" r="1.9" fill="#3fbc73" fill-opacity="0.25"/>
<circle cx="552.3" cy="299.1" r="1.9" fill="#3fbc73" fill-opacity="0.25"/>
<circle cx="550.9" cy="321.7" r="1.9" fill="#3fbc73" fill-opacity="0.25"/>
<circle cx="560.5" cy="318.5" r="1.9" fill="#3fbc73" fill-opacity="0.25"/>
<circle cx="566.9" cy="296.6" r="1.9" fill="#3fbc73" fill-opacity="0.25"/>
<circle cx="565.2" cy="300.6" r="1.9" fill="#3fbc73" fill-opacity="0.25"/>
<circle cx="551.0" cy="305.8" r="1.9" fill="#3fbc73" fill-opacity="0.25"/>
<circle cx="545.0" cy="301.7" r="1.9" fill="#3fbc73" fill-opacity="0.25"/>
<circle cx="547.5" cy="314.9" r="1.9" fill="#3fbc73" fill-opacity="0.25"/>
<circle cx="567.7" cy="298.7" r="1.9" fill="#3fbc73" fill-opacity="0.25"/>
<circle cx="556.1" cy="310.9" r="1.9" fill="#3fbc73" fill-opacity="0.25"/>
<circle cx="548.2" cy="282.5" r="1.9" fill="#3fbc73" fill-opacity="0.25"/>
<circle cx="568.7" cy="287.5" r="1.9" fill="#3fbc73" fill-opacity="0.25"/>
<circle cx="556.1" cy="299.2" r="1.9" fill="#3fbc73" fill-opacity="0.25"/>
<circle cx="547.3" cy="321.2" r="1.9" fill="#3fbc73" fill-opacity="0.25"/>
<circle cx="543.8" cy="311.4" r="1.9" fill="#3fbc73" fill-opacity="0.25"/>
<circle cx="565.3" cy="310.2" r="1.9" fill="#3fbc73" fill-opacity="0.25"/>
<circle cx="553.1" cy="324.9" r="1.9" fill="#3fbc73" fill-opacity="0.25"/>
<circle cx="556.6" cy="311.2" r="1.9" fill="#3fbc73" fill-opacity="0.25"/>
<circle cx="564.6" cy="290.6" r="1.9" fill="#3fbc73" fill-opacity="0.25"/>
<circle cx="551.1" cy="309.7" r="1.9" fill="#3fbc73" fill-opacity="0.25"/>
<circle cx="551.4" cy="313.0" r="1.9" fill="#3fbc73" fill-opacity="0.25"/>
<circle cx="565.3" cy="307.3" r="1.9" fill="#3fbc73" fill-opacity="0.25"/>
<circle cx="553.2" cy="287.8" r="1.9" fill="#3fbc73" fill-opacity="0.25"/>
<circle cx="545.1" cy="280.3" r="1.9" fill="#3fbc73" fill-opacity="0.25"/>
<circle cx="556.4" cy="300.2" r="1.9" fill="#3fbc73" fill-opacity="0.25"/>
<circle cx="569.5" cy="304.1" r="1.9" fill="#3fbc73" fill-opacity="0.25"/>
<circle cx="563.7" cy="302.5" r="1.9" fill="#3fbc73" fill-opacity="0.25"/>
<circle cx="557.4" cy="304.1" r="1.9" fill="#3fbc73" fill-opacity="0.25"/>
<circle cx="556.9" cy="306.9" r="1.9" fill="#3fbc73" fill-opacity="0.25"/>
<circle cx="558.8" cy="298.5" r="1.9" fill="#3fbc73" fill-opacity="0.25"/>
<circle cx="552.0" cy="308.4" r="1.9" fill="#3fbc73" fill-opacity="0.25"/>
<circle cx="555.1" cy="309.1" r="1.9" fill="#3fbc73" fill-opacity="0.25"/>
<circle cx="553.8" cy="311.5" r="1.9" fill="#3fbc73" fill-opacity="0.25"/>
<circle cx="560.0" cy="298.5" r="1.9" fill="#3fbc73" fill-opacity="0.25"/>
<circle cx="548.3" cy="321.8" r="1.9" fill="#3fbc73" fill-opacity="0.25"/>
<circle cx="550.1" cy="282.8" r="1.9" fill="#3fbc73" fill-opacity="0.25"/>
<circle cx="561.3" cy="323.1" r="1.9" fill="#3fbc73" fill-opacity="0.25"/>
<circle cx="552.8" cy="308.2" r="1.9" fill="#3fbc73" fill-opacity="0.25"/>
<circle cx="551.1" cy="326.1" r="1.9" fill="#3fbc73" fill-opacity="0.25"/>
<circle cx="555.7" cy="324.9" r="1.9" fill="#3fbc73" fill-opacity="0.25"/>
<circle cx="546.0" cy="309.2" r="1.9" fill="#3fbc73" fill-opacity="0.25"/>
<circle cx="548.9" cy="285.4" r="1.9" fill="#3fbc73" fill-opacity="0.25"/>
<circle cx="551.2" cy="305.8" r="1.9" fill="#3fbc73" fill-opacity="0.25"/>
<circle cx="564.1" cy="288.2" r="1.9" fill="#3fbc73" fill-opacity="0.25"/>
<circle cx="599.9" cy="273.4" r="1.9" fill="#5ac864" fill-opacity="0.25"/>
<circle cx="583.9" cy="290.0" r="1.9" fill="#5ac864" fill-opacity="0.25"/>
<circle cx="605.4" cy="287.8" r="1.9" fill="#5ac864" fill-opacity="0.25"/>
<circle cx="601.4" cy="293.6" r="1.9" fill="#5ac864" fill-opacity="0.25"/>
<circle cx="582.0" cy="300.1" r="1.9" fill="#5ac864" fill-opacity="0.25"/>
<circle cx="600.4" cy="299.2" r="1.9" fill="#5ac864" fill-opacity="0.25"/>
<circle cx="599.5" cy="303.8" r="1.9" fill="#5ac864" fill-opacity="0.25"/>
<circle cx="606.9" cy="307.4" r="1.9" fill="#5ac864" fill-opacity="0.25"/>
<circle cx="599.9" cy="312.4" r="1.9" fill="#5ac864" fill-opacity="0.25"/>
<circle cx="581.5" cy="324.9" r="1.9" fill="#5ac864" fill-opacity="0.25"/>
<circle cx="592.0" cy="321.0" r="1.9" fill="#5ac864" fill-opacity="0.25"/>
<circle cx="594.0" cy="283.0" r="1.9" fill="#5ac864" fill-opacity="0.25"/>
<circle cx="588.0" cy="310.0" r="1.9" fill="#5ac864" fill-opacity="0.25"/>
<circle cx="596.0" cy="327.0" r="1.9" fill="#5ac864" fill-opacity="0.25"/>
<circle cx="586.0" cy="275.0" r="1.9" fill="#5ac864" fill-opacity="0.25"/>
<circle cx="603.0" cy="318.0" r="1.9" fill="#5ac864" fill-opacity="0.25"/>
<circle cx="590.0" cy="296.0" r="1.9" fill="#5ac864" fill-opacity="0.25"/>
<circle cx="584.0" cy="315.0" r="1.9" fill="#5ac864" fill-opacity="0.25"/>
<circle cx="598.0" cy="290.0" r="1.9" fill="#5ac864" fill-opacity="0.25"/>
<circle cx="593.0" cy="329.0" r="1.9" fill="#5ac864" fill-opacity="0.25"/>
<circle cx="580.0" cy="306.0" r="1.9" fill="#5ac864" fill-opacity="0.25"/>
<circle cx="595.0" cy="270.0" r="1.9" fill="#5ac864" fill-opacity="0.25"/>
<circle cx="588.0" cy="285.0" r="1.9" fill="#5ac864" fill-opacity="0.25"/>
<circle cx="623.9" cy="299.2" r="1.9" fill="#7ad151" fill-opacity="0.25"/>
<circle cx="635.0" cy="304.7" r="1.9" fill="#7ad151" fill-opacity="0.25"/>
<circle cx="621.2" cy="309.8" r="1.9" fill="#7ad151" fill-opacity="0.25"/>
<circle cx="638.6" cy="315.3" r="1.9" fill="#7ad151" fill-opacity="0.25"/>
<circle cx="637.3" cy="319.0" r="1.9" fill="#7ad151" fill-opacity="0.25"/>
<circle cx="616.6" cy="324.5" r="1.9" fill="#7ad151" fill-opacity="0.25"/>
<circle cx="641.8" cy="328.6" r="1.9" fill="#7ad151" fill-opacity="0.25"/>
<circle cx="626.0" cy="321.0" r="1.9" fill="#7ad151" fill-opacity="0.25"/>
<circle cx="630.0" cy="323.0" r="1.9" fill="#7ad151" fill-opacity="0.25"/>
<circle cx="628.0" cy="312.0" r="1.9" fill="#7ad151" fill-opacity="0.25"/>
<circle cx="658.9" cy="290.0" r="1.9" fill="#9bd93c" fill-opacity="0.25"/>
<circle cx="670.5" cy="305.0" r="1.9" fill="#9bd93c" fill-opacity="0.25"/>
<circle cx="653.4" cy="320.3" r="1.9" fill="#9bd93c" fill-opacity="0.25"/>
<circle cx="677.3" cy="317.9" r="1.9" fill="#9bd93c" fill-opacity="0.25"/>
<circle cx="650.6" cy="329.0" r="1.9" fill="#9bd93c" fill-opacity="0.25"/>
<circle cx="667.2" cy="324.9" r="1.9" fill="#9bd93c" fill-opacity="0.25"/>
<circle cx="664.0" cy="326.0" r="1.9" fill="#9bd93c" fill-opacity="0.25"/>
<circle cx="660.0" cy="322.0" r="1.9" fill="#9bd93c" fill-opacity="0.25"/>
<circle cx="671.0" cy="320.0" r="1.9" fill="#9bd93c" fill-opacity="0.25"/>
<circle cx="657.0" cy="310.0" r="1.9" fill="#9bd93c" fill-opacity="0.25"/>
<circle cx="666.0" cy="314.0" r="1.9" fill="#9bd93c" fill-opacity="0.25"/>
<circle cx="662.0" cy="329.0" r="1.9" fill="#9bd93c" fill-opacity="0.25"/>
<circle cx="674.0" cy="327.0" r="1.9" fill="#9bd93c" fill-opacity="0.25"/>
<path d="M92.58,284.40 C92.46,285.63 92.21,289.03 91.88,291.80 C91.56,294.57 91.02,297.93 90.63,301.00 C90.24,304.07 89.79,307.13 89.53,310.20 C89.27,313.27 89.13,316.95 89.08,319.40 C89.03,321.85 88.96,323.37 89.23,324.90 C89.50,326.43 90.48,327.98 90.73,328.60 L96.63,328.60 C96.88,327.98 97.86,326.43 98.13,324.90 C98.41,323.37 98.33,321.85 98.28,319.40 C98.23,316.95 98.09,313.27 97.83,310.20 C97.57,307.13 97.12,304.07 96.73,301.00 C96.34,297.93 95.81,294.57 95.48,291.80 C95.16,289.03 94.90,285.63 94.78,284.40 Z" fill="#fff" fill-opacity="0.25" stroke="#000" stroke-width="0.85" stroke-linejoin="round"/>
<path d="M127.92,268.20 C127.69,269.07 126.97,271.35 126.52,273.40 C126.07,275.45 125.35,278.07 125.22,280.50 C125.09,282.93 125.45,285.42 125.72,288.00 C125.99,290.58 126.57,293.17 126.82,296.00 C127.07,298.83 127.20,301.83 127.22,305.00 C127.24,308.17 126.94,311.68 126.92,315.00 C126.90,318.32 127.10,322.57 127.12,324.90 C127.14,327.23 127.04,328.32 127.02,329.00 L131.62,329.00 C131.60,328.32 131.50,327.23 131.52,324.90 C131.54,322.57 131.74,318.32 131.72,315.00 C131.70,311.68 131.40,308.17 131.42,305.00 C131.44,301.83 131.57,298.83 131.82,296.00 C132.07,293.17 132.65,290.58 132.92,288.00 C133.19,285.42 133.55,282.93 133.42,280.50 C133.29,278.07 132.57,275.45 132.12,273.40 C131.67,271.35 130.95,269.07 130.72,268.20 Z" fill="#fff" fill-opacity="0.25" stroke="#000" stroke-width="0.85" stroke-linejoin="round"/>
<path d="M164.31,283.50 C164.12,285.80 163.58,292.85 163.16,297.30 C162.74,301.75 162.18,306.67 161.76,310.20 C161.34,313.73 161.04,316.05 160.66,318.50 C160.28,320.95 159.56,323.13 159.46,324.90 C159.36,326.67 159.96,328.40 160.06,329.10 L169.86,329.10 C169.96,328.40 170.56,326.67 170.46,324.90 C170.36,323.13 169.64,320.95 169.26,318.50 C168.88,316.05 168.58,313.73 168.16,310.20 C167.74,306.67 167.19,301.75 166.76,297.30 C166.34,292.85 165.80,285.80 165.61,283.50 Z" fill="#fff" fill-opacity="0.25" stroke="#000" stroke-width="0.85" stroke-linejoin="round"/>
<path d="M200.48,234.60 C200.46,240.88 200.50,264.73 200.35,272.30 C200.20,279.87 199.89,276.38 199.60,280.00 C199.31,283.62 198.87,289.53 198.60,294.00 C198.33,298.47 198.17,303.08 198.00,306.80 C197.83,310.52 197.80,313.77 197.60,316.30 C197.40,318.83 197.00,320.38 196.80,322.00 C196.60,323.62 196.40,324.77 196.40,326.00 C196.40,327.23 196.73,328.83 196.80,329.40 L204.40,329.40 C204.47,328.83 204.80,327.23 204.80,326.00 C204.80,324.77 204.60,323.62 204.40,322.00 C204.20,320.38 203.80,318.83 203.60,316.30 C203.40,313.77 203.37,310.52 203.20,306.80 C203.03,303.08 202.87,298.47 202.60,294.00 C202.33,289.53 201.89,283.62 201.60,280.00 C201.31,276.38 201.00,279.87 200.85,272.30 C200.70,264.73 200.74,240.88 200.72,234.60 Z" fill="#fff" fill-opacity="0.25" stroke="#000" stroke-width="0.85" stroke-linejoin="round"/>
<path d="M233.89,267.40 C234.19,269.13 235.39,275.53 235.69,277.80 C235.99,280.07 235.83,279.15 235.69,281.00 C235.55,282.85 235.46,286.52 234.84,288.90 C234.22,291.28 232.58,293.47 231.99,295.30 C231.40,297.13 231.41,298.75 231.29,299.90 C231.17,301.05 230.96,300.13 231.29,302.20 C231.62,304.27 232.83,308.62 233.29,312.30 C233.75,315.98 233.92,322.30 234.04,324.30 L238.44,324.30 C238.56,322.30 238.73,315.98 239.19,312.30 C239.65,308.62 240.86,304.27 241.19,302.20 C241.52,300.13 241.31,301.05 241.19,299.90 C241.07,298.75 241.08,297.13 240.49,295.30 C239.90,293.47 238.26,291.28 237.64,288.90 C237.02,286.52 236.93,282.85 236.79,281.00 C236.65,279.15 236.49,280.07 236.79,277.80 C237.09,275.53 238.29,269.13 238.59,267.40 Z" fill="#fff" fill-opacity="0.25" stroke="#000" stroke-width="0.85" stroke-linejoin="round"/>
<path d="M270.48,261.60 C270.56,263.38 271.00,268.98 270.93,272.30 C270.86,275.62 270.54,278.43 270.08,281.50 C269.62,284.57 268.56,288.02 268.18,290.70 C267.80,293.38 267.55,294.30 267.78,297.60 C268.01,300.90 269.20,307.13 269.58,310.50 C269.96,313.87 270.08,314.80 270.08,317.80 C270.08,320.80 269.66,326.72 269.58,328.50 L274.18,328.50 C274.10,326.72 273.68,320.80 273.68,317.80 C273.68,314.80 273.80,313.87 274.18,310.50 C274.56,307.13 275.75,300.90 275.98,297.60 C276.21,294.30 275.96,293.38 275.58,290.70 C275.20,288.02 274.14,284.57 273.68,281.50 C273.22,278.43 272.90,275.62 272.83,272.30 C272.76,268.98 273.20,263.38 273.28,261.60 Z" fill="#fff" fill-opacity="0.25" stroke="#000" stroke-width="0.85" stroke-linejoin="round"/>
<path d="M305.72,278.60 C305.65,280.18 305.64,284.98 305.32,288.10 C305.00,291.22 304.12,294.85 303.82,297.30 C303.52,299.75 303.37,300.65 303.52,302.80 C303.67,304.95 304.42,307.43 304.72,310.20 C305.02,312.97 305.15,316.40 305.32,319.40 C305.49,322.40 305.65,326.73 305.72,328.20 L309.32,328.20 C309.39,326.73 309.55,322.40 309.72,319.40 C309.89,316.40 310.02,312.97 310.32,310.20 C310.62,307.43 311.37,304.95 311.52,302.80 C311.67,300.65 311.52,299.75 311.22,297.30 C310.92,294.85 310.04,291.22 309.72,288.10 C309.40,284.98 309.39,280.18 309.32,278.60 Z" fill="#fff" fill-opacity="0.25" stroke="#000" stroke-width="0.85" stroke-linejoin="round"/>
<path d="M343.06,271.20 C343.02,275.25 343.10,290.53 342.81,295.50 C342.52,300.47 341.82,298.55 341.31,301.00 C340.80,303.45 340.32,307.13 339.76,310.20 C339.20,313.27 338.62,316.63 337.96,319.40 C337.30,322.17 335.99,325.12 335.81,326.80 C335.63,328.48 336.73,329.05 336.91,329.50 L349.41,329.50 C349.59,329.05 350.69,328.48 350.51,326.80 C350.34,325.12 349.02,322.17 348.36,319.40 C347.70,316.63 347.12,313.27 346.56,310.20 C346.00,307.13 345.52,303.45 345.01,301.00 C344.50,298.55 343.80,300.47 343.51,295.50 C343.22,290.53 343.30,275.25 343.26,271.20 Z" fill="#fff" fill-opacity="0.25" stroke="#000" stroke-width="0.85" stroke-linejoin="round"/>
<path d="M372.80,316.60 C372.57,317.07 372.67,318.47 371.45,319.40 C370.23,320.33 366.96,321.35 365.50,322.20 C364.04,323.05 362.94,323.73 362.70,324.50 C362.46,325.27 363.13,326.18 364.05,326.80 C364.97,327.42 367.51,327.97 368.20,328.20 L389.40,328.20 C390.09,327.97 392.63,327.42 393.55,326.80 C394.47,326.18 395.14,325.27 394.90,324.50 C394.66,323.73 393.56,323.05 392.10,322.20 C390.64,321.35 387.37,320.33 386.15,319.40 C384.93,318.47 385.03,317.07 384.80,316.60 Z" fill="#fff" fill-opacity="0.25" stroke="#000" stroke-width="0.85" stroke-linejoin="round"/>
<path d="M409.84,311.10 C409.71,311.57 409.58,312.67 409.09,313.90 C408.60,315.13 407.50,317.12 406.89,318.50 C406.28,319.88 405.46,320.98 405.44,322.20 C405.42,323.42 406.17,324.58 406.74,325.80 C407.31,327.02 408.53,328.88 408.89,329.50 L419.99,329.50 C420.35,328.88 421.56,327.02 422.14,325.80 C422.71,324.58 423.46,323.42 423.44,322.20 C423.42,320.98 422.60,319.88 421.99,318.50 C421.38,317.12 420.28,315.13 419.79,313.90 C419.30,312.67 419.17,311.57 419.04,311.10 Z" fill="#fff" fill-opacity="0.25" stroke="#000" stroke-width="0.85" stroke-linejoin="round"/>
<path d="M448.68,293.30 C448.38,293.97 447.56,295.40 446.88,297.30 C446.20,299.20 445.01,302.25 444.58,304.70 C444.15,307.15 443.93,309.55 444.28,312.00 C444.63,314.45 445.97,317.25 446.68,319.40 C447.39,321.55 448.22,323.98 448.53,324.90 L451.63,324.90 C451.94,323.98 452.77,321.55 453.48,319.40 C454.19,317.25 455.53,314.45 455.88,312.00 C456.23,309.55 456.01,307.15 455.58,304.70 C455.15,302.25 453.96,299.20 453.28,297.30 C452.60,295.40 451.78,293.97 451.48,293.30 Z" fill="#fff" fill-opacity="0.25" stroke="#000" stroke-width="0.85" stroke-linejoin="round"/>
<path d="M484.62,295.50 C484.55,296.72 484.64,300.65 484.17,302.80 C483.70,304.95 482.48,306.55 481.77,308.40 C481.06,310.25 480.26,311.77 479.92,313.90 C479.58,316.03 479.57,319.22 479.72,321.20 C479.87,323.18 480.54,324.50 480.82,325.80 C481.10,327.10 481.32,328.47 481.42,329.00 L490.02,329.00 C490.12,328.47 490.34,327.10 490.62,325.80 C490.90,324.50 491.57,323.18 491.72,321.20 C491.87,319.22 491.86,316.03 491.52,313.90 C491.18,311.77 490.38,310.25 489.67,308.40 C488.96,306.55 487.75,304.95 487.27,302.80 C486.80,300.65 486.90,296.72 486.82,295.50 Z" fill="#fff" fill-opacity="0.25" stroke="#000" stroke-width="0.85" stroke-linejoin="round"/>
<path d="M521.26,278.90 C521.18,280.75 521.05,286.62 520.76,290.00 C520.47,293.38 520.10,296.13 519.51,299.20 C518.92,302.27 518.02,305.33 517.21,308.40 C516.40,311.47 515.28,314.85 514.66,317.60 C514.04,320.35 513.47,322.92 513.51,324.90 C513.55,326.88 514.68,328.73 514.91,329.50 L527.81,329.50 C528.04,328.73 529.17,326.88 529.21,324.90 C529.25,322.92 528.68,320.35 528.06,317.60 C527.44,314.85 526.32,311.47 525.51,308.40 C524.70,305.33 523.80,302.27 523.21,299.20 C522.62,296.13 522.25,293.38 521.96,290.00 C521.67,286.62 521.54,280.75 521.46,278.90 Z" fill="#fff" fill-opacity="0.25" stroke="#000" stroke-width="0.85" stroke-linejoin="round"/>
<path d="M556.90,276.20 C556.84,278.18 556.92,284.88 556.55,288.10 C556.18,291.32 555.45,292.73 554.70,295.50 C553.95,298.27 552.82,301.63 552.05,304.70 C551.28,307.77 549.95,311.15 550.10,313.90 C550.25,316.65 552.03,318.60 552.95,321.20 C553.88,323.80 555.20,328.12 555.65,329.50 L558.35,329.50 C558.80,328.12 560.12,323.80 561.05,321.20 C561.97,318.60 563.75,316.65 563.90,313.90 C564.05,311.15 562.72,307.77 561.95,304.70 C561.18,301.63 560.05,298.27 559.30,295.50 C558.55,292.73 557.82,291.32 557.45,288.10 C557.08,284.88 557.16,278.18 557.10,276.20 Z" fill="#fff" fill-opacity="0.25" stroke="#000" stroke-width="0.85" stroke-linejoin="round"/>
<path d="M591.44,268.80 C591.33,270.48 591.10,275.07 590.79,278.90 C590.48,282.73 589.69,287.82 589.59,291.80 C589.49,295.78 589.99,298.82 590.19,302.80 C590.39,306.78 590.75,312.32 590.79,315.70 C590.83,319.08 590.44,320.95 590.44,323.10 C590.44,325.25 590.73,327.68 590.79,328.60 L594.49,328.60 C594.55,327.68 594.84,325.25 594.84,323.10 C594.84,320.95 594.45,319.08 594.49,315.70 C594.53,312.32 594.89,306.78 595.09,302.80 C595.29,298.82 595.79,295.78 595.69,291.80 C595.59,287.82 594.80,282.73 594.49,278.90 C594.18,275.07 593.95,270.48 593.84,268.80 Z" fill="#fff" fill-opacity="0.25" stroke="#000" stroke-width="0.85" stroke-linejoin="round"/>
<path d="M625.98,299.20 C625.82,300.42 625.61,304.05 625.03,306.50 C624.45,308.95 623.16,311.60 622.48,313.90 C621.80,316.20 620.80,318.32 620.93,320.30 C621.05,322.28 622.51,324.42 623.23,325.80 C623.95,327.18 624.90,328.13 625.23,328.60 L631.33,328.60 C631.66,328.13 632.61,327.18 633.33,325.80 C634.05,324.42 635.50,322.28 635.63,320.30 C635.75,318.32 634.76,316.20 634.08,313.90 C633.40,311.60 632.11,308.95 631.53,306.50 C630.95,304.05 630.74,300.42 630.58,299.20 Z" fill="#fff" fill-opacity="0.25" stroke="#000" stroke-width="0.85" stroke-linejoin="round"/>
<path d="M663.12,290.00 C663.17,291.00 663.75,293.87 663.42,296.00 C663.10,298.13 661.92,299.82 661.17,302.80 C660.42,305.78 659.58,310.83 658.92,313.90 C658.26,316.97 657.30,319.22 657.22,321.20 C657.14,323.18 657.76,324.42 658.42,325.80 C659.08,327.18 660.71,328.88 661.17,329.50 L666.67,329.50 C667.13,328.88 668.76,327.18 669.42,325.80 C670.08,324.42 670.70,323.18 670.62,321.20 C670.54,319.22 669.58,316.97 668.92,313.90 C668.26,310.83 667.42,305.78 666.67,302.80 C665.92,299.82 664.75,298.13 664.42,296.00 C664.10,293.87 664.67,291.00 664.72,290.00 Z" fill="#fff" fill-opacity="0.25" stroke="#000" stroke-width="0.85" stroke-linejoin="round"/>
<line x1="93.40" y1="311.70" x2="93.40" y2="316.70" stroke="#222" stroke-width="0.85"/>
<circle cx="93.40" cy="314.20" r="2.7" fill="#000"/>
<line x1="129.30" y1="295.30" x2="129.30" y2="298.30" stroke="#222" stroke-width="0.85"/>
<circle cx="129.30" cy="296.80" r="2.7" fill="#000"/>
<line x1="164.80" y1="313.70" x2="164.80" y2="317.70" stroke="#222" stroke-width="0.85"/>
<circle cx="164.80" cy="315.70" r="2.7" fill="#000"/>
<line x1="200.40" y1="307.50" x2="200.40" y2="309.10" stroke="#222" stroke-width="0.85"/>
<circle cx="200.40" cy="308.30" r="2.7" fill="#000"/>
<line x1="235.90" y1="295.00" x2="235.90" y2="303.00" stroke="#222" stroke-width="0.85"/>
<circle cx="235.90" cy="299.00" r="2.7" fill="#000"/>
<line x1="271.60" y1="294.50" x2="271.60" y2="306.90" stroke="#222" stroke-width="0.85"/>
<circle cx="271.60" cy="300.70" r="2.7" fill="#000"/>
<line x1="307.40" y1="299.80" x2="307.40" y2="304.80" stroke="#222" stroke-width="0.85"/>
<circle cx="307.40" cy="302.30" r="2.7" fill="#000"/>
<line x1="342.70" y1="317.00" x2="342.70" y2="318.20" stroke="#222" stroke-width="0.85"/>
<circle cx="342.70" cy="317.60" r="2.7" fill="#000"/>
<line x1="378.60" y1="322.60" x2="378.60" y2="324.60" stroke="#222" stroke-width="0.85"/>
<circle cx="378.60" cy="323.60" r="2.7" fill="#000"/>
<line x1="414.00" y1="319.40" x2="414.00" y2="322.40" stroke="#222" stroke-width="0.85"/>
<circle cx="414.00" cy="320.90" r="2.7" fill="#000"/>
<line x1="449.70" y1="307.40" x2="449.70" y2="310.40" stroke="#222" stroke-width="0.85"/>
<circle cx="449.70" cy="308.90" r="2.7" fill="#000"/>
<line x1="485.60" y1="314.60" x2="485.60" y2="318.60" stroke="#222" stroke-width="0.85"/>
<circle cx="485.60" cy="316.60" r="2.7" fill="#000"/>
<line x1="521.30" y1="317.50" x2="521.30" y2="319.50" stroke="#222" stroke-width="0.85"/>
<circle cx="521.30" cy="318.50" r="2.7" fill="#000"/>
<line x1="556.60" y1="309.20" x2="556.60" y2="311.20" stroke="#222" stroke-width="0.85"/>
<circle cx="556.60" cy="310.20" r="2.7" fill="#000"/>
<line x1="592.20" y1="300.20" x2="592.20" y2="306.20" stroke="#222" stroke-width="0.85"/>
<circle cx="592.20" cy="303.20" r="2.7" fill="#000"/>
<line x1="628.00" y1="314.60" x2="628.00" y2="318.60" stroke="#222" stroke-width="0.85"/>
<circle cx="628.00" cy="316.60" r="2.7" fill="#000"/>
<line x1="663.50" y1="316.00" x2="663.50" y2="321.00" stroke="#222" stroke-width="0.85"/>
<circle cx="663.50" cy="318.50" r="2.7" fill="#000"/>
<line x1="325.34" y1="176.50" x2="325.34" y2="372.50" stroke="#000" stroke-width="1.8"/>
<rect x="72.50" y="176.50" width="612.00" height="196.00" fill="none" stroke="#9a9a9a" stroke-width="1"/>
<g style="opacity:0.999">
<line x1="69.7" y1="10.80" x2="72.4" y2="10.80" stroke="#333" stroke-width="1"/>
<text x="68.3" y="14.20" font-size="8.15" fill="#5a5a5a" text-anchor="end">100.00000%</text>
<line x1="69.7" y1="31.41" x2="72.4" y2="31.41" stroke="#333" stroke-width="1"/>
<text x="68.3" y="34.81" font-size="8.15" fill="#5a5a5a" text-anchor="end">10.00000%</text>
<line x1="69.7" y1="52.02" x2="72.4" y2="52.02" stroke="#333" stroke-width="1"/>
<text x="68.3" y="55.42" font-size="8.15" fill="#5a5a5a" text-anchor="end">1.00000%</text>
<line x1="69.7" y1="72.63" x2="72.4" y2="72.63" stroke="#333" stroke-width="1"/>
<text x="68.3" y="76.03" font-size="8.15" fill="#5a5a5a" text-anchor="end">0.10000%</text>
<line x1="69.7" y1="93.24" x2="72.4" y2="93.24" stroke="#333" stroke-width="1"/>
<text x="68.3" y="96.64" font-size="8.15" fill="#5a5a5a" text-anchor="end">0.01000%</text>
<line x1="69.7" y1="113.85" x2="72.4" y2="113.85" stroke="#333" stroke-width="1"/>
<text x="68.3" y="117.25" font-size="8.15" fill="#5a5a5a" text-anchor="end">0.00100%</text>
<line x1="69.7" y1="134.46" x2="72.4" y2="134.46" stroke="#333" stroke-width="1"/>
<text x="68.3" y="137.86" font-size="8.15" fill="#5a5a5a" text-anchor="end">0.00010%</text>
<line x1="69.7" y1="155.07" x2="72.4" y2="155.07" stroke="#333" stroke-width="1"/>
<text x="68.3" y="158.47" font-size="8.15" fill="#5a5a5a" text-anchor="end">0.00001%</text>
<line x1="69.7" y1="363.70" x2="72.4" y2="363.70" stroke="#333" stroke-width="1"/>
<text x="68.3" y="367.10" font-size="8.15" fill="#5a5a5a" text-anchor="end">0%</text>
<line x1="69.7" y1="339.81" x2="72.4" y2="339.81" stroke="#333" stroke-width="1"/>
<text x="68.3" y="343.21" font-size="8.15" fill="#5a5a5a" text-anchor="end">10%</text>
<line x1="69.7" y1="315.92" x2="72.4" y2="315.92" stroke="#333" stroke-width="1"/>
<text x="68.3" y="319.32" font-size="8.15" fill="#5a5a5a" text-anchor="end">20%</text>
<line x1="69.7" y1="292.03" x2="72.4" y2="292.03" stroke="#333" stroke-width="1"/>
<text x="68.3" y="295.43" font-size="8.15" fill="#5a5a5a" text-anchor="end">30%</text>
<line x1="69.7" y1="268.14" x2="72.4" y2="268.14" stroke="#333" stroke-width="1"/>
<text x="68.3" y="271.54" font-size="8.15" fill="#5a5a5a" text-anchor="end">40%</text>
<line x1="69.7" y1="244.25" x2="72.4" y2="244.25" stroke="#333" stroke-width="1"/>
<text x="68.3" y="247.65" font-size="8.15" fill="#5a5a5a" text-anchor="end">50%</text>
<line x1="69.7" y1="220.36" x2="72.4" y2="220.36" stroke="#333" stroke-width="1"/>
<text x="68.3" y="223.76" font-size="8.15" fill="#5a5a5a" text-anchor="end">60%</text>
<line x1="69.7" y1="196.47" x2="72.4" y2="196.47" stroke="#333" stroke-width="1"/>
<text x="68.3" y="199.87" font-size="8.15" fill="#5a5a5a" text-anchor="end">70%</text>
<text transform="translate(93.38,376.0) rotate(-90)" font-size="8.3" font-style="italic" fill="#5a5a5a" text-anchor="end">M. obscurus</text>
<text transform="translate(129.02,376.0) rotate(-90)" font-size="8.3" font-style="italic" fill="#5a5a5a" text-anchor="end">H. sanguinea</text>
<text transform="translate(164.66,376.0) rotate(-90)" font-size="8.3" font-style="italic" fill="#5a5a5a" text-anchor="end">D. coccinea</text>
<text transform="translate(200.30,376.0) rotate(-90)" font-size="8.3" font-style="italic" fill="#5a5a5a" text-anchor="end">C. virens</text>
<text transform="translate(235.94,376.0) rotate(-90)" font-size="8.3" font-style="italic" fill="#5a5a5a" text-anchor="end">C. stejnegeri</text>
<text transform="translate(271.58,376.0) rotate(-90)" font-size="8.3" font-style="italic" fill="#5a5a5a" text-anchor="end">C. sclateri</text>
<text transform="translate(307.22,376.0) rotate(-90)" font-size="8.3" font-style="italic" fill="#5a5a5a" text-anchor="end">C. sandwichensis</text>
<text transform="translate(342.86,376.0) rotate(-90)" font-size="8.3" font-style="italic" fill="#5a5a5a" text-anchor="end">Z. japonicus</text>
<text transform="translate(378.50,376.0) rotate(-90)" font-size="8.3" font-style="italic" fill="#5a5a5a" text-anchor="end">S. flaveola</text>
<text transform="translate(414.14,376.0) rotate(-90)" font-size="8.3" font-style="italic" fill="#5a5a5a" text-anchor="end">P. jocosus</text>
<text transform="translate(449.78,376.0) rotate(-90)" font-size="8.3" font-style="italic" fill="#5a5a5a" text-anchor="end">P. domesticus</text>
<text transform="translate(485.42,376.0) rotate(-90)" font-size="8.3" font-style="italic" fill="#5a5a5a" text-anchor="end">L. punctulata</text>
<text transform="translate(521.06,376.0) rotate(-90)" font-size="8.3" font-style="italic" fill="#5a5a5a" text-anchor="end">L. lutea</text>
<text transform="translate(556.70,376.0) rotate(-90)" font-size="8.3" font-style="italic" fill="#5a5a5a" text-anchor="end">H. mexicanus</text>
<text transform="translate(592.34,376.0) rotate(-90)" font-size="8.3" font-style="italic" fill="#5a5a5a" text-anchor="end">C. mozambica</text>
<text transform="translate(627.98,376.0) rotate(-90)" font-size="8.3" font-style="italic" fill="#5a5a5a" text-anchor="end">C. malabaricus</text>
<text transform="translate(663.62,376.0) rotate(-90)" font-size="8.3" font-style="italic" fill="#5a5a5a" text-anchor="end">C. cardinalis</text>
<text x="93.68" y="6.1" font-size="7.5" fill="#1a1a1a" text-anchor="middle">14</text>
<text x="129.32" y="6.1" font-size="7.5" fill="#1a1a1a" text-anchor="middle">96</text>
<text x="164.96" y="6.1" font-size="7.5" fill="#1a1a1a" text-anchor="middle">25</text>
<text x="200.60" y="6.1" font-size="7.5" fill="#1a1a1a" text-anchor="middle">299</text>
<text x="236.24" y="6.1" font-size="7.5" fill="#1a1a1a" text-anchor="middle">9</text>
<text x="271.88" y="6.1" font-size="7.5" fill="#1a1a1a" text-anchor="middle">9</text>
<text x="307.52" y="6.1" font-size="7.5" fill="#1a1a1a" text-anchor="middle">21</text>
<text x="343.16" y="6.1" font-size="7.5" fill="#1a1a1a" text-anchor="middle">467</text>
<text x="378.80" y="6.1" font-size="7.5" fill="#1a1a1a" text-anchor="middle">9</text>
<text x="414.44" y="6.1" font-size="7.5" fill="#1a1a1a" text-anchor="middle">7</text>
<text x="450.08" y="6.1" font-size="7.5" fill="#1a1a1a" text-anchor="middle">24</text>
<text x="485.72" y="6.1" font-size="7.5" fill="#1a1a1a" text-anchor="middle">14</text>
<text x="521.36" y="6.1" font-size="7.5" fill="#1a1a1a" text-anchor="middle">142</text>
<text x="557.00" y="6.1" font-size="7.5" fill="#1a1a1a" text-anchor="middle">93</text>
<text x="592.64" y="6.1" font-size="7.5" fill="#1a1a1a" text-anchor="middle">23</text>
<text x="628.28" y="6.1" font-size="7.5" fill="#1a1a1a" text-anchor="middle">10</text>
<text x="663.92" y="6.1" font-size="7.5" fill="#1a1a1a" text-anchor="middle">13</text>
<text x="279.2" y="187.5" font-size="7.3" fill="#000">Native</text>
<text x="343.5" y="187.5" font-size="7.3" fill="#000">Introduced</text>
<text transform="translate(7.5,80.8) rotate(-90)" font-size="10" fill="#000" text-anchor="middle">Parasitemia</text>
<text transform="translate(19.0,80.8) rotate(-90)" font-size="10" fill="#000" text-anchor="middle">(% cells infected)</text>
<text transform="translate(7.5,274.1) rotate(-90)" font-size="10" fill="#000" text-anchor="middle">Inferred infectiousness</text>
<text transform="translate(19.0,274.1) rotate(-90)" font-size="10" fill="#000" text-anchor="middle">(% disseminated)</text>
<text x="3.9" y="9.9" font-size="9.9" font-weight="bold" fill="#000">A</text>
<text x="3.7" y="186.1" font-size="9.9" font-weight="bold" fill="#000">B</text>
</g>
</svg></body></html>
